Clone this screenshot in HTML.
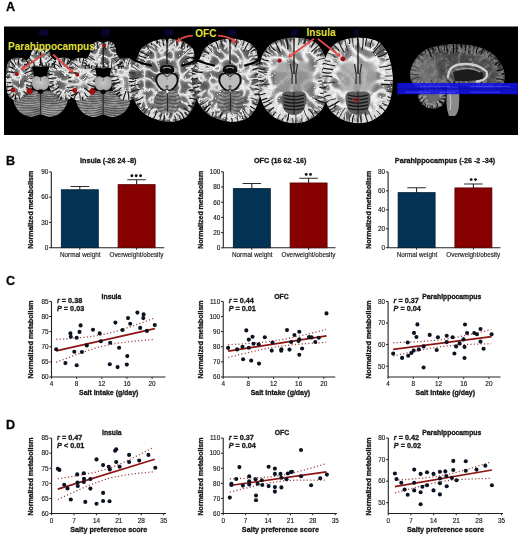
<!DOCTYPE html>
<html><head><meta charset="utf-8"><style>
html,body{margin:0;padding:0;background:#fff;}
body{width:520px;height:538px;overflow:hidden;}
svg{display:block;font-family:"Liberation Sans", sans-serif;}
.c text{stroke:#111;stroke-width:0.14px;}
.c text[font-weight="bold"]{stroke-width:0.3px;}
</style></head><body>
<svg width="520" height="538" viewBox="0 0 520 538">
<defs><filter id="soft" x="0" y="0" width="520" height="538" filterUnits="userSpaceOnUse" color-interpolation-filters="sRGB"><feGaussianBlur stdDeviation="0.3"/></filter></defs>
<rect width="520" height="538" fill="#fff"/>
<defs>
<filter id="brn" x="0" y="25" width="520" height="115" filterUnits="userSpaceOnUse" color-interpolation-filters="sRGB"><feTurbulence type="turbulence" baseFrequency="0.1" numOctaves="1" seed="2" result="n1"/><feColorMatrix in="n1" type="matrix" values="2.2 0 0 0 0  2.2 0 0 0 0  2.2 0 0 0 0  0 0 0 0 1" result="n1g"/><feComponentTransfer in="n1g" result="wm"><feFuncR type="table" tableValues="0.98 0.78 0.48 0.4 0.36 0.32 0.28"/><feFuncG type="table" tableValues="0.98 0.78 0.48 0.4 0.36 0.32 0.28"/><feFuncB type="table" tableValues="0.98 0.78 0.48 0.4 0.36 0.32 0.28"/></feComponentTransfer><feTurbulence type="turbulence" baseFrequency="0.13" numOctaves="1" seed="7" result="n2"/><feColorMatrix in="n2" type="matrix" values="0 0 0 0 0.07  0 0 0 0 0.07  0 0 0 0 0.07  -3.0 0 0 0 1" result="s0"/><feComponentTransfer in="s0" result="sul"><feFuncA type="table" tableValues="0 0 0 0 0 0.0 0"/></feComponentTransfer><feComposite in="sul" in2="wm" operator="over" result="c"/><feGaussianBlur in="c" stdDeviation="0.35" result="cb"/><feComposite in="cb" in2="SourceAlpha" operator="in"/></filter>
<filter id="brnB" x="0" y="25" width="520" height="115" filterUnits="userSpaceOnUse" color-interpolation-filters="sRGB"><feTurbulence type="turbulence" baseFrequency="0.085" numOctaves="1" seed="5" result="n1"/><feColorMatrix in="n1" type="matrix" values="2.2 0 0 0 0  2.2 0 0 0 0  2.2 0 0 0 0  0 0 0 0 1" result="n1g"/><feComponentTransfer in="n1g" result="wm"><feFuncR type="table" tableValues="1 0.95 0.78 0.55 0.45 0.4 0.36"/><feFuncG type="table" tableValues="1 0.95 0.78 0.55 0.45 0.4 0.36"/><feFuncB type="table" tableValues="1 0.95 0.78 0.55 0.45 0.4 0.36"/></feComponentTransfer><feTurbulence type="turbulence" baseFrequency="0.13" numOctaves="1" seed="9" result="n2"/><feColorMatrix in="n2" type="matrix" values="0 0 0 0 0.07  0 0 0 0 0.07  0 0 0 0 0.07  -3.0 0 0 0 1" result="s0"/><feComponentTransfer in="s0" result="sul"><feFuncA type="table" tableValues="0 0 0 0 0 0.0 0"/></feComponentTransfer><feComposite in="sul" in2="wm" operator="over" result="c"/><feGaussianBlur in="c" stdDeviation="0.35" result="cb"/><feComposite in="cb" in2="SourceAlpha" operator="in"/></filter>
<filter id="brnD" x="0" y="25" width="520" height="115" filterUnits="userSpaceOnUse" color-interpolation-filters="sRGB"><feTurbulence type="turbulence" baseFrequency="0.085" numOctaves="1" seed="8" result="n1"/><feColorMatrix in="n1" type="matrix" values="2.2 0 0 0 0  2.2 0 0 0 0  2.2 0 0 0 0  0 0 0 0 1" result="n1g"/><feComponentTransfer in="n1g" result="wm"><feFuncR type="table" tableValues="0.8 0.66 0.45 0.4 0.36 0.33 0.3"/><feFuncG type="table" tableValues="0.8 0.66 0.45 0.4 0.36 0.33 0.3"/><feFuncB type="table" tableValues="0.8 0.66 0.45 0.4 0.36 0.33 0.3"/></feComponentTransfer><feTurbulence type="turbulence" baseFrequency="0.13" numOctaves="1" seed="3" result="n2"/><feColorMatrix in="n2" type="matrix" values="0 0 0 0 0.07  0 0 0 0 0.07  0 0 0 0 0.07  -3.0 0 0 0 1" result="s0"/><feComponentTransfer in="s0" result="sul"><feFuncA type="table" tableValues="0 0 0 0 0 0.3 0.6"/></feComponentTransfer><feComposite in="sul" in2="wm" operator="over" result="c"/><feGaussianBlur in="c" stdDeviation="0.35" result="cb"/><feComposite in="cb" in2="SourceAlpha" operator="in"/></filter>
<filter id="softA" x="0" y="26" width="520" height="110" filterUnits="userSpaceOnUse" color-interpolation-filters="sRGB"><feGaussianBlur stdDeviation="0.4"/></filter>
<filter id="sb" x="-20%" y="-20%" width="140%" height="140%"><feGaussianBlur stdDeviation="0.7"/></filter>
<filter id="sb2" x="-30%" y="-30%" width="160%" height="160%"><feGaussianBlur stdDeviation="1.2"/></filter>
<radialGradient id="pons" cx="0.5" cy="0.45" r="0.6"><stop offset="0" stop-color="#c8c8c8"/><stop offset="0.8" stop-color="#a8a8a8"/><stop offset="1" stop-color="#8a8a8a"/></radialGradient>
<radialGradient id="rb" cx="0.5" cy="0.5" r="0.5"><stop offset="0" stop-color="#b80e0e"/><stop offset="0.6" stop-color="#9c0808"/><stop offset="1" stop-color="#900808" stop-opacity="0"/></radialGradient>
</defs>
<rect x="4" y="26.5" width="514" height="108.5" fill="#000"/>
<g filter="url(#softA)">
<clipPath id="cl1"><path d="M15.1 96.5C16.87 94.46 21.33 92.5 24.7 91.5C28.07 90.5 32.65 90.25 35.3 90.5C37.95 90.75 38.83 93 40.6 93C42.37 93 43.25 90.75 45.9 90.5C48.55 90.25 53.13 90.5 56.5 91.5C59.87 92.5 64.33 94.46 66.1 96.5C67.87 98.54 68.04 101 67.1 103.75C66.16 106.5 63.35 110.79 60.48 113C57.6 115.21 53.19 116.75 49.88 117C46.56 117.25 43.69 114.5 40.6 114.5C37.51 114.5 34.64 117.25 31.33 117C28.01 116.75 23.6 115.21 20.73 113C17.85 110.79 15.04 106.5 14.1 103.75C13.16 101 13.33 98.54 15.1 96.5Z"/></clipPath>
<g clip-path="url(#cl1)"><path d="M15.1 96.5C16.87 94.46 21.33 92.5 24.7 91.5C28.07 90.5 32.65 90.25 35.3 90.5C37.95 90.75 38.83 93 40.6 93C42.37 93 43.25 90.75 45.9 90.5C48.55 90.25 53.13 90.5 56.5 91.5C59.87 92.5 64.33 94.46 66.1 96.5C67.87 98.54 68.04 101 67.1 103.75C66.16 106.5 63.35 110.79 60.48 113C57.6 115.21 53.19 116.75 49.88 117C46.56 117.25 43.69 114.5 40.6 114.5C37.51 114.5 34.64 117.25 31.33 117C28.01 116.75 23.6 115.21 20.73 113C17.85 110.79 15.04 106.5 14.1 103.75C13.16 101 13.33 98.54 15.1 96.5Z" fill="#888888"/>
<path d="M15.1 96.5C16.87 94.46 21.33 92.5 24.7 91.5C28.07 90.5 32.65 90.25 35.3 90.5C37.95 90.75 38.83 93 40.6 93C42.37 93 43.25 90.75 45.9 90.5C48.55 90.25 53.13 90.5 56.5 91.5C59.87 92.5 64.33 94.46 66.1 96.5C67.87 98.54 68.04 101 67.1 103.75C66.16 106.5 63.35 110.79 60.48 113C57.6 115.21 53.19 116.75 49.88 117C46.56 117.25 43.69 114.5 40.6 114.5C37.51 114.5 34.64 117.25 31.33 117C28.01 116.75 23.6 115.21 20.73 113C17.85 110.79 15.04 106.5 14.1 103.75C13.16 101 13.33 98.54 15.1 96.5Z" fill="#fff" filter="url(#brnD)" opacity="0.35"/>
<path d="M39.4 91.12Q28.68 94.56 12.77 86.26M39.4 93.33Q28.68 96.77 12.77 89.18M39.4 95.53Q28.68 98.98 12.77 92.09M39.4 97.74Q28.68 101.19 12.77 95M39.4 99.95Q28.68 103.4 12.77 97.92M39.4 102.16Q28.68 105.61 12.77 100.84M39.4 104.37Q28.68 107.81 12.77 103.75M39.4 106.58Q28.68 110.02 12.77 106.66M39.4 108.78Q28.68 112.23 12.77 109.58M39.4 110.99Q28.68 114.44 12.77 112.5M39.4 113.2Q28.68 116.65 12.77 115.41M39.4 115.41Q28.68 118.86 12.77 118.33M41.8 91.12Q52.53 94.56 68.43 86.26M41.8 93.33Q52.53 96.77 68.43 89.18M41.8 95.53Q52.53 98.98 68.43 92.09M41.8 97.74Q52.53 101.19 68.43 95M41.8 99.95Q52.53 103.4 68.43 97.92M41.8 102.16Q52.53 105.61 68.43 100.84M41.8 104.37Q52.53 107.81 68.43 103.75M41.8 106.58Q52.53 110.02 68.43 106.66M41.8 108.78Q52.53 112.23 68.43 109.58M41.8 110.99Q52.53 114.44 68.43 112.5M41.8 113.2Q52.53 116.65 68.43 115.41M41.8 115.41Q52.53 118.86 68.43 118.33" stroke="#2e2e2e" stroke-width="0.75" fill="none" opacity="0.7"/>
<path d="M38.6 92.22Q28.68 95.67 12.77 87.36M38.6 94.43Q28.68 97.88 12.77 90.28M38.6 96.64Q28.68 100.08 12.77 93.19M38.6 98.85Q28.68 102.29 12.77 96.11M38.6 101.06Q28.68 104.5 12.77 99.02M38.6 103.26Q28.68 106.71 12.77 101.94M38.6 105.47Q28.68 108.92 12.77 104.85M38.6 107.68Q28.68 111.13 12.77 107.77M38.6 109.89Q28.68 113.33 12.77 110.68M38.6 112.1Q28.68 115.54 12.77 113.6M38.6 114.31Q28.68 117.75 12.77 116.51M38.6 116.51Q28.68 119.96 12.77 119.43M42.6 92.22Q52.53 95.67 68.43 87.36M42.6 94.43Q52.53 97.88 68.43 90.28M42.6 96.64Q52.53 100.08 68.43 93.19M42.6 98.85Q52.53 102.29 68.43 96.11M42.6 101.06Q52.53 104.5 68.43 99.02M42.6 103.26Q52.53 106.71 68.43 101.94M42.6 105.47Q52.53 108.92 68.43 104.85M42.6 107.68Q52.53 111.13 68.43 107.77M42.6 109.89Q52.53 113.33 68.43 110.68M42.6 112.1Q52.53 115.54 68.43 113.6M42.6 114.31Q52.53 117.75 68.43 116.51M42.6 116.51Q52.53 119.96 68.43 119.43" stroke="#c8c8c8" stroke-width="0.5" fill="none" opacity="0.55"/>
<path d="M40.6 93.5V117" stroke="#2a2a2a" stroke-width="1.3"/>
</g>
<clipPath id="cl2"><path d="M7 65C7.95 61.17 9.5 60.25 11.5 59C13.5 57.75 16.58 57.33 19 57.5C21.42 57.67 24 58.58 26 60C28 61.42 29.67 63.67 31 66C32.33 68.33 33.67 71 34 74C34.33 77 33.83 80.83 33 84C32.17 87.17 30.83 90.5 29 93C27.17 95.5 24.58 97.83 22 99C19.42 100.17 15.83 100.67 13.5 100C11.17 99.33 9.28 98 8 95C6.72 92 5.97 87 5.8 82C5.63 77 6.05 68.83 7 65Z"/></clipPath>
<g clip-path="url(#cl2)">
<path d="M7 65C7.95 61.17 9.5 60.25 11.5 59C13.5 57.75 16.58 57.33 19 57.5C21.42 57.67 24 58.58 26 60C28 61.42 29.67 63.67 31 66C32.33 68.33 33.67 71 34 74C34.33 77 33.83 80.83 33 84C32.17 87.17 30.83 90.5 29 93C27.17 95.5 24.58 97.83 22 99C19.42 100.17 15.83 100.67 13.5 100C11.17 99.33 9.28 98 8 95C6.72 92 5.97 87 5.8 82C5.63 77 6.05 68.83 7 65Z" fill="#6c6c6c"/>
<path d="M12 66.43L12.73 64.77L12.34 63.7L12.5 61.85L13.87 61L15.89 62.07L17.67 63.49L18.93 63.77L20.28 63.56L21.46 64.28L21.96 65.73L22.49 66.44L24.47 66.46L27.02 66.8L28.47 68.18L28.63 70.19L28.81 71.99L29.7 73.41L30.19 74.95L29.07 76.59L27.06 78.2L26.07 79.83L26.66 81.75L27.39 83.77L26.97 85.54L25.98 87.03L25.77 88.78L26.22 90.97L25.68 92.94L23.64 93.58L21.26 93.26L19.8 93.29L18.86 94.09L17.44 94.47L16.05 93.61L15.53 92.81L14.92 93.51L13.4 94.87L11.76 94.75L11.35 93.06L11.58 91.52L10.92 89.86L9.97 87.96L10.27 85.7L11.94 83.3L13.27 81.18L12.93 79.3L11.72 77.16L11.3 74.91L11.81 72.7L11.8 70.56L10.59 68.46L9.47 66.56Z" fill="#b4b4b4" filter="url(#sb)"/>
<path d="M12 66.43L12.73 64.77L12.34 63.7L12.5 61.85L13.87 61L15.89 62.07L17.67 63.49L18.93 63.77L20.28 63.56L21.46 64.28L21.96 65.73L22.49 66.44L24.47 66.46L27.02 66.8L28.47 68.18L28.63 70.19L28.81 71.99L29.7 73.41L30.19 74.95L29.07 76.59L27.06 78.2L26.07 79.83L26.66 81.75L27.39 83.77L26.97 85.54L25.98 87.03L25.77 88.78L26.22 90.97L25.68 92.94L23.64 93.58L21.26 93.26L19.8 93.29L18.86 94.09L17.44 94.47L16.05 93.61L15.53 92.81L14.92 93.51L13.4 94.87L11.76 94.75L11.35 93.06L11.58 91.52L10.92 89.86L9.97 87.96L10.27 85.7L11.94 83.3L13.27 81.18L12.93 79.3L11.72 77.16L11.3 74.91L11.81 72.7L11.8 70.56L10.59 68.46L9.47 66.56Z" fill="none" stroke="#dcdcdc" stroke-width="2.2" opacity="0.85" filter="url(#sb)"/>
<path d="M7 65C7.95 61.17 9.5 60.25 11.5 59C13.5 57.75 16.58 57.33 19 57.5C21.42 57.67 24 58.58 26 60C28 61.42 29.67 63.67 31 66C32.33 68.33 33.67 71 34 74C34.33 77 33.83 80.83 33 84C32.17 87.17 30.83 90.5 29 93C27.17 95.5 24.58 97.83 22 99C19.42 100.17 15.83 100.67 13.5 100C11.17 99.33 9.28 98 8 95C6.72 92 5.97 87 5.8 82C5.63 77 6.05 68.83 7 65Z" fill="#fff" filter="url(#brn)" opacity="0.85"/>
<path d="M16.46 61.45L13.97 59.25M30.23 73.37L32.92 75.22M29.65 73.7L32.33 75.54M21.76 88.66Q25.39 89.13 29.73 87.31M20.98 95.24L23.88 96.25M12.11 94.15L8.21 93.14M11.9 94.33L11.16 98.24M10.37 73.16L8.59 71.04" stroke="#dcdcdc" stroke-width="0.8" stroke-linecap="round" fill="none"/>
<path d="M14.77 62.53L15.98 59.96M20.13 67.96Q23.38 65.44 25.35 61.89M27.55 71.55L31.26 73.01M28.68 74.56Q30 73.13 31.57 73M27.26 82.79L29.12 85.63M28.24 83.74L31.57 81.74M21.18 92.04L21.51 95.9M21.42 94.33Q20.67 95.63 20.83 96.39M15.79 95.34L18.81 97.54M15.7 95.24L13.46 97.93M12.93 94.31L14.16 97.33M14.53 93.01Q12.43 93.48 11.1 95.18M11.88 88.74L10.17 91.19M9.81 85.23L7.66 83.3M10.24 85.21L7.23 82.51M9.29 80.61L6.54 83.56M11.43 69.39L9.29 66.52" stroke="#dcdcdc" stroke-width="1.2" stroke-linecap="round" fill="none"/>
<path d="M11.73 66.88Q10.34 66.22 10.84 63.24M14.96 66.68Q15.73 63.31 13.87 61M15.08 65.46Q15.11 62.74 17.56 60.07M25.69 82Q27.74 84.22 30.46 84.01M19.08 90.57Q21.06 93.25 26.15 91.67M11.34 90.92L8.55 89.21M16.18 74.26Q12.06 72.03 7.7 73.95M13.69 71.11Q11.69 68.52 9.31 69.61" stroke="#dcdcdc" stroke-width="1.6" stroke-linecap="round" fill="none"/>
<path d="M24.69 69.48Q26.41 67.25 28.6 65.79M26.97 73.59Q27.54 70.27 29.31 69.86M24.93 83.38Q27.99 82.92 31.12 80.72M14.33 93.43Q15.57 95.27 17.25 96.86M14.5 89.69Q12.45 93.37 12.8 98.12M14.46 89.44Q11.98 90.26 9.79 92.02M14.42 90.79Q11.6 87.95 9.49 88.03M11.56 84.4Q10.4 85.64 9.09 85.04M11.47 81.37Q9.69 80.88 7.97 79.98" stroke="#dcdcdc" stroke-width="2.0" stroke-linecap="round" fill="none"/>
<path d="M14.07 56.91Q13.63 61.66 15.97 64.69M29.28 61.73Q25.68 63.7 23.9 66.28M34.93 79.04Q32.22 78.09 30.35 78.55M34.31 82.82Q28.75 82.54 24.56 80.69M33.11 87.06Q29.46 85.6 26.65 84.79M25.55 97.98Q23.6 96.93 23.68 95.57M6.86 94.85Q9.67 95.09 10.61 93.36M4.83 82.88Q8.35 82.19 10.92 82.59M4.8 76.98Q8.52 77.17 11.25 77.15" stroke="#141414" stroke-width="0.8" stroke-linecap="round" fill="none"/>
<path d="M9.2 59.35Q12.02 63.3 14.67 66.12M19.86 56.58Q17.67 60.92 18.82 64.69M23.75 57.63Q22.15 59.38 22.43 60.82M32.21 66.11Q28.24 68.24 25.2 69.99M34.08 70.08Q28.75 71.26 24.85 73.42M34.99 73.88Q32.35 73.46 30.88 74.38M31.99 89.83Q28.06 89.61 26.27 87.17M27.84 95.93Q26.42 92.35 23.52 91.76M20.17 100.71Q19.86 98.45 19.25 97.32M16.18 101.3Q14.54 97.27 16.06 94.19M5.17 87.04Q9.57 86.72 12.94 86.14M5.04 72.21Q10.26 71.33 14.31 72.88" stroke="#141414" stroke-width="1.1" stroke-linecap="round" fill="none"/>
<path d="M9.7 99.13Q13.17 97.17 13.97 94.21M5.77 90.91Q10.31 90.45 13.69 89.3M5.58 67.09Q9.91 66.29 12.81 68.2" stroke="#141414" stroke-width="1.4" stroke-linecap="round" fill="none"/>
</g>
<clipPath id="cl3"><path d="M74.2 65C73.25 61.17 71.7 60.25 69.7 59C67.7 57.75 64.62 57.33 62.2 57.5C59.78 57.67 57.2 58.58 55.2 60C53.2 61.42 51.53 63.67 50.2 66C48.87 68.33 47.53 71 47.2 74C46.87 77 47.37 80.83 48.2 84C49.03 87.17 50.37 90.5 52.2 93C54.03 95.5 56.62 97.83 59.2 99C61.78 100.17 65.37 100.67 67.7 100C70.03 99.33 71.92 98 73.2 95C74.48 92 75.23 87 75.4 82C75.57 77 75.15 68.83 74.2 65Z"/></clipPath>
<g clip-path="url(#cl3)">
<path d="M74.2 65C73.25 61.17 71.7 60.25 69.7 59C67.7 57.75 64.62 57.33 62.2 57.5C59.78 57.67 57.2 58.58 55.2 60C53.2 61.42 51.53 63.67 50.2 66C48.87 68.33 47.53 71 47.2 74C46.87 77 47.37 80.83 48.2 84C49.03 87.17 50.37 90.5 52.2 93C54.03 95.5 56.62 97.83 59.2 99C61.78 100.17 65.37 100.67 67.7 100C70.03 99.33 71.92 98 73.2 95C74.48 92 75.23 87 75.4 82C75.57 77 75.15 68.83 74.2 65Z" fill="#6c6c6c"/>
<path d="M69.9 66.24L70.38 63.75L69.88 62.62L67.97 63L66.12 64.05L64.9 64.28L63.53 63.54L62.22 63.42L61.17 64.41L60.17 65.18L58.54 64.73L56.33 64.04L54.58 64.78L54.13 66.77L53.97 68.86L53.05 70.41L52.03 71.86L52.34 73.6L53.92 75.16L54.88 76.51L54.16 78.19L52.91 80.22L52.76 82.18L53.57 83.84L53.94 85.65L53.45 87.86L53.43 89.94L55 90.95L57.55 91.11L59.45 91.47L60.4 92.6L61.25 93.58L62.55 93.45L64.01 92.99L65.15 93.68L66.2 95.52L67.69 96.56L68.58 95.76L68.63 94.24L69.15 92.79L70.07 91.65L70.21 89.85L68.94 87.62L67.63 85.37L67.91 83.22L69.38 81.21L70.32 79.29L70.09 77.15L69.91 74.91L70.87 72.59L72.1 70.29L71.87 68.28L70.03 66.89Z" fill="#b4b4b4" filter="url(#sb)"/>
<path d="M69.9 66.24L70.38 63.75L69.88 62.62L67.97 63L66.12 64.05L64.9 64.28L63.53 63.54L62.22 63.42L61.17 64.41L60.17 65.18L58.54 64.73L56.33 64.04L54.58 64.78L54.13 66.77L53.97 68.86L53.05 70.41L52.03 71.86L52.34 73.6L53.92 75.16L54.88 76.51L54.16 78.19L52.91 80.22L52.76 82.18L53.57 83.84L53.94 85.65L53.45 87.86L53.43 89.94L55 90.95L57.55 91.11L59.45 91.47L60.4 92.6L61.25 93.58L62.55 93.45L64.01 92.99L65.15 93.68L66.2 95.52L67.69 96.56L68.58 95.76L68.63 94.24L69.15 92.79L70.07 91.65L70.21 89.85L68.94 87.62L67.63 85.37L67.91 83.22L69.38 81.21L70.32 79.29L70.09 77.15L69.91 74.91L70.87 72.59L72.1 70.29L71.87 68.28L70.03 66.89Z" fill="none" stroke="#dcdcdc" stroke-width="2.2" opacity="0.85" filter="url(#sb)"/>
<path d="M74.2 65C73.25 61.17 71.7 60.25 69.7 59C67.7 57.75 64.62 57.33 62.2 57.5C59.78 57.67 57.2 58.58 55.2 60C53.2 61.42 51.53 63.67 50.2 66C48.87 68.33 47.53 71 47.2 74C46.87 77 47.37 80.83 48.2 84C49.03 87.17 50.37 90.5 52.2 93C54.03 95.5 56.62 97.83 59.2 99C61.78 100.17 65.37 100.67 67.7 100C70.03 99.33 71.92 98 73.2 95C74.48 92 75.23 87 75.4 82C75.57 77 75.15 68.83 74.2 65Z" fill="#fff" filter="url(#brn)" opacity="0.85"/>
<path d="M68.21 66.45L68.78 62.87M62.06 61.92L59.42 60.23M56.67 64.03L53.71 63.62M60.24 68.48Q57.36 65.8 53.72 64.11M56.68 65.73L56.48 63.47M51.37 74.27L49.97 71.64M55.21 91.33L54.97 94.12M61.91 94.89L63.06 98.13M68.75 93.72L72.64 92.44M67.15 93.62L67.94 96.64M69.31 86.57L71.38 89.35M70.7 80.91L72.52 82.95M69.14 80.76L71.84 83.53" stroke="#dcdcdc" stroke-width="0.8" stroke-linecap="round" fill="none"/>
<path d="M66.12 69.7Q68.46 65.71 71.3 62.6M61.93 63.78Q62.55 61.79 61.2 60.17M58.03 67.15Q56.49 64.79 56.29 61.54M55.86 69.91Q53.95 68.15 51.16 68.06M53.98 74.77Q51.55 75.58 50.2 72.5M57 76.71Q52.96 76.48 48.93 76.69M56.51 82.39Q52.56 80.2 49.05 80.18M52.93 86.22L50.12 84.61M54.54 89.64L53.88 91.86M60.47 89.95Q56.09 89.83 53.98 92.51M59.05 93.37L55.29 93.44M66.6 95.67L68.3 97.51M64.31 95.32L66.71 95.89M65 95.8L63.86 99.49M64.85 94.16Q68.36 92.92 70.22 94.45M65.37 86.95Q68.79 86.42 72.12 86.59M68.22 79.78Q70.9 81.39 73.58 81.31M66.5 82.28Q70.17 80.28 73.64 77.81" stroke="#dcdcdc" stroke-width="1.2" stroke-linecap="round" fill="none"/>
<path d="M55.83 85.94Q53.82 87.5 50.65 84.73M55.44 88.3Q54.64 90.82 51.86 89.33M62.22 92.95Q59.33 93.15 57.34 93.82M63.69 93.6Q62.21 94.92 60.13 95.76M66.76 92.51Q67.82 95.52 64.45 98.15M63.59 93.75Q63.83 96.34 68.1 96.43M71.08 87.79L73 90.89M65.32 71.93Q68.65 71.35 72.02 74.81M70.99 69.54L74.06 72.1M69.67 69.79L72.59 72.23" stroke="#dcdcdc" stroke-width="1.6" stroke-linecap="round" fill="none"/>
<path d="M66.39 65.62Q64.89 62.41 66.39 59.96M70.04 87.45Q71.33 86.66 71.47 90.1" stroke="#dcdcdc" stroke-width="2.0" stroke-linecap="round" fill="none"/>
<path d="M67.61 69.9Q70.5 69.98 73.22 68.77" stroke="#dcdcdc" stroke-width="2.4" stroke-linecap="round" fill="none"/>
<path d="M69.51 57.75Q68.58 62.48 65.88 65.24M64.59 56.52Q64.71 59.4 64.21 61.22M52.93 60.62Q55.76 64.74 59.15 66.88M47.4 69.38Q50.68 72.57 54.34 72.17M46.89 82.82Q50.61 81.93 53.39 81.4M53.36 95.93Q57.34 93.39 59.29 90.2M56.88 98.86Q59.78 95.09 61.49 91.74M66.55 101.23Q64.83 97.83 65.87 95.13M72.11 98.55Q70.07 97.31 69.44 96.03M76.2 85.4Q72.58 86.38 70.18 84.88M76.34 75.39Q71.55 74.32 67.87 75.75M76.16 72.21Q73.94 73.83 72.51 72.47" stroke="#141414" stroke-width="0.8" stroke-linecap="round" fill="none"/>
<path d="M58.21 57.34Q58.77 62.88 61.51 66.59M49.72 64.85Q54.14 66.22 56.54 68.99M46.32 73.09Q49.63 75.23 52.47 74.13M46.27 79.04Q51.49 78.28 55.75 78.02M50.6 92.41Q55.08 89.34 58.97 87.19M74.55 94.25Q71.61 94.54 70.4 92.83M75.83 88.64Q70.94 89.4 67.47 87.41M76.43 79.27Q74 80.08 72.55 79.28M75.62 67.09Q70.83 66.52 67.42 68.34" stroke="#141414" stroke-width="1.1" stroke-linecap="round" fill="none"/>
<path d="M71.42 58.92Q70.44 62.57 67.89 63.88M48.09 87.06Q51.63 86.43 53.83 85.04M60.25 100.48Q60.41 98.16 61.34 97.16" stroke="#141414" stroke-width="1.4" stroke-linecap="round" fill="none"/>
</g>
<clipPath id="cl4"><path d="M31.8 51C32.97 49.46 35.17 48.25 36.64 48C38.11 47.75 39.28 49.5 40.6 49.5C41.92 49.5 43.09 47.75 44.56 48C46.03 48.25 48.23 49.46 49.4 51C50.57 52.54 50.43 55.5 51.6 57.25C52.77 59 55.78 59.88 56.44 61.5C57.1 63.12 57.47 66.17 55.56 67C53.65 67.83 47.49 66.5 45 66.5C42.51 66.5 42.07 67 40.6 67C39.13 67 38.69 66.5 36.2 66.5C33.71 66.5 27.55 67.83 25.64 67C23.73 66.17 24.1 63.12 24.76 61.5C25.42 59.88 28.43 59 29.6 57.25C30.77 55.5 30.63 52.54 31.8 51Z"/></clipPath>
<g clip-path="url(#cl4)">
<path d="M31.8 51C32.97 49.46 35.17 48.25 36.64 48C38.11 47.75 39.28 49.5 40.6 49.5C41.92 49.5 43.09 47.75 44.56 48C46.03 48.25 48.23 49.46 49.4 51C50.57 52.54 50.43 55.5 51.6 57.25C52.77 59 55.78 59.88 56.44 61.5C57.1 63.12 57.47 66.17 55.56 67C53.65 67.83 47.49 66.5 45 66.5C42.51 66.5 42.07 67 40.6 67C39.13 67 38.69 66.5 36.2 66.5C33.71 66.5 27.55 67.83 25.64 67C23.73 66.17 24.1 63.12 24.76 61.5C25.42 59.88 28.43 59 29.6 57.25C30.77 55.5 30.63 52.54 31.8 51Z" fill="#6c6c6c"/>
<path d="M35.2 53.46L36.63 53.85L37.45 53.38L36.44 52.61L37.4 53.07L42.55 54.05L44.92 52.7L44.29 51.62L45.91 50.98L47.31 51.96L47 53.36L46.68 55.41L47.71 58.37L50.13 61.2L51.91 63.36L51.48 64.25L51.08 63.94L52.43 63.77L54.04 63.84L53.33 64.03L51.27 63.52L48.83 63.42L46.39 63.95L43.73 64.16L41.33 63.45L40.36 62.04L38.76 61.23L35.5 61.63L33.06 62.27L30.58 62.22L28.4 62.15L27.11 62.99L27.1 64.73L26.35 64.08L27.3 62.64L28.35 62.99L30.27 61.89L32.57 59.29L34.32 56.3L36.02 54.4Z" fill="#c8c8c8" filter="url(#sb)"/>
<path d="M35.2 53.46L36.63 53.85L37.45 53.38L36.44 52.61L37.4 53.07L42.55 54.05L44.92 52.7L44.29 51.62L45.91 50.98L47.31 51.96L47 53.36L46.68 55.41L47.71 58.37L50.13 61.2L51.91 63.36L51.48 64.25L51.08 63.94L52.43 63.77L54.04 63.84L53.33 64.03L51.27 63.52L48.83 63.42L46.39 63.95L43.73 64.16L41.33 63.45L40.36 62.04L38.76 61.23L35.5 61.63L33.06 62.27L30.58 62.22L28.4 62.15L27.11 62.99L27.1 64.73L26.35 64.08L27.3 62.64L28.35 62.99L30.27 61.89L32.57 59.29L34.32 56.3L36.02 54.4Z" fill="none" stroke="#dcdcdc" stroke-width="2.2" opacity="0.85" filter="url(#sb)"/>
<path d="M31.8 51C32.97 49.46 35.17 48.25 36.64 48C38.11 47.75 39.28 49.5 40.6 49.5C41.92 49.5 43.09 47.75 44.56 48C46.03 48.25 48.23 49.46 49.4 51C50.57 52.54 50.43 55.5 51.6 57.25C52.77 59 55.78 59.88 56.44 61.5C57.1 63.12 57.47 66.17 55.56 67C53.65 67.83 47.49 66.5 45 66.5C42.51 66.5 42.07 67 40.6 67C39.13 67 38.69 66.5 36.2 66.5C33.71 66.5 27.55 67.83 25.64 67C23.73 66.17 24.1 63.12 24.76 61.5C25.42 59.88 28.43 59 29.6 57.25C30.77 55.5 30.63 52.54 31.8 51Z" fill="#fff" filter="url(#brn)" opacity="0.85"/>
<path d="M36.89 53.05L36.9 49.55M37.79 51.01L39.63 49.17M42.9 53.26Q40.6 53.31 42.07 52.33M41.55 53.06L42.91 50.84M41.5 52.97L39.22 51.78M46.92 56.03Q47.92 55.84 48.41 54.17M48.08 55.01L51.52 57.22M53.43 63.68L55.86 63.34M54.96 64.63L56.83 66.44M54.38 64.81L56.5 66.86M34.61 63.96L32.94 65.45M34.52 63.84L36.47 65.75M26.61 61.99L28.86 64.04M29.67 64.87L28.66 68.09M29.79 64.87L28.94 67.61M29.84 61.54L27.44 61.2" stroke="#dcdcdc" stroke-width="0.8" stroke-linecap="round" fill="none"/>
<path d="M37.89 54.8Q36.92 51.89 33.5 51.59M37.85 50.88Q38.3 50.94 36.74 51.28M53.44 65.47Q53.82 64.09 52.83 62.06M52.38 62.31L55.18 64.59M51.9 62.04L53.54 59.73M53.21 64L55.79 63.69M54.56 64.31Q55.83 64.74 53.31 64.93M51.17 64.52L52.64 66.24M48.56 62.9L45.46 65.2M43.42 61.62L46.17 63.84M32.68 64.87Q29.19 64.78 26 65.11M31.18 62.97Q30.49 61.19 27.65 61.03M33.66 60.65L30.08 61.44" stroke="#dcdcdc" stroke-width="1.2" stroke-linecap="round" fill="none"/>
<path d="M45.24 51.97Q44.36 50.26 46.7 50.89M45.09 57.4Q45.81 55.05 48.05 56.99M48.98 60.99Q51.56 61.47 54.13 63.53M51.26 63.83Q51.55 64.59 50.29 65.13M47.67 59.17Q49.46 62.15 47.86 64.73M42.74 60.39Q43.78 61.8 43.67 63.26M35.22 63.36Q33.41 63.92 36.24 64.48M24.63 59.74Q27.5 62.43 27.89 64.98" stroke="#dcdcdc" stroke-width="1.6" stroke-linecap="round" fill="none"/>
<path d="M49.89 62.28Q52.92 63.42 55.11 65.57M27.72 63.99Q27.69 62.84 27.37 63.04M35.5 62.05Q33.18 60.42 31.19 58.34" stroke="#dcdcdc" stroke-width="2.0" stroke-linecap="round" fill="none"/>
<path d="M32.88 48.63Q34.75 51.56 36.34 53.46M42.81 47.35Q42.23 50.37 44.35 51.26M51.73 54.92Q49.86 57.29 47.99 55.98M57.9 65.19Q54.62 64 52.13 64.08M48.3 67.81Q48.73 65.02 48.85 63.21M29.54 68.18Q28.77 63.84 28.92 60.42M25.76 68.09Q27.22 64.19 28.05 61.14M29.47 54.92Q32.02 54.94 33.25 55.99" stroke="#141414" stroke-width="0.8" stroke-linecap="round" fill="none"/>
<path d="M46.87 47.76Q44.56 49.78 44.78 51.95M50.21 50.41Q47.55 51.48 46.51 53.09M52.79 57.13Q49.97 60.25 47.36 62.13M56.4 59.8Q54.91 63.5 51.94 64.35M51.66 68.18Q52.42 65.64 51.99 64.01M45.51 67.52Q47.06 64.69 45.67 62.76M42.57 67.74Q42.48 65.11 41.9 63.57M39.21 67.86Q40.43 65.85 39.71 64.56M33.69 67.71Q35.03 63.7 32.93 61.09M23.23 64.09Q25.85 64.94 27.47 64.07M24.24 60.41Q27.46 60.9 28.2 63.18M27.94 57.55Q31.29 59.52 32.08 62.37" stroke="#141414" stroke-width="1.1" stroke-linecap="round" fill="none"/>
<path d="M38.39 47.35Q37.23 50.77 36.11 53.13M54.71 68.22Q54.06 65.43 54.15 63.56" stroke="#141414" stroke-width="1.4" stroke-linecap="round" fill="none"/>
</g>
<path d="M40.6 49.5V65.5" stroke="#111" stroke-width="1.3"/>
<circle cx="37.1" cy="64" r="1.1" fill="#eee"/><circle cx="44.1" cy="64" r="1.1" fill="#eee"/>
<path d="M33.1 78C33.85 76.67 35.35 76.08 36.6 76C37.85 75.92 39.27 77.5 40.6 77.5C41.93 77.5 43.35 75.92 44.6 76C45.85 76.08 47.35 76.67 48.1 78C48.85 79.33 49.35 82.17 49.1 84C48.85 85.83 48.02 87.92 46.6 89C45.18 90.08 42.6 90.5 40.6 90.5C38.6 90.5 36.02 90.08 34.6 89C33.18 87.92 32.35 85.83 32.1 84C31.85 82.17 32.35 79.33 33.1 78Z" fill="url(#pons)"/>
<path d="M40.6 78v3" stroke="#777" stroke-width="1"/>
<ellipse cx="40.6" cy="91.5" rx="2.7" ry="2.3" fill="#080808"/>
<clipPath id="cl5"><path d="M77.7 96.8C79.47 94.76 83.93 92.8 87.3 91.8C90.67 90.8 95.25 90.55 97.9 90.8C100.55 91.05 101.43 93.3 103.2 93.3C104.97 93.3 105.85 91.05 108.5 90.8C111.15 90.55 115.73 90.8 119.1 91.8C122.47 92.8 126.93 94.76 128.7 96.8C130.47 98.84 130.64 101.3 129.7 104.05C128.76 106.8 125.95 111.09 123.08 113.3C120.2 115.51 115.79 117.05 112.47 117.3C109.16 117.55 106.29 114.8 103.2 114.8C100.11 114.8 97.24 117.55 93.93 117.3C90.61 117.05 86.2 115.51 83.33 113.3C80.45 111.09 77.64 106.8 76.7 104.05C75.76 101.3 75.93 98.84 77.7 96.8Z"/></clipPath>
<g clip-path="url(#cl5)"><path d="M77.7 96.8C79.47 94.76 83.93 92.8 87.3 91.8C90.67 90.8 95.25 90.55 97.9 90.8C100.55 91.05 101.43 93.3 103.2 93.3C104.97 93.3 105.85 91.05 108.5 90.8C111.15 90.55 115.73 90.8 119.1 91.8C122.47 92.8 126.93 94.76 128.7 96.8C130.47 98.84 130.64 101.3 129.7 104.05C128.76 106.8 125.95 111.09 123.08 113.3C120.2 115.51 115.79 117.05 112.47 117.3C109.16 117.55 106.29 114.8 103.2 114.8C100.11 114.8 97.24 117.55 93.93 117.3C90.61 117.05 86.2 115.51 83.33 113.3C80.45 111.09 77.64 106.8 76.7 104.05C75.76 101.3 75.93 98.84 77.7 96.8Z" fill="#888888"/>
<path d="M77.7 96.8C79.47 94.76 83.93 92.8 87.3 91.8C90.67 90.8 95.25 90.55 97.9 90.8C100.55 91.05 101.43 93.3 103.2 93.3C104.97 93.3 105.85 91.05 108.5 90.8C111.15 90.55 115.73 90.8 119.1 91.8C122.47 92.8 126.93 94.76 128.7 96.8C130.47 98.84 130.64 101.3 129.7 104.05C128.76 106.8 125.95 111.09 123.08 113.3C120.2 115.51 115.79 117.05 112.47 117.3C109.16 117.55 106.29 114.8 103.2 114.8C100.11 114.8 97.24 117.55 93.93 117.3C90.61 117.05 86.2 115.51 83.33 113.3C80.45 111.09 77.64 106.8 76.7 104.05C75.76 101.3 75.93 98.84 77.7 96.8Z" fill="#fff" filter="url(#brnD)" opacity="0.35"/>
<path d="M102 91.42Q91.28 94.86 75.38 86.56M102 93.63Q91.28 97.07 75.38 89.48M102 95.83Q91.28 99.28 75.38 92.39M102 98.04Q91.28 101.49 75.38 95.3M102 100.25Q91.28 103.7 75.38 98.22M102 102.46Q91.28 105.91 75.38 101.14M102 104.67Q91.28 108.11 75.38 104.05M102 106.88Q91.28 110.32 75.38 106.97M102 109.08Q91.28 112.53 75.38 109.88M102 111.29Q91.28 114.74 75.38 112.8M102 113.5Q91.28 116.95 75.38 115.71M102 115.71Q91.28 119.16 75.38 118.62M104.4 91.42Q115.12 94.86 131.03 86.56M104.4 93.63Q115.12 97.07 131.03 89.48M104.4 95.83Q115.12 99.28 131.03 92.39M104.4 98.04Q115.12 101.49 131.03 95.3M104.4 100.25Q115.12 103.7 131.03 98.22M104.4 102.46Q115.12 105.91 131.03 101.14M104.4 104.67Q115.12 108.11 131.03 104.05M104.4 106.88Q115.12 110.32 131.03 106.97M104.4 109.08Q115.12 112.53 131.03 109.88M104.4 111.29Q115.12 114.74 131.03 112.8M104.4 113.5Q115.12 116.95 131.03 115.71M104.4 115.71Q115.12 119.16 131.03 118.62" stroke="#2e2e2e" stroke-width="0.75" fill="none" opacity="0.7"/>
<path d="M101.2 92.52Q91.28 95.97 75.38 87.66M101.2 94.73Q91.28 98.18 75.38 90.58M101.2 96.94Q91.28 100.38 75.38 93.49M101.2 99.15Q91.28 102.59 75.38 96.41M101.2 101.36Q91.28 104.8 75.38 99.32M101.2 103.56Q91.28 107.01 75.38 102.24M101.2 105.77Q91.28 109.22 75.38 105.15M101.2 107.98Q91.28 111.43 75.38 108.07M101.2 110.19Q91.28 113.63 75.38 110.98M101.2 112.4Q91.28 115.84 75.38 113.9M101.2 114.61Q91.28 118.05 75.38 116.81M101.2 116.81Q91.28 120.26 75.38 119.73M105.2 92.52Q115.12 95.97 131.03 87.66M105.2 94.73Q115.12 98.18 131.03 90.58M105.2 96.94Q115.12 100.38 131.03 93.49M105.2 99.15Q115.12 102.59 131.03 96.41M105.2 101.36Q115.12 104.8 131.03 99.32M105.2 103.56Q115.12 107.01 131.03 102.24M105.2 105.77Q115.12 109.22 131.03 105.15M105.2 107.98Q115.12 111.43 131.03 108.07M105.2 110.19Q115.12 113.63 131.03 110.98M105.2 112.4Q115.12 115.84 131.03 113.9M105.2 114.61Q115.12 118.05 131.03 116.81M105.2 116.81Q115.12 120.26 131.03 119.73" stroke="#c8c8c8" stroke-width="0.5" fill="none" opacity="0.55"/>
<path d="M103.2 93.8V117.3" stroke="#2a2a2a" stroke-width="1.3"/>
</g>
<clipPath id="cl6"><path d="M69.6 65.3C70.55 61.47 72.1 60.55 74.1 59.3C76.1 58.05 79.18 57.63 81.6 57.8C84.02 57.97 86.6 58.88 88.6 60.3C90.6 61.72 92.27 63.97 93.6 66.3C94.93 68.63 96.27 71.3 96.6 74.3C96.93 77.3 96.43 81.13 95.6 84.3C94.77 87.47 93.43 90.8 91.6 93.3C89.77 95.8 87.18 98.13 84.6 99.3C82.02 100.47 78.43 100.97 76.1 100.3C73.77 99.63 71.88 98.3 70.6 95.3C69.32 92.3 68.57 87.3 68.4 82.3C68.23 77.3 68.65 69.13 69.6 65.3Z"/></clipPath>
<g clip-path="url(#cl6)">
<path d="M69.6 65.3C70.55 61.47 72.1 60.55 74.1 59.3C76.1 58.05 79.18 57.63 81.6 57.8C84.02 57.97 86.6 58.88 88.6 60.3C90.6 61.72 92.27 63.97 93.6 66.3C94.93 68.63 96.27 71.3 96.6 74.3C96.93 77.3 96.43 81.13 95.6 84.3C94.77 87.47 93.43 90.8 91.6 93.3C89.77 95.8 87.18 98.13 84.6 99.3C82.02 100.47 78.43 100.97 76.1 100.3C73.77 99.63 71.88 98.3 70.6 95.3C69.32 92.3 68.57 87.3 68.4 82.3C68.23 77.3 68.65 69.13 69.6 65.3Z" fill="#6c6c6c"/>
<path d="M74.52 66.71L74.24 64.49L73.91 62.92L75.17 62.26L77.19 63.12L78.84 64.26L80.28 64.19L81.58 63.67L82.79 64.17L83.64 65.46L84.61 65.96L86.43 65.38L88.83 65.38L90.16 66.75L90.32 68.89L90.66 70.76L91.7 72.18L92.29 73.71L91.25 75.36L89.49 76.83L88.9 78.41L89.83 80.34L90.7 82.39L90.35 84.17L89.47 85.8L89.4 87.72L89.9 89.96L89.43 91.71L87.3 92.36L84.83 92.31L83.3 92.77L82.51 93.8L81.43 94.29L79.86 93.72L78.64 93.28L77.89 94.33L76.52 95.96L75.08 96.22L74.66 94.86L74.63 93.09L73.99 91.87L73.11 90.25L73.51 88.12L75.1 85.78L76.12 83.51L75.44 81.49L74.07 79.6L73.63 77.45L74.07 75.22L73.92 72.96L72.67 70.69L71.72 68.55L72.51 66.95Z" fill="#b4b4b4" filter="url(#sb)"/>
<path d="M74.52 66.71L74.24 64.49L73.91 62.92L75.17 62.26L77.19 63.12L78.84 64.26L80.28 64.19L81.58 63.67L82.79 64.17L83.64 65.46L84.61 65.96L86.43 65.38L88.83 65.38L90.16 66.75L90.32 68.89L90.66 70.76L91.7 72.18L92.29 73.71L91.25 75.36L89.49 76.83L88.9 78.41L89.83 80.34L90.7 82.39L90.35 84.17L89.47 85.8L89.4 87.72L89.9 89.96L89.43 91.71L87.3 92.36L84.83 92.31L83.3 92.77L82.51 93.8L81.43 94.29L79.86 93.72L78.64 93.28L77.89 94.33L76.52 95.96L75.08 96.22L74.66 94.86L74.63 93.09L73.99 91.87L73.11 90.25L73.51 88.12L75.1 85.78L76.12 83.51L75.44 81.49L74.07 79.6L73.63 77.45L74.07 75.22L73.92 72.96L72.67 70.69L71.72 68.55L72.51 66.95Z" fill="none" stroke="#dcdcdc" stroke-width="2.2" opacity="0.85" filter="url(#sb)"/>
<path d="M69.6 65.3C70.55 61.47 72.1 60.55 74.1 59.3C76.1 58.05 79.18 57.63 81.6 57.8C84.02 57.97 86.6 58.88 88.6 60.3C90.6 61.72 92.27 63.97 93.6 66.3C94.93 68.63 96.27 71.3 96.6 74.3C96.93 77.3 96.43 81.13 95.6 84.3C94.77 87.47 93.43 90.8 91.6 93.3C89.77 95.8 87.18 98.13 84.6 99.3C82.02 100.47 78.43 100.97 76.1 100.3C73.77 99.63 71.88 98.3 70.6 95.3C69.32 92.3 68.57 87.3 68.4 82.3C68.23 77.3 68.65 69.13 69.6 65.3Z" fill="#fff" filter="url(#brn)" opacity="0.85"/>
<path d="M88.33 67.92L91.48 68.63M80.69 97.1L78.34 100.53M72.2 89.16L70.04 92.28M74.15 79.46L71.95 81.78M77.67 67.27Q74.81 67.35 71.92 70.61M73.54 69.03L71.4 70.9M73.83 68.8L70.72 71.52" stroke="#dcdcdc" stroke-width="0.8" stroke-linecap="round" fill="none"/>
<path d="M73.42 64.91L70.3 66.32M80.21 61.62L77.33 59.54M83.63 68.62Q85.74 66.04 85.2 62.22M83.56 69.94Q88.07 69.03 90.81 65.53M90.32 69.28L93.49 70.36M92.46 75.32L94.07 72.63M92.99 74.96L95.16 76.45M91.55 79.53L94.11 77.22M91.53 82.23L93.78 80.75M91.88 82.32L94.89 80.33M89.13 86.89Q90.12 89.05 92.65 87.01M87.27 90.17L88.04 94.08M81.14 95.05Q80.06 96.94 81.34 98.28M75.9 89.95Q77.61 94.73 76.1 98.22M74.19 91.82L71.58 90.13M76.73 80.87Q73.85 78.54 70.99 79.58" stroke="#dcdcdc" stroke-width="1.2" stroke-linecap="round" fill="none"/>
<path d="M74.29 66.07Q73.64 64.98 72.82 64.4M79.86 63.99Q78.83 61.81 75.22 61.28M85.7 70.7Q89.27 69.79 92.57 68.39M88.93 76.38Q92.25 76.33 94.85 73.16M90.29 82.57Q91.65 81.75 92.55 82.84M82.6 90.52Q87.01 89.67 90 90.71M86.75 92.54L86.56 96.44M86.82 92.75L89.29 92.71M75.09 87.85Q73.17 90.14 70.67 88.54M73.16 72.82L70.2 75.69" stroke="#dcdcdc" stroke-width="1.6" stroke-linecap="round" fill="none"/>
<path d="M81.62 64.01Q81.31 62.09 78.85 60.63M80.76 62.27Q81.33 61.58 81.93 60.96M86.64 68.14Q87.29 65.72 87.72 63.31M87.47 79.03Q90.51 80.83 93.88 78.27M78.92 91.65Q75.78 92.05 72.49 91.67M77.72 71.57Q73.95 71.56 70.15 75.02" stroke="#dcdcdc" stroke-width="2.0" stroke-linecap="round" fill="none"/>
<path d="M86.36 91.31Q86.81 92.64 87.16 93.94" stroke="#dcdcdc" stroke-width="2.4" stroke-linecap="round" fill="none"/>
<path d="M70.19 61.33Q75.25 63.62 78.4 66.92M75.85 57.44Q75.23 60.11 76.96 60.99M80.38 101.48Q80.55 96.44 79.28 92.58M67.77 87.34Q70.8 88.65 72.47 86.8" stroke="#141414" stroke-width="0.8" stroke-linecap="round" fill="none"/>
<path d="M80.05 56.77Q79.22 60.1 80.23 62.38M84.04 57.17Q83.04 61.69 82.1 65.18M88.51 59.04Q86.5 62.56 84.76 65.07M91.39 61.46Q89.83 64.03 87.88 64.69M94.81 66.41Q93.16 68.11 91.71 68.12M96.11 68.99Q92.9 69.1 91.57 70.99M97.59 74.18Q95.39 75.77 93.87 74.63M95.95 86.66Q90.95 86.39 87.71 83.95M88.74 97.8Q85.44 95.72 84.61 92.86M73.63 100.36Q74.85 94.9 78.44 91.94M69.69 95.72Q74.23 95.49 76.42 92.59M68.23 90.47Q71.86 90.96 74.1 89.4M67.38 81.68Q69.71 80.46 71.09 81.59M67.4 77.28Q69.53 77.95 70.7 77.37M68.09 68.06Q71.53 67.19 73.61 68.81" stroke="#141414" stroke-width="1.1" stroke-linecap="round" fill="none"/>
<path d="M97.21 81.63Q94.85 80.96 93.39 80.96M94.89 89.45Q92.45 89.68 91.86 88.14M92.41 93.89Q87.91 91.26 84.85 88.36M83.55 100.78Q81.93 98.89 82.43 97.36M67.64 72.51Q72.96 72.74 77.27 73.21" stroke="#141414" stroke-width="1.4" stroke-linecap="round" fill="none"/>
</g>
<clipPath id="cl7"><path d="M136.8 65.3C135.85 61.47 134.3 60.55 132.3 59.3C130.3 58.05 127.22 57.63 124.8 57.8C122.38 57.97 119.8 58.88 117.8 60.3C115.8 61.72 114.13 63.97 112.8 66.3C111.47 68.63 110.13 71.3 109.8 74.3C109.47 77.3 109.97 81.13 110.8 84.3C111.63 87.47 112.97 90.8 114.8 93.3C116.63 95.8 119.22 98.13 121.8 99.3C124.38 100.47 127.97 100.97 130.3 100.3C132.63 99.63 134.52 98.3 135.8 95.3C137.08 92.3 137.83 87.3 138 82.3C138.17 77.3 137.75 69.13 136.8 65.3Z"/></clipPath>
<g clip-path="url(#cl7)">
<path d="M136.8 65.3C135.85 61.47 134.3 60.55 132.3 59.3C130.3 58.05 127.22 57.63 124.8 57.8C122.38 57.97 119.8 58.88 117.8 60.3C115.8 61.72 114.13 63.97 112.8 66.3C111.47 68.63 110.13 71.3 109.8 74.3C109.47 77.3 109.97 81.13 110.8 84.3C111.63 87.47 112.97 90.8 114.8 93.3C116.63 95.8 119.22 98.13 121.8 99.3C124.38 100.47 127.97 100.97 130.3 100.3C132.63 99.63 134.52 98.3 135.8 95.3C137.08 92.3 137.83 87.3 138 82.3C138.17 77.3 137.75 69.13 136.8 65.3Z" fill="#6c6c6c"/>
<path d="M130.36 67.15L130.84 65.19L130.63 64.85L129.71 64.64L129.06 63.48L128.07 61.48L126.24 60.37L124.52 61.35L123.34 63.28L122.26 64.42L120.96 64.77L120.16 65.58L120.11 67.37L119.95 69.14L118.41 70.18L115.9 70.83L114.14 71.98L113.96 73.68L114.28 75.3L113.83 76.92L113.26 78.87L114.1 80.77L116.34 82.24L118.2 83.52L118.52 85.21L118.14 87.19L118.56 88.78L119.69 89.72L120.51 91.08L120.62 93.36L121.06 95.64L122.55 96.39L124.55 95.6L126.33 94.93L127.73 95.2L128.7 95.31L129.07 94.22L128.56 93.03L128.69 92.93L130.64 92.64L132.56 91.92L133.16 90.22L132.94 88.13L133.38 85.99L134.47 83.76L134.64 81.58L133.12 79.59L131.22 77.49L130.68 75.3L131.43 73.04L131.87 70.87L131.28 69.02L130.82 67.53Z" fill="#b4b4b4" filter="url(#sb)"/>
<path d="M130.36 67.15L130.84 65.19L130.63 64.85L129.71 64.64L129.06 63.48L128.07 61.48L126.24 60.37L124.52 61.35L123.34 63.28L122.26 64.42L120.96 64.77L120.16 65.58L120.11 67.37L119.95 69.14L118.41 70.18L115.9 70.83L114.14 71.98L113.96 73.68L114.28 75.3L113.83 76.92L113.26 78.87L114.1 80.77L116.34 82.24L118.2 83.52L118.52 85.21L118.14 87.19L118.56 88.78L119.69 89.72L120.51 91.08L120.62 93.36L121.06 95.64L122.55 96.39L124.55 95.6L126.33 94.93L127.73 95.2L128.7 95.31L129.07 94.22L128.56 93.03L128.69 92.93L130.64 92.64L132.56 91.92L133.16 90.22L132.94 88.13L133.38 85.99L134.47 83.76L134.64 81.58L133.12 79.59L131.22 77.49L130.68 75.3L131.43 73.04L131.87 70.87L131.28 69.02L130.82 67.53Z" fill="none" stroke="#dcdcdc" stroke-width="2.2" opacity="0.85" filter="url(#sb)"/>
<path d="M136.8 65.3C135.85 61.47 134.3 60.55 132.3 59.3C130.3 58.05 127.22 57.63 124.8 57.8C122.38 57.97 119.8 58.88 117.8 60.3C115.8 61.72 114.13 63.97 112.8 66.3C111.47 68.63 110.13 71.3 109.8 74.3C109.47 77.3 109.97 81.13 110.8 84.3C111.63 87.47 112.97 90.8 114.8 93.3C116.63 95.8 119.22 98.13 121.8 99.3C124.38 100.47 127.97 100.97 130.3 100.3C132.63 99.63 134.52 98.3 135.8 95.3C137.08 92.3 137.83 87.3 138 82.3C138.17 77.3 137.75 69.13 136.8 65.3Z" fill="#fff" filter="url(#brn)" opacity="0.85"/>
<path d="M133.28 67.34L136.9 68.97M127.19 64.42Q130.01 63.39 130.52 61.31M129.88 62.64L129.03 60.42M124.48 62.92L122.36 61.99M124.41 62.84L125.98 59.79M114.71 81.26Q113.2 80.14 112.47 82.47M113.38 81.01L110.2 78.82M113.32 81.05L110.49 79.1M116.8 85.16L115.67 87.88M133.65 87.33L135.41 89.85M132.17 71.68L133.84 69.55M130.71 72.23L132.83 69.51" stroke="#dcdcdc" stroke-width="0.8" stroke-linecap="round" fill="none"/>
<path d="M131.47 67.87Q134.09 68.12 134.73 63.92M116.66 67.33L113.31 68.26M116.08 67.46L112.28 68.52M114.57 73.52L113.29 70.22M114.18 72.95L111.02 74.41M120.09 82.55Q117.35 84.92 114.45 86.74M118.86 87.14L114.95 86.41M118.25 88.36L117.9 91.22M122.65 92.17L119.76 92.23M123 96.26L120.35 97.01M125.29 96.21L127.16 98.24M125.64 96.86L127.62 99M130.6 91.16Q129.49 94.46 130.23 96.75M131.25 95.2L133.73 94.56M132.61 85.82Q133.9 88.08 135.27 88.47M134.72 81.64L136.69 83.96M134.75 81.68L137.05 79.45" stroke="#dcdcdc" stroke-width="1.2" stroke-linecap="round" fill="none"/>
<path d="M125.86 65.97Q125.31 62.8 121.9 60.7M115.76 75.1Q114.15 73.06 112.82 70.81M116.73 81.65Q114.83 81.26 113.04 78.89M118.62 86.98Q117.05 88.58 115.07 89.33M123.39 94.18Q123.47 96.36 121.89 97.69M134.34 78.34L136.11 76.44M134.02 78.23L136.68 75.36M128.05 73.83Q131.56 71.19 135.28 71.26" stroke="#dcdcdc" stroke-width="1.6" stroke-linecap="round" fill="none"/>
<path d="M124.2 65.97Q123.85 63.36 126.22 60.91M118.16 66.43Q115.95 68.06 115.55 67.11M120.28 84.86Q118.17 87.79 116.99 91.69M125.64 91.08Q121.54 92.12 119.34 94.78M125.14 92.77Q124.04 95.58 127.04 98.59M130.16 92.97Q130.92 96.2 133.74 96.14M133.18 81.25Q134.46 80.49 135.45 83.01" stroke="#dcdcdc" stroke-width="2.0" stroke-linecap="round" fill="none"/>
<path d="M130.83 90.42Q132.15 91.41 133.5 92.18M131.55 77.86Q134.1 77.79 136.62 79.58" stroke="#dcdcdc" stroke-width="2.4" stroke-linecap="round" fill="none"/>
<path d="M136.21 61.33Q134.57 64.17 132.16 64.09M130.55 57.44Q128.54 61.66 128.08 65.32M123.94 56.88Q123.33 60.29 124.66 62.45M118.58 58.64Q121.46 61.85 122.15 65.13M115.53 60.92Q118.36 63.99 120.7 66.12M112.72 64.5Q115.14 66.14 116.79 67.11M111.25 67.03Q113.85 70.32 117.15 70.15M109.26 71.85Q111.76 71 112.54 72.73M108.7 76.33Q113.63 76.76 117.57 76.33M133.45 99.93Q133.18 97.36 131.43 97.06M136.94 95.15Q131.93 93.17 127.87 91.54M139.03 81Q134.43 82.67 130.87 80.9M139 77.28Q136.66 76.36 135.37 77.37" stroke="#141414" stroke-width="0.8" stroke-linecap="round" fill="none"/>
<path d="M109.07 80.87Q114.47 80.9 118.63 79.4M111.51 89.45Q113.68 88.36 115.04 87.92M113.2 92.71Q118.27 91.13 121.07 87.8M118.25 98.28Q118.82 95.16 121.09 94.61M122.85 100.78Q124.49 95.57 125.93 91.36M129.15 101.53Q128.76 96.26 128.09 92.02M138.17 90.47Q135.64 89.88 134.05 89.72M138.72 86.52Q134.21 85.97 130.66 85.71M138.7 71.73Q134.72 72.05 131.74 72.29M138.31 68.06Q135.56 68.92 133.66 68.69" stroke="#141414" stroke-width="1.1" stroke-linecap="round" fill="none"/>
<path d="M110.02 85.25Q115.04 82.99 119.54 82.55M115.96 96.23Q117.08 92.81 119.82 92.5" stroke="#141414" stroke-width="1.4" stroke-linecap="round" fill="none"/>
</g>
<clipPath id="cl8"><path d="M92 44.2C93.49 41.97 96.29 41.45 98.16 41.2C100.03 40.95 101.52 42.7 103.2 42.7C104.88 42.7 106.37 40.95 108.24 41.2C110.11 41.45 112.91 41.97 114.4 44.2C115.89 46.43 115.71 51.47 117.2 54.6C118.69 57.73 122.52 60.68 123.36 63C124.2 65.32 124.67 67.67 122.24 68.5C119.81 69.33 111.97 68 108.8 68C105.63 68 105.07 68.5 103.2 68.5C101.33 68.5 100.77 68 97.6 68C94.43 68 86.59 69.33 84.16 68.5C81.73 67.67 82.2 65.32 83.04 63C83.88 60.68 87.71 57.73 89.2 54.6C90.69 51.47 90.51 46.43 92 44.2Z"/></clipPath>
<g clip-path="url(#cl8)">
<path d="M92 44.2C93.49 41.97 96.29 41.45 98.16 41.2C100.03 40.95 101.52 42.7 103.2 42.7C104.88 42.7 106.37 40.95 108.24 41.2C110.11 41.45 112.91 41.97 114.4 44.2C115.89 46.43 115.71 51.47 117.2 54.6C118.69 57.73 122.52 60.68 123.36 63C124.2 65.32 124.67 67.67 122.24 68.5C119.81 69.33 111.97 68 108.8 68C105.63 68 105.07 68.5 103.2 68.5C101.33 68.5 100.77 68 97.6 68C94.43 68 86.59 69.33 84.16 68.5C81.73 67.67 82.2 65.32 83.04 63C83.88 60.68 87.71 57.73 89.2 54.6C90.69 51.47 90.51 46.43 92 44.2Z" fill="#6c6c6c"/>
<path d="M94.37 45.95L96.17 46.28L97.53 46.84L98.22 46.4L98.69 45.9L101.57 47.11L106.32 47.09L107.99 45.9L108.45 44.59L110.34 43.88L111.72 44.81L111.66 46.32L111.45 47.47L112.05 49.34L112.43 51.75L112.13 54.71L112.47 58.18L114.43 60.78L117.15 62.04L119.33 63L120.05 64L120.23 65.45L120.83 65.83L121.2 66.33L120.57 66.31L118.77 65.03L116.62 63.55L114.2 63.11L111.73 63.46L109.44 63.47L106.47 63.05L104.24 63.26L103.2 64.46L101.81 65.77L99.72 65.87L96.99 64.99L94.75 64.39L92.35 64.7L89.9 65.12L87.61 64.55L86.03 63.26L86.75 63.11L87.26 65.18L86.31 65.48L86.43 64.04L87.37 63.23L88.6 61.47L89.57 58.88L90.73 56.34L92.59 54.17L94.67 51.89L95.78 49.59L95.78 47.69L95.67 46.83Z" fill="#c8c8c8" filter="url(#sb)"/>
<path d="M94.37 45.95L96.17 46.28L97.53 46.84L98.22 46.4L98.69 45.9L101.57 47.11L106.32 47.09L107.99 45.9L108.45 44.59L110.34 43.88L111.72 44.81L111.66 46.32L111.45 47.47L112.05 49.34L112.43 51.75L112.13 54.71L112.47 58.18L114.43 60.78L117.15 62.04L119.33 63L120.05 64L120.23 65.45L120.83 65.83L121.2 66.33L120.57 66.31L118.77 65.03L116.62 63.55L114.2 63.11L111.73 63.46L109.44 63.47L106.47 63.05L104.24 63.26L103.2 64.46L101.81 65.77L99.72 65.87L96.99 64.99L94.75 64.39L92.35 64.7L89.9 65.12L87.61 64.55L86.03 63.26L86.75 63.11L87.26 65.18L86.31 65.48L86.43 64.04L87.37 63.23L88.6 61.47L89.57 58.88L90.73 56.34L92.59 54.17L94.67 51.89L95.78 49.59L95.78 47.69L95.67 46.83Z" fill="none" stroke="#dcdcdc" stroke-width="2.2" opacity="0.85" filter="url(#sb)"/>
<path d="M92 44.2C93.49 41.97 96.29 41.45 98.16 41.2C100.03 40.95 101.52 42.7 103.2 42.7C104.88 42.7 106.37 40.95 108.24 41.2C110.11 41.45 112.91 41.97 114.4 44.2C115.89 46.43 115.71 51.47 117.2 54.6C118.69 57.73 122.52 60.68 123.36 63C124.2 65.32 124.67 67.67 122.24 68.5C119.81 69.33 111.97 68 108.8 68C105.63 68 105.07 68.5 103.2 68.5C101.33 68.5 100.77 68 97.6 68C94.43 68 86.59 69.33 84.16 68.5C81.73 67.67 82.2 65.32 83.04 63C83.88 60.68 87.71 57.73 89.2 54.6C90.69 51.47 90.51 46.43 92 44.2Z" fill="#fff" filter="url(#brn)" opacity="0.85"/>
<path d="M95.97 44.39L92.97 43.1M95.84 43.93L97.09 41.48M101.35 45.14L99.4 42.39M120.6 65.28L124.51 64.75M120.61 65.28L120.82 68.23M118.03 64.8L115.49 67.28M118.16 64.94L119.81 66.42M109.79 63.78L112.16 66.11M103.09 61.67Q104.21 63.93 105.88 66.01M104.56 64.21L107.15 66.13M104.51 64.14L102.89 66.06M99.12 63.11L101.88 65.95M85.73 63.65L85.08 60.37M88.37 60.37L85.65 60.65M88.46 60.36L85.62 60.65" stroke="#dcdcdc" stroke-width="0.8" stroke-linecap="round" fill="none"/>
<path d="M95.48 47.27L92.43 47.42M95.16 46.42L92.1 46.57M101.59 45.92Q100.9 44.91 102.14 44.31M108.65 44.56L110.85 43.25M112.55 47.34L115.25 48.23M112.57 47.29L113.26 44.66M110.04 52.92Q112.24 51.89 115.24 53.72M112.76 56.98L113.51 53.85M119.64 65.48Q120.7 65.45 121.49 64.49M117.51 64.46Q120.19 64.6 121.69 66.1M117.14 60.97Q116.13 63.87 120.03 66.53M114.96 65.14L117.66 68.19M112.27 61.34Q109.48 63.27 109.4 65.04M104.51 64.54L101.51 66.8M103.54 64.99L100.78 67.07M91.99 63.44L94.11 65.1M92.45 63.99L90.67 65.99M86.32 65.45L83.2 65.73M86.01 65.48L86.4 67.97M85.03 64.76L83.39 62.73M85.52 64.53L83.99 62.63M88.53 61.46Q89.2 59.78 87.67 60.66" stroke="#dcdcdc" stroke-width="1.2" stroke-linecap="round" fill="none"/>
<path d="M96.58 45.33Q95.71 44.44 95.81 43.2M98.18 45.32Q97.67 43.94 99.19 43.13M108.7 45.25Q108.35 44.64 108.99 44.23M118 62.72Q118.32 62.19 118.69 61.74M100.44 60.64Q98.57 63.2 98.78 65.81M91.84 62.18Q91.37 63.77 94.01 64.93M87.89 65.42Q86.17 65.34 85.3 65.65M85.82 64.76Q85.88 63.13 85.15 62.95" stroke="#dcdcdc" stroke-width="1.6" stroke-linecap="round" fill="none"/>
<path d="M95.87 48.39Q95.42 47.01 94.9 45.8M106.16 46.7Q107.54 45.3 107.6 44.5M110.57 47.84Q112.81 48.81 112.8 45.7M110.04 57.96Q113.03 56.76 116.24 56.02M114.16 61.59Q116.73 61.15 117.97 59.1M115.64 63.68Q116.95 64.98 113.15 65.53M104.71 63.94Q104.95 64.88 102.33 65.22M90.34 64.63Q89.31 65.47 90.81 66.09M87.62 65.03Q85.89 63.57 83.93 65.65M91.69 64.67Q89.02 63.39 89.3 58.67M96.19 55.46Q93.37 55.43 91.08 53.69" stroke="#dcdcdc" stroke-width="2.0" stroke-linecap="round" fill="none"/>
<path d="M102.13 41.42Q101.81 43.68 100.95 44.69M109.03 40.3Q107.97 44.68 107.96 48.2M116.98 50.05Q114.09 52.28 111.59 51.03M118.1 54.17Q115.1 54.08 114.19 56.05M119.71 56.61Q117.21 60.72 113.42 61.57M114.45 69.44Q114.42 67.14 114.78 65.87M111.25 69.14Q111.37 64.51 111.94 60.92M107.77 69.02Q107.4 65.31 107.48 62.59M104.52 69.42Q103.23 66.46 103.97 64.28M100.16 69.15Q102.13 67.32 100.51 66.09M84.07 59.66Q86.7 60.29 87.04 62.13M86.69 56.61Q88.63 59.69 91.29 60.24" stroke="#141414" stroke-width="0.8" stroke-linecap="round" fill="none"/>
<path d="M92.53 42.17Q94.02 44.11 94.98 45.18M96.59 40.44Q97.2 44.57 98.15 47.61M103.71 41.62Q104.7 46 105.3 49.43M111.42 40.88Q109.21 42.65 110.13 44.48M113.87 42.17Q112.96 44.34 111.66 44.89M116.27 46.25Q112.56 47.4 109.72 47.92M120.75 57.84Q117.78 60.26 115.7 62.17M125.01 65.47Q121.65 67.23 119.06 65.9M122.08 69.58Q120.99 65.17 119.95 61.79M118.6 69.75Q119.09 67.19 118.75 65.6M91.95 69.44Q90.92 67.14 91.61 65.68M89.42 69.66Q89.42 66.4 89.04 64.17M84.97 69.69Q86.16 67.09 85.52 65.28M81.38 66.42Q85.49 65.25 88.76 65.59M82.11 62.64Q85.38 62.27 86.64 64.37M87.6 55.38Q91.26 58.11 94.38 59.84M90.32 45.54Q92.72 46.13 94.08 46.71" stroke="#141414" stroke-width="1.1" stroke-linecap="round" fill="none"/>
<path d="M123.27 60.85Q120.69 64.62 117.1 65.27M97.08 69.01Q95.96 66.72 97 65.39M89.12 51.56Q91.5 50.7 92.29 52.27" stroke="#141414" stroke-width="1.4" stroke-linecap="round" fill="none"/>
</g>
<path d="M103.2 42.7V67" stroke="#111" stroke-width="1.3"/>
<circle cx="99.7" cy="65.5" r="1.1" fill="#eee"/><circle cx="106.7" cy="65.5" r="1.1" fill="#eee"/>
<path d="M95.7 78.3C96.45 76.97 97.95 76.38 99.2 76.3C100.45 76.22 101.87 77.8 103.2 77.8C104.53 77.8 105.95 76.22 107.2 76.3C108.45 76.38 109.95 76.97 110.7 78.3C111.45 79.63 111.95 82.47 111.7 84.3C111.45 86.13 110.62 88.22 109.2 89.3C107.78 90.38 105.2 90.8 103.2 90.8C101.2 90.8 98.62 90.38 97.2 89.3C95.78 88.22 94.95 86.13 94.7 84.3C94.45 82.47 94.95 79.63 95.7 78.3Z" fill="url(#pons)"/>
<path d="M103.2 78.3v3" stroke="#777" stroke-width="1"/>
<ellipse cx="103.2" cy="91.8" rx="2.7" ry="2.3" fill="#080808"/>
<clipPath id="cl9"><path d="M141 49C143.33 46.08 146.5 44.17 150 42.5C153.5 40.83 158.17 39.58 162 39C165.83 38.42 169.17 38.5 173 39C176.83 39.5 181.67 40.33 185 42C188.33 43.67 191.33 46.33 193 49C194.67 51.67 194.33 55.17 195 58C195.67 60.83 196.33 63 197 66C197.67 69 198.83 71.83 199 76C199.17 80.17 198.83 86 198 91C197.17 96 196.17 101.5 194 106C191.83 110.5 189 115.33 185 118C181 120.67 174.83 121.75 170 122C165.17 122.25 160.67 121.17 156 119.5C151.33 117.83 145.83 115.58 142 112C138.17 108.42 135.17 103 133 98C130.83 93 129.5 87 129 82C128.5 77 128.83 71.67 130 68C131.17 64.33 134.17 63.17 136 60C137.83 56.83 138.67 51.92 141 49Z"/></clipPath>
<g clip-path="url(#cl9)">
<path d="M141 49C143.33 46.08 146.5 44.17 150 42.5C153.5 40.83 158.17 39.58 162 39C165.83 38.42 169.17 38.5 173 39C176.83 39.5 181.67 40.33 185 42C188.33 43.67 191.33 46.33 193 49C194.67 51.67 194.33 55.17 195 58C195.67 60.83 196.33 63 197 66C197.67 69 198.83 71.83 199 76C199.17 80.17 198.83 86 198 91C197.17 96 196.17 101.5 194 106C191.83 110.5 189 115.33 185 118C181 120.67 174.83 121.75 170 122C165.17 122.25 160.67 121.17 156 119.5C151.33 117.83 145.83 115.58 142 112C138.17 108.42 135.17 103 133 98C130.83 93 129.5 87 129 82C128.5 77 128.83 71.67 130 68C131.17 64.33 134.17 63.17 136 60C137.83 56.83 138.67 51.92 141 49Z" fill="#6c6c6c"/>
<path d="M147.98 54.47L147.65 52.71L148.3 51.31L149.87 50.8L151.32 49.8L152.29 47.36L153.23 44.9L155.16 44.27L157.69 45.45L160 46.41L161.86 45.98L163.6 45.38L165.49 46.15L167.18 47.67L168.81 47.79L170.76 45.96L173 44.12L175.07 44.05L176.98 45.17L178.93 45.61L181.02 45.16L182.66 45.56L183.26 47.87L183.22 50.67L183.81 52.06L185.46 52.17L186.86 52.38L186.85 52.99L186.7 53.81L188.17 55.26L190.64 57.27L192.01 59.51L191.34 62.04L190.17 64.55L190.27 66.75L191.22 68.84L191.25 70.98L190.01 73.12L189.36 74.81L190.77 76.45L193.08 77.91L194.13 79.8L193.56 81.8L193.13 83.87L193.88 86.08L194.49 88.3L193.17 90.22L190.43 91.8L188.57 93.48L188.67 95.48L189.3 97.57L188.79 99.31L187.64 100.71L187.61 102.39L188.78 104.97L189.35 107.57L187.93 109.1L185.44 109.71L183.71 110.48L182.94 111.81L181.88 112.6L180.12 111.88L178.38 110.9L177.2 111.66L176.18 114.11L174.69 116.11L172.78 116.36L170.87 116.07L169.16 116.85L167.34 118.11L165.53 117.79L164.1 115.43L162.89 112.98L161.26 112.25L159.15 112.62L157.23 112.25L155.69 110.86L153.96 110.06L151.49 110.87L148.73 111.94L146.81 111.34L146.17 109.16L145.82 107.16L144.66 106.06L143.34 104.87L143.23 102.7L143.97 100.08L143.63 98.15L141.41 97.15L138.78 96.21L137.56 94.67L137.38 92.7L136.49 90.92L134.58 89.33L133.44 87.48L134.49 85.23L136.56 83L137.41 81.19L136.61 79.35L135.98 77.46L136.66 75.63L137.43 73.97L136.53 72.28L134.48 70.36L133.54 68.67L134.84 67.92L136.86 67.76L138.58 66.36L140.08 63.71L142.07 61.37L144.95 59.72L147.15 58.05L147.14 56.06L145.91 53.98Z" fill="#a4a4a4" filter="url(#sb)"/>
<path d="M147.98 54.47L147.65 52.71L148.3 51.31L149.87 50.8L151.32 49.8L152.29 47.36L153.23 44.9L155.16 44.27L157.69 45.45L160 46.41L161.86 45.98L163.6 45.38L165.49 46.15L167.18 47.67L168.81 47.79L170.76 45.96L173 44.12L175.07 44.05L176.98 45.17L178.93 45.61L181.02 45.16L182.66 45.56L183.26 47.87L183.22 50.67L183.81 52.06L185.46 52.17L186.86 52.38L186.85 52.99L186.7 53.81L188.17 55.26L190.64 57.27L192.01 59.51L191.34 62.04L190.17 64.55L190.27 66.75L191.22 68.84L191.25 70.98L190.01 73.12L189.36 74.81L190.77 76.45L193.08 77.91L194.13 79.8L193.56 81.8L193.13 83.87L193.88 86.08L194.49 88.3L193.17 90.22L190.43 91.8L188.57 93.48L188.67 95.48L189.3 97.57L188.79 99.31L187.64 100.71L187.61 102.39L188.78 104.97L189.35 107.57L187.93 109.1L185.44 109.71L183.71 110.48L182.94 111.81L181.88 112.6L180.12 111.88L178.38 110.9L177.2 111.66L176.18 114.11L174.69 116.11L172.78 116.36L170.87 116.07L169.16 116.85L167.34 118.11L165.53 117.79L164.1 115.43L162.89 112.98L161.26 112.25L159.15 112.62L157.23 112.25L155.69 110.86L153.96 110.06L151.49 110.87L148.73 111.94L146.81 111.34L146.17 109.16L145.82 107.16L144.66 106.06L143.34 104.87L143.23 102.7L143.97 100.08L143.63 98.15L141.41 97.15L138.78 96.21L137.56 94.67L137.38 92.7L136.49 90.92L134.58 89.33L133.44 87.48L134.49 85.23L136.56 83L137.41 81.19L136.61 79.35L135.98 77.46L136.66 75.63L137.43 73.97L136.53 72.28L134.48 70.36L133.54 68.67L134.84 67.92L136.86 67.76L138.58 66.36L140.08 63.71L142.07 61.37L144.95 59.72L147.15 58.05L147.14 56.06L145.91 53.98Z" fill="none" stroke="#dcdcdc" stroke-width="2.2" opacity="0.85" filter="url(#sb)"/>
<path d="M141 49C143.33 46.08 146.5 44.17 150 42.5C153.5 40.83 158.17 39.58 162 39C165.83 38.42 169.17 38.5 173 39C176.83 39.5 181.67 40.33 185 42C188.33 43.67 191.33 46.33 193 49C194.67 51.67 194.33 55.17 195 58C195.67 60.83 196.33 63 197 66C197.67 69 198.83 71.83 199 76C199.17 80.17 198.83 86 198 91C197.17 96 196.17 101.5 194 106C191.83 110.5 189 115.33 185 118C181 120.67 174.83 121.75 170 122C165.17 122.25 160.67 121.17 156 119.5C151.33 117.83 145.83 115.58 142 112C138.17 108.42 135.17 103 133 98C130.83 93 129.5 87 129 82C128.5 77 128.83 71.67 130 68C131.17 64.33 134.17 63.17 136 60C137.83 56.83 138.67 51.92 141 49Z" fill="#fff" filter="url(#brn)" opacity="0.85"/>
<path d="M179.68 44.58L182.99 42.86M186.35 48.79L190.27 48.86M193.01 74.32L194.58 72.35M192.36 93.49L195.04 91.48M184.98 111.19L189.06 110.5M182.02 110.02L182.3 112.84M175.77 115.33L179.04 117.19M175.75 115.28L178.48 116.83M168.81 114.69L165.88 116.92M168.41 115.78L166.25 117.43M139.39 101.46L136.87 100.67M135.69 68.29L134.69 66.29M141.2 57.41L139.74 53.83" stroke="#dcdcdc" stroke-width="0.8" stroke-linecap="round" fill="none"/>
<path d="M145.74 49.79L142.08 49.3M145.66 50.29L141.55 49.75M154.75 48.16Q153.5 45.55 149.34 44.58M161.55 44.16L163.14 42.01M173.8 43.4L176.18 41.81M186.35 48.39L185.57 44.82M187.34 59.35Q189.47 57.92 192.55 60.97M194.22 70.73L195.52 68.52M189.96 92.92Q192.25 94.22 195.01 92.61M190.14 103.32L191.15 106.45M189.73 102.68L190.46 104.97M179.19 108.52Q182.85 110.74 187.28 111.85M184.47 112.98L184.24 115.38M183.92 112.36L183.54 116.19M169.42 111.01Q169.35 115.63 165.93 119.86M151.84 111.99L153.26 115.49M151.8 112.07L153.2 115.5M143.03 94.52Q138.99 94.93 134.4 92.98M139.96 82.75Q135.71 83.82 132.14 87.75M133.62 82.26L130.68 79.88M135 80.87L132.8 83.55M137.15 67.24L134.47 67.45M137.09 67.2L133.92 67.45M143.44 56.59Q141.01 57.76 139.27 57.56M144.47 56.89L141.63 58.24" stroke="#dcdcdc" stroke-width="1.2" stroke-linecap="round" fill="none"/>
<path d="M156.62 44.17L153.3 42.62M166.88 45.2L169.21 42.81M166.87 45.62L168.74 43.7M166.57 45.9Q169.46 43.64 169.83 41.39M170.93 49.15Q172.01 45.04 175.51 41.42M175.37 49.1Q179.88 46 180.63 41.91M183.78 50.48Q186.03 48.78 188.74 47.59M187.16 55.11Q189.51 52.57 192.14 50.88M190.93 55.23L193.2 52.09M190.32 71.44Q193.26 69.83 196.92 71.58M189.08 73.91Q192.74 73.92 196.45 75.33M192.14 80.67Q194.61 79.12 197.01 79.87M194.23 82.94L195.9 81.43M190.11 99.78L193.53 97.82M189.34 99.34L191.02 102.76M188.36 99.99Q189.62 102.97 191.23 104.69M185.8 102.78Q188.73 104.32 189.43 109.22M182.21 111.59Q184.9 112.16 185.07 114.94M180.77 114.96L183.14 115.67M174.32 111.33Q175.49 115.04 177.25 118.58M173.14 116.82L174.85 118.19M158.26 114.02L155.28 115.3M153.81 109.31Q151.34 111.68 150.99 115.02M141.19 103.21L140.73 106.55M142.17 99.36Q140.07 100.49 138.48 102.48M139.7 95.49L138.74 98.12M136.72 81.51Q134.07 81.4 131.8 83.65M139.94 67.02Q135.53 68.54 131.59 69.09M142.48 66.72Q139.17 65.58 137.92 61.15" stroke="#dcdcdc" stroke-width="1.6" stroke-linecap="round" fill="none"/>
<path d="M146.11 51.48Q145.01 50.55 146.56 48.01M163.06 47.58Q161.3 44.58 161 41.33M185.45 53.89Q186.42 49.61 186.59 44.96M188.6 55.1Q190.58 54.63 192.74 56.19M186.76 68.09Q190.78 68.09 194.25 65.81M137.43 79.52Q134.52 82.02 131.33 80.33M138.11 68.13Q137.03 66.68 134.77 66.58M146.88 57.85Q143.56 56.92 140.95 54.24" stroke="#dcdcdc" stroke-width="2.0" stroke-linecap="round" fill="none"/>
<path d="M159.06 47.18Q157.47 44.56 154.57 42.47M165.91 49.31Q167.91 44.94 165.8 40.77M188.22 79.58Q192.85 81.89 197.3 84.94M188.8 84.37Q192.3 86.32 195.49 89.16M187.17 97.34Q189.56 100.25 192.72 100.52M177.14 112.25Q180.95 114.29 182.46 117.41M173.9 110.42Q174.92 115.09 171.2 120.06M164.61 109.72Q163.4 114.13 162.17 118.54M161.74 111.42Q157.3 113.95 156 117.51M144.57 97.48Q141.38 100.24 140.62 106.04M144.77 95.79Q139.43 94.61 135.63 96.87" stroke="#dcdcdc" stroke-width="2.4" stroke-linecap="round" fill="none"/>
<path d="M145.46 43.82Q148.87 49.05 151.6 53.54M167.87 37.6Q167.71 43.04 167.72 47.48M173.13 38.01Q174.15 40.85 172.57 42.36M192.62 46.77Q187.59 49.8 184.43 53.51M195.31 52.92Q190.98 53.23 187.74 54.1M199.76 73.35Q197.21 72.08 196.1 73.87M175.81 122.34Q175.84 118.54 174.66 115.96M169.3 123.03Q169.44 120.62 169.21 119.21M159.2 121.59Q160.96 116.55 161.87 112.3M147.56 117.02Q149.09 110.84 152.84 106.94M143.66 114.64Q144.86 110.13 148.16 108.37M140.8 112.23Q142.42 109.36 144.57 108.42M131 95.65Q134.73 94.22 137.57 93.31M127.78 78.24Q133.35 79.82 137.86 78.07M128.09 72.25Q131.82 73.71 134.8 73.1M130.13 65.41Q134.88 67.78 138.21 70.53M133.01 62.14Q134.87 66.38 138.46 67.41M135.97 57.79Q141.36 59 145.03 61.68" stroke="#141414" stroke-width="0.8" stroke-linecap="round" fill="none"/>
<path d="M150.22 41.3Q151.45 43.35 151.75 44.73M162.63 37.9Q162.95 42.13 163.6 45.32M178.27 38.84Q177.21 42.48 176.96 45.27M189.99 44.12Q187 45.04 187.23 47.38M195.85 57.15Q190.4 57.04 186.33 58.92M197.06 62.03Q192.3 64.75 187.79 64.44M198.28 67.03Q194.78 69.51 191.48 68.78M199.9 82.88Q197.41 84.39 196.11 82.65M199.5 87.43Q196.67 86.23 194.64 86.88M198.1 96.07Q195.5 94.76 193.58 95.16M197.11 100.34Q193.2 98.06 189.63 98.3M195.75 104.47Q193.99 103.39 192.89 103.35M191.22 112.95Q187.29 110.76 184.66 108.44M184.34 119.57Q183.01 114.79 180.17 111.97M181.67 120.78Q179.25 118.33 179.79 115.83M162.75 122.45Q164.78 118.51 164.17 115.08M153.02 119.46Q156.47 115.29 156.4 110.82M136.23 106.38Q137.99 103.42 140.57 103.64M133.64 101.74Q139.28 100.15 143.05 97.05M129.88 92.06Q135.29 89.5 140.28 89.18M128.46 85.54Q134.31 86.23 138.67 83.89M127.93 81.33Q132.43 82.11 135.74 80.69M137.25 54.41Q141.59 57.69 146.08 57.66M138.67 50.9Q144.22 52.92 148.32 55.62" stroke="#141414" stroke-width="1.1" stroke-linecap="round" fill="none"/>
<path d="M155.98 39.28Q157.58 41.48 157.07 43.23M184.14 40.52Q182.51 44.84 181.04 48.15M200.03 77.22Q196.24 77.82 193.44 77.32M198.87 91.85Q193.82 89.26 189.19 90.23M193.92 108.4Q191.31 105.58 188.39 105.52M188.89 115.92Q185.61 114.84 184.98 112.34" stroke="#141414" stroke-width="1.4" stroke-linecap="round" fill="none"/>
</g>
<path d="M131 58Q137 62 143 63.5L151 65.5" stroke="#000" stroke-width="2.2" fill="none" stroke-linecap="round" filter="url(#sb)"/>
<path d="M198 58Q194 62 189 63.5L182 65.5" stroke="#000" stroke-width="2.2" fill="none" stroke-linecap="round" filter="url(#sb)"/>
<path d="M167 39.5V64" stroke="#151515" stroke-width="1.3"/>
<path d="M156.8 74.8C157.88 73.36 160.26 72.56 161.96 72.76C163.66 72.96 165.32 76 167 76C168.68 76 170.34 72.96 172.04 72.76C173.74 72.56 176.12 73.36 177.2 74.8C178.28 76.24 178.92 79.2 178.52 81.4C178.12 83.6 176.28 86.34 174.8 88C173.32 89.66 170.94 91.1 169.64 91.36C168.34 91.62 167.88 89.56 167 89.56C166.12 89.56 165.66 91.62 164.36 91.36C163.06 91.1 160.68 89.66 159.2 88C157.72 86.34 155.88 83.6 155.48 81.4C155.08 79.2 155.72 76.24 156.8 74.8Z" fill="#0a0a0a" filter="url(#sb)"/>
<path d="M161 66.5C162.17 65.33 165 65 167 65C169 65 171.83 65.33 173 66.5C174.17 67.67 175 70.75 174 72C173 73.25 169.33 74 167 74C164.67 74 161 73.25 160 72C159 70.75 159.83 67.67 161 66.5Z" fill="#101010" filter="url(#sb)"/>
<path d="M163 68.5q4 -2.5 8 0" stroke="#aaa" stroke-width="1.1" fill="none"/>
<clipPath id="cl10"><path d="M155 96.5C155.9 94.71 157.77 92.5 159.4 91.5C161.03 90.5 163.45 90.25 164.8 90.5C166.15 90.75 166.6 93 167.5 93C168.4 93 168.85 90.75 170.2 90.5C171.55 90.25 173.97 90.5 175.6 91.5C177.23 92.5 179.1 94.71 180 96.5C180.9 98.29 181.4 100 181 102.25C180.6 104.5 179.09 108.04 177.62 110C176.16 111.96 173.91 113.75 172.22 114C170.54 114.25 169.07 111.5 167.5 111.5C165.93 111.5 164.46 114.25 162.78 114C161.09 113.75 158.84 111.96 157.38 110C155.91 108.04 154.4 104.5 154 102.25C153.6 100 154.1 98.29 155 96.5Z"/></clipPath>
<g clip-path="url(#cl10)"><path d="M155 96.5C155.9 94.71 157.77 92.5 159.4 91.5C161.03 90.5 163.45 90.25 164.8 90.5C166.15 90.75 166.6 93 167.5 93C168.4 93 168.85 90.75 170.2 90.5C171.55 90.25 173.97 90.5 175.6 91.5C177.23 92.5 179.1 94.71 180 96.5C180.9 98.29 181.4 100 181 102.25C180.6 104.5 179.09 108.04 177.62 110C176.16 111.96 173.91 113.75 172.22 114C170.54 114.25 169.07 111.5 167.5 111.5C165.93 111.5 164.46 114.25 162.78 114C161.09 113.75 158.84 111.96 157.38 110C155.91 108.04 154.4 104.5 154 102.25C153.6 100 154.1 98.29 155 96.5Z" fill="#7a7a7a"/>
<path d="M155 96.5C155.9 94.71 157.77 92.5 159.4 91.5C161.03 90.5 163.45 90.25 164.8 90.5C166.15 90.75 166.6 93 167.5 93C168.4 93 168.85 90.75 170.2 90.5C171.55 90.25 173.97 90.5 175.6 91.5C177.23 92.5 179.1 94.71 180 96.5C180.9 98.29 181.4 100 181 102.25C180.6 104.5 179.09 108.04 177.62 110C176.16 111.96 173.91 113.75 172.22 114C170.54 114.25 169.07 111.5 167.5 111.5C165.93 111.5 164.46 114.25 162.78 114C161.09 113.75 158.84 111.96 157.38 110C155.91 108.04 154.4 104.5 154 102.25C153.6 100 154.1 98.29 155 96.5Z" fill="#fff" filter="url(#brnD)" opacity="0.35"/>
<path d="M166.3 92.45Q161.43 95.5 153.32 88.59M166.3 95.8Q161.43 98.86 153.32 93.02M166.3 99.16Q161.43 102.22 153.32 97.45M166.3 102.52Q161.43 105.57 153.32 101.88M166.3 105.88Q161.43 108.93 153.32 106.31M166.3 109.23Q161.43 112.29 153.32 110.74M166.3 112.59Q161.43 115.64 153.32 115.17M168.7 92.45Q173.57 95.5 181.68 88.59M168.7 95.8Q173.57 98.86 181.68 93.02M168.7 99.16Q173.57 102.22 181.68 97.45M168.7 102.52Q173.57 105.57 181.68 101.88M168.7 105.88Q173.57 108.93 181.68 106.31M168.7 109.23Q173.57 112.29 181.68 110.74M168.7 112.59Q173.57 115.64 181.68 115.17" stroke="#2e2e2e" stroke-width="0.75" fill="none" opacity="0.7"/>
<path d="M165.5 94.13Q161.43 97.18 153.32 90.27M165.5 97.48Q161.43 100.54 153.32 94.7M165.5 100.84Q161.43 103.89 153.32 99.13M165.5 104.2Q161.43 107.25 153.32 103.56M165.5 107.55Q161.43 110.61 153.32 107.99M165.5 110.91Q161.43 113.97 153.32 112.42M165.5 114.27Q161.43 117.32 153.32 116.85M169.5 94.13Q173.57 97.18 181.68 90.27M169.5 97.48Q173.57 100.54 181.68 94.7M169.5 100.84Q173.57 103.89 181.68 99.13M169.5 104.2Q173.57 107.25 181.68 103.56M169.5 107.55Q173.57 110.61 181.68 107.99M169.5 110.91Q173.57 113.97 181.68 112.42M169.5 114.27Q173.57 117.32 181.68 116.85" stroke="#c8c8c8" stroke-width="0.5" fill="none" opacity="0.55"/>
<path d="M167.5 93.5V114" stroke="#2a2a2a" stroke-width="1.3"/>
</g>
<path d="M158.5 76C159.4 74.8 161.38 74.13 162.8 74.3C164.22 74.47 165.6 77 167 77C168.4 77 169.78 74.47 171.2 74.3C172.62 74.13 174.6 74.8 175.5 76C176.4 77.2 176.93 79.67 176.6 81.5C176.27 83.33 174.73 85.62 173.5 87C172.27 88.38 170.28 89.58 169.2 89.8C168.12 90.02 167.73 88.3 167 88.3C166.27 88.3 165.88 90.02 164.8 89.8C163.72 89.58 161.73 88.38 160.5 87C159.27 85.62 157.73 83.33 157.4 81.5C157.07 79.67 157.6 77.2 158.5 76Z" fill="#bcbcbc"/>
<path d="M167 76.5V80" stroke="#8a8a8a" stroke-width="0.9"/>
<ellipse cx="167" cy="86.5" rx="1.6" ry="1.2" fill="#555"/>
<path d="M164.5 37L167 43L169.5 37Z" fill="#000"/>
<clipPath id="cl11"><path d="M204 49C206.33 46.08 209.5 44.17 213 42.5C216.5 40.83 221.17 39.58 225 39C228.83 38.42 232.17 38.5 236 39C239.83 39.5 244.67 40.33 248 42C251.33 43.67 254.33 46.33 256 49C257.67 51.67 257.33 55.17 258 58C258.67 60.83 259.33 63 260 66C260.67 69 261.83 71.83 262 76C262.17 80.17 261.83 86 261 91C260.17 96 259.17 101.5 257 106C254.83 110.5 252 115.33 248 118C244 120.67 237.83 121.75 233 122C228.17 122.25 223.67 121.17 219 119.5C214.33 117.83 208.83 115.58 205 112C201.17 108.42 198.17 103 196 98C193.83 93 192.5 87 192 82C191.5 77 191.83 71.67 193 68C194.17 64.33 197.17 63.17 199 60C200.83 56.83 201.67 51.92 204 49Z"/></clipPath>
<g clip-path="url(#cl11)">
<path d="M204 49C206.33 46.08 209.5 44.17 213 42.5C216.5 40.83 221.17 39.58 225 39C228.83 38.42 232.17 38.5 236 39C239.83 39.5 244.67 40.33 248 42C251.33 43.67 254.33 46.33 256 49C257.67 51.67 257.33 55.17 258 58C258.67 60.83 259.33 63 260 66C260.67 69 261.83 71.83 262 76C262.17 80.17 261.83 86 261 91C260.17 96 259.17 101.5 257 106C254.83 110.5 252 115.33 248 118C244 120.67 237.83 121.75 233 122C228.17 122.25 223.67 121.17 219 119.5C214.33 117.83 208.83 115.58 205 112C201.17 108.42 198.17 103 196 98C193.83 93 192.5 87 192 82C191.5 77 191.83 71.67 193 68C194.17 64.33 197.17 63.17 199 60C200.83 56.83 201.67 51.92 204 49Z" fill="#6c6c6c"/>
<path d="M210.39 54.01L211.76 53.85L212.07 52.31L212.76 50.63L214.42 49.99L216.3 49.51L217.37 47.82L218.42 45.05L220.11 43.38L222.43 43.93L224.73 45.27L226.62 45.49L228.4 44.88L230.17 45.26L231.85 47.03L233.52 48.3L235.54 47.48L237.83 45.53L240.07 44.71L241.94 45.56L243.61 46.39L245.41 46.1L247.36 46.01L248.41 47.71L248.15 50.59L247.87 52.69L248.69 53.17L249.84 52.99L250.05 53.75L249.57 55.45L250.32 57.78L252.93 60.01L255.32 61.79L255.63 63.92L254.53 66.45L254.12 68.87L254.97 70.78L255.43 72.58L254.27 74.54L252.69 76.51L252.82 77.93L254.79 79.75L256.45 81.8L256.4 83.89L255.71 85.96L256.09 88.11L257.12 90.37L256.82 92.4L254.49 94.05L251.93 95.54L251.07 97.25L251.49 99.22L251.29 100.95L250 102.11L249.06 103.59L249.63 106.06L250.64 108.91L250.14 110.94L248.03 111.61L246.01 111.88L245.02 112.79L244.15 113.75L242.42 113.42L240.31 112L238.57 111.59L237.18 113.28L235.68 115.53L233.9 116.36L232.14 115.99L230.44 116.21L228.57 117.49L226.6 118.05L225.02 116.39L223.86 113.58L222.42 111.84L220.43 111.71L218.4 111.59L216.87 110.28L215.52 108.82L213.52 108.83L210.76 109.93L208.39 110.12L207.47 108.53L207.32 106.35L206.47 104.77L204.96 103.53L204.33 101.62L205.13 98.95L205.74 96.5L204.5 95.01L202.02 94.1L200.27 92.73L199.94 90.79L199.53 88.85L197.85 87.18L196.02 85.48L196.07 83.48L198.02 81.42L199.7 79.34L199.68 77.46L199.02 75.6L199.48 73.87L200.76 72.49L200.87 71.21L199.12 69.8L197.76 67.86L198.58 66.53L200.98 65.81L203.37 63.91L204.39 61.05L205.26 58.69L207.56 57.1L210.25 56.11L211.18 55.21Z" fill="#a4a4a4" filter="url(#sb)"/>
<path d="M210.39 54.01L211.76 53.85L212.07 52.31L212.76 50.63L214.42 49.99L216.3 49.51L217.37 47.82L218.42 45.05L220.11 43.38L222.43 43.93L224.73 45.27L226.62 45.49L228.4 44.88L230.17 45.26L231.85 47.03L233.52 48.3L235.54 47.48L237.83 45.53L240.07 44.71L241.94 45.56L243.61 46.39L245.41 46.1L247.36 46.01L248.41 47.71L248.15 50.59L247.87 52.69L248.69 53.17L249.84 52.99L250.05 53.75L249.57 55.45L250.32 57.78L252.93 60.01L255.32 61.79L255.63 63.92L254.53 66.45L254.12 68.87L254.97 70.78L255.43 72.58L254.27 74.54L252.69 76.51L252.82 77.93L254.79 79.75L256.45 81.8L256.4 83.89L255.71 85.96L256.09 88.11L257.12 90.37L256.82 92.4L254.49 94.05L251.93 95.54L251.07 97.25L251.49 99.22L251.29 100.95L250 102.11L249.06 103.59L249.63 106.06L250.64 108.91L250.14 110.94L248.03 111.61L246.01 111.88L245.02 112.79L244.15 113.75L242.42 113.42L240.31 112L238.57 111.59L237.18 113.28L235.68 115.53L233.9 116.36L232.14 115.99L230.44 116.21L228.57 117.49L226.6 118.05L225.02 116.39L223.86 113.58L222.42 111.84L220.43 111.71L218.4 111.59L216.87 110.28L215.52 108.82L213.52 108.83L210.76 109.93L208.39 110.12L207.47 108.53L207.32 106.35L206.47 104.77L204.96 103.53L204.33 101.62L205.13 98.95L205.74 96.5L204.5 95.01L202.02 94.1L200.27 92.73L199.94 90.79L199.53 88.85L197.85 87.18L196.02 85.48L196.07 83.48L198.02 81.42L199.7 79.34L199.68 77.46L199.02 75.6L199.48 73.87L200.76 72.49L200.87 71.21L199.12 69.8L197.76 67.86L198.58 66.53L200.98 65.81L203.37 63.91L204.39 61.05L205.26 58.69L207.56 57.1L210.25 56.11L211.18 55.21Z" fill="none" stroke="#dcdcdc" stroke-width="2.2" opacity="0.85" filter="url(#sb)"/>
<path d="M204 49C206.33 46.08 209.5 44.17 213 42.5C216.5 40.83 221.17 39.58 225 39C228.83 38.42 232.17 38.5 236 39C239.83 39.5 244.67 40.33 248 42C251.33 43.67 254.33 46.33 256 49C257.67 51.67 257.33 55.17 258 58C258.67 60.83 259.33 63 260 66C260.67 69 261.83 71.83 262 76C262.17 80.17 261.83 86 261 91C260.17 96 259.17 101.5 257 106C254.83 110.5 252 115.33 248 118C244 120.67 237.83 121.75 233 122C228.17 122.25 223.67 121.17 219 119.5C214.33 117.83 208.83 115.58 205 112C201.17 108.42 198.17 103 196 98C193.83 93 192.5 87 192 82C191.5 77 191.83 71.67 193 68C194.17 64.33 197.17 63.17 199 60C200.83 56.83 201.67 51.92 204 49Z" fill="#fff" filter="url(#brn)" opacity="0.85"/>
<path d="M211.94 47.73L207.93 47.08M217.55 47.02L215.37 46.26M217.58 48.3L218.94 45.91M250.92 50.66L250.89 46.97M253.12 60.91L255.54 62.44M256.61 71.61L258.22 68.89M252.73 92.59L255.92 90.18M253.46 92.66L256.16 90.62M253.81 99.44L256.79 97.88M251.61 97.65L252.65 99.97M239.38 114.41L237.89 117.69M233.43 114.44L235.63 116.19M230.2 117.7L232.23 120.15M219.29 113.89L215.98 115.22M205.23 103.19L204.63 106.62M205.32 103.13L204.84 105.84M204.27 98.84L203.58 101.06M202.27 99.24L201.43 101.92M206.61 59.34L205.47 56.42M207.66 59.38L204.1 61.04M207.79 54.69L206.33 50.8" stroke="#dcdcdc" stroke-width="0.8" stroke-linecap="round" fill="none"/>
<path d="M208.31 50.23L208.51 46.23M209.52 51L205.89 51.05M212.74 50.3Q212.81 47.04 209.18 46.27M217.9 51.42Q216.94 47.91 218.72 43.7M226.34 45.27L227.96 43.61M226.62 44.71L228.82 42.44M244.75 45.63L243.38 42.64M244.64 46.74L247.05 45.81M248.66 55.92Q250.31 51.54 252.44 47.79M251.26 51.3L254.47 53.62M251.67 51.51L253.45 48.69M249.86 62.26Q252.95 59.99 256.99 61.35M249.35 68.46Q253.01 66.52 257.17 66.67M257.23 78.42L258.97 80.25M253.56 85.39Q256.3 83.79 258.82 82.63M249.92 91.66Q253.56 93.58 257.82 91.87M254.7 97.38L258.07 95.07M248.32 96.71Q252.75 96.94 255.5 101.82M241.4 109.49Q245 111.81 249.54 112.91M246.97 112.87L246.51 115.36M236.75 111.38Q239.26 115.13 244.2 117.7M236.56 115.51L238.68 116.77M237.13 116.13L239.09 117.3M232.35 111.5Q233.98 115.07 234.09 118.75M214.33 113.6L215.56 116.52M209.19 106.09L209.46 110.07M201.41 93.64L200.41 96.03M198.43 87.14L196.87 89.86M197.54 88.1L196.39 90.11M196 76.77L194.2 78.62M197.9 67.49L196.78 64.35M200.11 67.06L197.01 68.4M211.1 59.13Q206.65 59.81 203.03 58.67M209.78 56.78Q207.28 53.24 203.33 53.23" stroke="#dcdcdc" stroke-width="1.2" stroke-linecap="round" fill="none"/>
<path d="M219.78 52.22Q218.77 47.14 214.26 43.63M237.76 45.79L235.64 42.8M253.53 56.23L255.1 53.96M250.37 69.36Q255.43 72.18 259.61 71.65M250.31 78.61Q254.95 79.16 259.56 77.89M253.96 87.09L255.7 85.61M254.58 87.25L256.43 85.67M246.06 107.55Q249.3 109.16 254.28 107.03M231.35 116.16Q230.08 118.06 228.29 119.71M222.65 110.12Q220.33 113.01 217.53 115.59M211.92 110.77L209.56 111.08M208.6 100.65Q205.27 103.25 201.79 105.61M206.95 97.43Q204.13 99.6 200.1 99.23M203.16 67.15Q199.79 66.54 195.64 68.28M201.45 65.29L201.42 62.34M200.54 64.66L200.52 62.31" stroke="#dcdcdc" stroke-width="1.6" stroke-linecap="round" fill="none"/>
<path d="M212.78 52.08Q208.79 51.35 206.82 48.74M224.81 48.49Q226.81 44.29 228.78 40.23M245.05 49.12Q243.89 45.52 246.01 43.29M242.89 48.9Q246.06 47.46 249.37 46.42M249.08 50.58Q251.49 51.03 253.91 53M251.13 96.22Q254.2 98.16 257.98 96.88M247.95 105.61Q251 106.45 252.76 109.41M246.02 108.79Q247.33 111.5 246.86 115.29M233.49 112.5Q237.19 115.85 239.69 119.27M226.02 113.69Q222.69 115.12 222.69 117.45M214.19 109.66Q214.36 112.91 214.34 115.97M213.03 109.35Q212.1 111.53 208.69 111.81M212.28 102.63Q208.83 105.86 206.63 110.24M205.38 90.51Q202.2 93.92 198.15 94.89M199.83 84.8Q198.15 88.31 196.04 88.99M199.51 84.84Q196.61 83.81 194.23 85.79M198.74 74.88Q196.14 77.61 193.66 76.74" stroke="#dcdcdc" stroke-width="2.0" stroke-linecap="round" fill="none"/>
<path d="M226.54 46.19Q226.14 44.03 223.52 42.44M236.24 49.76Q237 45.73 240.55 42.34M250.36 55.18Q253.24 56.21 255.97 56.92M251.55 85.91Q254.86 88.18 258.55 86.99M197.67 75.79Q195.76 73.53 193.83 72.6M201.96 66.63Q201.69 64.55 199.56 64.5" stroke="#dcdcdc" stroke-width="2.4" stroke-linecap="round" fill="none"/>
<path d="M206.56 45.14Q210 48.8 212.04 52.27M209.79 43.03Q211.72 44.57 211.56 46.16M220.48 38.88Q221.4 43.27 222.37 46.6M231.61 37.62Q231.71 40.36 231.46 42.09M258.57 55.12Q253.96 56.54 250.13 56.1M263.02 79.95Q257.8 79.51 253.57 79.72M262.66 85.91Q258.26 86.74 255.09 85.19M260.11 100.34Q254.85 100.09 251.16 97.9M254.22 112.95Q250.75 112.4 249.82 109.93M250.85 116.98Q245.92 113.75 243.63 109.37M247.34 119.57Q244.62 114.74 242.49 110.73M243.96 121.03Q242.5 117.99 242.1 115.64M238.07 122.47Q237.26 118.62 236.97 115.71M225.04 122.31Q226.94 117.88 226.8 114.04M211.24 117.36Q212.66 114.53 213.64 112.58M198.83 105.73Q204.75 103.89 208.27 100M195.37 99.06Q198.14 97.28 200.39 96.83M193.3 93.51Q197.41 91.35 201.07 91.12M191.25 84.14Q196.89 84.62 201.21 82.77M194.05 64.18Q196.13 66.69 198.19 67.64M197.76 60.09Q199.17 62.9 201.47 62.61M199.99 55.12Q202.45 56.56 204.32 56.7" stroke="#141414" stroke-width="0.8" stroke-linecap="round" fill="none"/>
<path d="M215.29 40.46Q217.83 44.84 218.41 48.88M224.15 38.12Q225.49 40.03 224.68 41.28M236.82 38.1Q236.94 43.03 235.64 46.76M244.29 39.56Q244.19 43.28 242.61 45.54M249.14 41.47Q246.07 46.39 244.07 50.75M254.12 45.15Q251.18 49.29 247.81 51.62M256.86 48.5Q253.2 49.88 251.06 51.89M259.33 59.24Q256.54 58.23 255.53 60.2M260.42 63.46Q257.72 63.42 256.32 64.48M262.87 74.18Q258.23 73.16 254.92 75.04M262.21 89.69Q258.21 89.75 255.36 88.71M261.24 95.36Q257.21 94.27 254.04 93.97M258.48 105.14Q254.67 104.83 252.72 102.71M256.21 109.72Q252.82 108.02 250.47 106.52M231.56 123.04Q232.8 120.25 231.56 118.47M219.37 120.69Q220.85 114.87 222.94 110.32M213.98 118.63Q215.46 116.85 215.33 115.46M204.88 113.23Q208.39 111 209.46 107.97M202.8 111.18Q206.4 106.44 210.74 104.03M191.84 87.69Q196.19 88.51 198.92 86.29M190.8 79.01Q194.48 78.71 197.17 78.8M190.94 73.69Q193.58 73.24 195.11 74.06M191.42 70.19Q197.09 72.65 202.29 72.33M202.01 50.23Q206.54 50.81 208.61 53.81" stroke="#141414" stroke-width="1.1" stroke-linecap="round" fill="none"/>
<path d="M261.45 67.66Q256.43 68.05 252.85 69.96" stroke="#141414" stroke-width="1.4" stroke-linecap="round" fill="none"/>
</g>
<path d="M194 58Q200 62 206 63.5L214 65.5" stroke="#000" stroke-width="2.2" fill="none" stroke-linecap="round" filter="url(#sb)"/>
<path d="M261 58Q257 62 252 63.5L245 65.5" stroke="#000" stroke-width="2.2" fill="none" stroke-linecap="round" filter="url(#sb)"/>
<path d="M230 39.5V64" stroke="#151515" stroke-width="1.3"/>
<path d="M219.8 74.8C220.88 73.36 223.26 72.56 224.96 72.76C226.66 72.96 228.32 76 230 76C231.68 76 233.34 72.96 235.04 72.76C236.74 72.56 239.12 73.36 240.2 74.8C241.28 76.24 241.92 79.2 241.52 81.4C241.12 83.6 239.28 86.34 237.8 88C236.32 89.66 233.94 91.1 232.64 91.36C231.34 91.62 230.88 89.56 230 89.56C229.12 89.56 228.66 91.62 227.36 91.36C226.06 91.1 223.68 89.66 222.2 88C220.72 86.34 218.88 83.6 218.48 81.4C218.08 79.2 218.72 76.24 219.8 74.8Z" fill="#0a0a0a" filter="url(#sb)"/>
<path d="M224 66.5C225.17 65.33 228 65 230 65C232 65 234.83 65.33 236 66.5C237.17 67.67 238 70.75 237 72C236 73.25 232.33 74 230 74C227.67 74 224 73.25 223 72C222 70.75 222.83 67.67 224 66.5Z" fill="#101010" filter="url(#sb)"/>
<path d="M226 68.5q4 -2.5 8 0" stroke="#aaa" stroke-width="1.1" fill="none"/>
<clipPath id="cl12"><path d="M218 96.5C218.9 94.71 220.77 92.5 222.4 91.5C224.03 90.5 226.45 90.25 227.8 90.5C229.15 90.75 229.6 93 230.5 93C231.4 93 231.85 90.75 233.2 90.5C234.55 90.25 236.97 90.5 238.6 91.5C240.23 92.5 242.1 94.71 243 96.5C243.9 98.29 244.4 100 244 102.25C243.6 104.5 242.09 108.04 240.62 110C239.16 111.96 236.91 113.75 235.22 114C233.54 114.25 232.07 111.5 230.5 111.5C228.93 111.5 227.46 114.25 225.78 114C224.09 113.75 221.84 111.96 220.38 110C218.91 108.04 217.4 104.5 217 102.25C216.6 100 217.1 98.29 218 96.5Z"/></clipPath>
<g clip-path="url(#cl12)"><path d="M218 96.5C218.9 94.71 220.77 92.5 222.4 91.5C224.03 90.5 226.45 90.25 227.8 90.5C229.15 90.75 229.6 93 230.5 93C231.4 93 231.85 90.75 233.2 90.5C234.55 90.25 236.97 90.5 238.6 91.5C240.23 92.5 242.1 94.71 243 96.5C243.9 98.29 244.4 100 244 102.25C243.6 104.5 242.09 108.04 240.62 110C239.16 111.96 236.91 113.75 235.22 114C233.54 114.25 232.07 111.5 230.5 111.5C228.93 111.5 227.46 114.25 225.78 114C224.09 113.75 221.84 111.96 220.38 110C218.91 108.04 217.4 104.5 217 102.25C216.6 100 217.1 98.29 218 96.5Z" fill="#7a7a7a"/>
<path d="M218 96.5C218.9 94.71 220.77 92.5 222.4 91.5C224.03 90.5 226.45 90.25 227.8 90.5C229.15 90.75 229.6 93 230.5 93C231.4 93 231.85 90.75 233.2 90.5C234.55 90.25 236.97 90.5 238.6 91.5C240.23 92.5 242.1 94.71 243 96.5C243.9 98.29 244.4 100 244 102.25C243.6 104.5 242.09 108.04 240.62 110C239.16 111.96 236.91 113.75 235.22 114C233.54 114.25 232.07 111.5 230.5 111.5C228.93 111.5 227.46 114.25 225.78 114C224.09 113.75 221.84 111.96 220.38 110C218.91 108.04 217.4 104.5 217 102.25C216.6 100 217.1 98.29 218 96.5Z" fill="#fff" filter="url(#brnD)" opacity="0.35"/>
<path d="M229.3 92.45Q224.43 95.5 216.32 88.59M229.3 95.8Q224.43 98.86 216.32 93.02M229.3 99.16Q224.43 102.22 216.32 97.45M229.3 102.52Q224.43 105.57 216.32 101.88M229.3 105.88Q224.43 108.93 216.32 106.31M229.3 109.23Q224.43 112.29 216.32 110.74M229.3 112.59Q224.43 115.64 216.32 115.17M231.7 92.45Q236.57 95.5 244.68 88.59M231.7 95.8Q236.57 98.86 244.68 93.02M231.7 99.16Q236.57 102.22 244.68 97.45M231.7 102.52Q236.57 105.57 244.68 101.88M231.7 105.88Q236.57 108.93 244.68 106.31M231.7 109.23Q236.57 112.29 244.68 110.74M231.7 112.59Q236.57 115.64 244.68 115.17" stroke="#2e2e2e" stroke-width="0.75" fill="none" opacity="0.7"/>
<path d="M228.5 94.13Q224.43 97.18 216.32 90.27M228.5 97.48Q224.43 100.54 216.32 94.7M228.5 100.84Q224.43 103.89 216.32 99.13M228.5 104.2Q224.43 107.25 216.32 103.56M228.5 107.55Q224.43 110.61 216.32 107.99M228.5 110.91Q224.43 113.97 216.32 112.42M228.5 114.27Q224.43 117.32 216.32 116.85M232.5 94.13Q236.57 97.18 244.68 90.27M232.5 97.48Q236.57 100.54 244.68 94.7M232.5 100.84Q236.57 103.89 244.68 99.13M232.5 104.2Q236.57 107.25 244.68 103.56M232.5 107.55Q236.57 110.61 244.68 107.99M232.5 110.91Q236.57 113.97 244.68 112.42M232.5 114.27Q236.57 117.32 244.68 116.85" stroke="#c8c8c8" stroke-width="0.5" fill="none" opacity="0.55"/>
<path d="M230.5 93.5V114" stroke="#2a2a2a" stroke-width="1.3"/>
</g>
<path d="M221.5 76C222.4 74.8 224.38 74.13 225.8 74.3C227.22 74.47 228.6 77 230 77C231.4 77 232.78 74.47 234.2 74.3C235.62 74.13 237.6 74.8 238.5 76C239.4 77.2 239.93 79.67 239.6 81.5C239.27 83.33 237.73 85.62 236.5 87C235.27 88.38 233.28 89.58 232.2 89.8C231.12 90.02 230.73 88.3 230 88.3C229.27 88.3 228.88 90.02 227.8 89.8C226.72 89.58 224.73 88.38 223.5 87C222.27 85.62 220.73 83.33 220.4 81.5C220.07 79.67 220.6 77.2 221.5 76Z" fill="#bcbcbc"/>
<path d="M230 76.5V80" stroke="#8a8a8a" stroke-width="0.9"/>
<ellipse cx="230" cy="86.5" rx="1.6" ry="1.2" fill="#555"/>
<path d="M227.5 37L230 43L232.5 37Z" fill="#000"/>
<clipPath id="cl13"><path d="M276 41C280.67 39.08 288 37.58 294 37.5C300 37.42 307.33 38.42 312 40.5C316.67 42.58 319.5 46.08 322 50C324.5 53.92 325.83 59 327 64C328.17 69 329 74.33 329 80C329 85.67 328.5 92.67 327 98C325.5 103.33 323.5 108.08 320 112C316.5 115.92 310.83 119.67 306 121.5C301.17 123.33 295.83 123.42 291 123C286.17 122.58 281.17 121.17 277 119C272.83 116.83 268.83 113.83 266 110C263.17 106.17 261.33 101 260 96C258.67 91 258 85.67 258 80C258 74.33 258.67 67.17 260 62C261.33 56.83 263.33 52.5 266 49C268.67 45.5 271.33 42.92 276 41Z"/></clipPath>
<g clip-path="url(#cl13)">
<path d="M276 41C280.67 39.08 288 37.58 294 37.5C300 37.42 307.33 38.42 312 40.5C316.67 42.58 319.5 46.08 322 50C324.5 53.92 325.83 59 327 64C328.17 69 329 74.33 329 80C329 85.67 328.5 92.67 327 98C325.5 103.33 323.5 108.08 320 112C316.5 115.92 310.83 119.67 306 121.5C301.17 123.33 295.83 123.42 291 123C286.17 122.58 281.17 121.17 277 119C272.83 116.83 268.83 113.83 266 110C263.17 106.17 261.33 101 260 96C258.67 91 258 85.67 258 80C258 74.33 258.67 67.17 260 62C261.33 56.83 263.33 52.5 266 49C268.67 45.5 271.33 42.92 276 41Z" fill="#747474"/>
<path d="M279.95 50.37L280.51 48.43L282.02 47.97L283.83 47.98L285.38 46.36L286.86 43.44L288.73 41.92L290.93 43.26L292.98 45.63L294.7 46.47L296.52 45.94L298.39 46.31L300.07 48.29L301.68 49.73L303.61 48.61L305.91 46.08L307.93 44.97L309.05 46.02L310.04 47.35L311.66 47.5L313.49 47.69L313.86 49.58L312.56 52.67L311.8 55.17L313.06 56.08L315.13 56.33L316.12 57.5L316.04 59.27L317.05 60.83L319.95 62.06L322.57 63.56L322.6 65.68L320.68 68.03L319.53 70.14L320.1 71.92L320.53 73.74L319.17 75.73L317.36 77.64L317.7 79.42L320.35 81.26L322.66 83.31L322.69 85.38L321.68 87.4L321.84 89.49L322.95 91.69L322.57 93.63L319.74 94.86L316.61 95.74L315.6 97.31L316.38 99.4L316.55 101.24L315.3 102.34L314.41 103.45L315.19 105.72L316.31 108.72L315.69 110.44L313.14 110.31L310.52 109.9L308.95 110.78L307.69 112.15L305.66 112.1L303.28 110.73L301.86 110.37L301.25 112.55L300.43 115.54L298.89 116.73L297.07 116.17L295.28 116.16L293.38 117.54L291.43 118.29L289.74 116.43L288.53 113.12L287.28 111.24L285.48 111.59L283.55 112.12L282.23 111.14L281.2 109.77L279.24 109.96L276.23 111.42L273.65 111.81L272.84 109.95L273.1 107.3L272.67 105.67L271.41 104.84L270.99 103.32L272.27 100.9L273.35 98.68L272.01 97.34L268.89 96.38L266.68 94.92L266.49 93.05L266.49 91.22L264.98 89.64L263.13 88L263.48 86L266.14 83.86L268.44 81.88L268.4 79.99L267.25 78.15L267.31 76.19L268.49 74.24L268.44 72.2L266.16 69.9L263.82 67.5L263.93 65.51L266.06 64.14L267.74 62.62L267.95 60.68L268.45 58.91L270.78 58.11L273.67 57.98L274.71 57.12L273.71 54.84L273 52.15L273.8 50.82L275.18 50.32L275.79 48.9L276.16 46.43Z" fill="#bcbcbc" filter="url(#sb)"/>
<path d="M279.95 50.37L280.51 48.43L282.02 47.97L283.83 47.98L285.38 46.36L286.86 43.44L288.73 41.92L290.93 43.26L292.98 45.63L294.7 46.47L296.52 45.94L298.39 46.31L300.07 48.29L301.68 49.73L303.61 48.61L305.91 46.08L307.93 44.97L309.05 46.02L310.04 47.35L311.66 47.5L313.49 47.69L313.86 49.58L312.56 52.67L311.8 55.17L313.06 56.08L315.13 56.33L316.12 57.5L316.04 59.27L317.05 60.83L319.95 62.06L322.57 63.56L322.6 65.68L320.68 68.03L319.53 70.14L320.1 71.92L320.53 73.74L319.17 75.73L317.36 77.64L317.7 79.42L320.35 81.26L322.66 83.31L322.69 85.38L321.68 87.4L321.84 89.49L322.95 91.69L322.57 93.63L319.74 94.86L316.61 95.74L315.6 97.31L316.38 99.4L316.55 101.24L315.3 102.34L314.41 103.45L315.19 105.72L316.31 108.72L315.69 110.44L313.14 110.31L310.52 109.9L308.95 110.78L307.69 112.15L305.66 112.1L303.28 110.73L301.86 110.37L301.25 112.55L300.43 115.54L298.89 116.73L297.07 116.17L295.28 116.16L293.38 117.54L291.43 118.29L289.74 116.43L288.53 113.12L287.28 111.24L285.48 111.59L283.55 112.12L282.23 111.14L281.2 109.77L279.24 109.96L276.23 111.42L273.65 111.81L272.84 109.95L273.1 107.3L272.67 105.67L271.41 104.84L270.99 103.32L272.27 100.9L273.35 98.68L272.01 97.34L268.89 96.38L266.68 94.92L266.49 93.05L266.49 91.22L264.98 89.64L263.13 88L263.48 86L266.14 83.86L268.44 81.88L268.4 79.99L267.25 78.15L267.31 76.19L268.49 74.24L268.44 72.2L266.16 69.9L263.82 67.5L263.93 65.51L266.06 64.14L267.74 62.62L267.95 60.68L268.45 58.91L270.78 58.11L273.67 57.98L274.71 57.12L273.71 54.84L273 52.15L273.8 50.82L275.18 50.32L275.79 48.9L276.16 46.43Z" fill="none" stroke="#dcdcdc" stroke-width="2.2" opacity="0.85" filter="url(#sb)"/>
<path d="M276 41C280.67 39.08 288 37.58 294 37.5C300 37.42 307.33 38.42 312 40.5C316.67 42.58 319.5 46.08 322 50C324.5 53.92 325.83 59 327 64C328.17 69 329 74.33 329 80C329 85.67 328.5 92.67 327 98C325.5 103.33 323.5 108.08 320 112C316.5 115.92 310.83 119.67 306 121.5C301.17 123.33 295.83 123.42 291 123C286.17 122.58 281.17 121.17 277 119C272.83 116.83 268.83 113.83 266 110C263.17 106.17 261.33 101 260 96C258.67 91 258 85.67 258 80C258 74.33 258.67 67.17 260 62C261.33 56.83 263.33 52.5 266 49C268.67 45.5 271.33 42.92 276 41Z" fill="#fff" filter="url(#brnB)" opacity="0.8"/>
<path d="M293.04 49.82Q291.97 44.65 288.46 39.87M291.13 44.27L289.21 42.9M291.97 42.74L294.56 39.99M311.78 48.09L311.33 44.24M315.52 48.56L315.66 45.65M318.28 52.86L321.49 53.89M316.95 53.46L317.78 50.17M316.97 86.4Q321.85 84.97 326.6 85.62M323.22 85.42L325.69 83.08M323.33 85.42L325.12 83.72M299.4 116.9L301.87 118.84M299.44 116.78L301.24 118.19M288.61 114.7L290.51 117.61M286.83 117.27L283.54 119.12M272.21 110.87L272.42 113.78M274.06 109.79L274.32 113.26M268.02 104.7L267.36 106.85M267.21 79.13Q263.93 82.63 260.74 83.51M263.82 82.06L261.55 84.76M264.53 66.06L262.3 62.59M267.92 58.26L266.46 54.38M269.74 52.74L266.98 53.22M274.53 45.98L271.61 45.29" stroke="#dcdcdc" stroke-width="0.8" stroke-linecap="round" fill="none"/>
<path d="M286.66 52.35Q287.31 45.99 284.13 40.43M293.1 50.12Q291.69 45.09 292.03 39.95M296.64 44.63L294.74 42.7M297.98 47.95Q301.91 44.43 303.11 40.65M308.49 44.87L307.55 42.3M308.31 45L307.32 42.3M308.33 52.52Q311.18 48.16 315.23 44.81M308.69 51.52Q314.02 50.02 317.88 46.86M318.33 58.39L319.9 54.91M323.55 68.4L325.25 65.6M324.17 68.8L326.74 70.77M321.51 67.93L324.57 70.27M320.51 79.8L322.81 77.22M320.17 79.9L322.53 77.26M322.41 92.05L324.16 90.66M320.84 99.62L323.07 98.42M318.37 105.05L320.6 104.29M313.47 108.97L313.54 111.82M301.84 112.38Q303.09 115.72 304.39 119.05M301 113.69Q298.59 117.51 298.68 121M291.83 111.53Q287.46 115.15 285.85 119.31M275.79 113.34L272.56 114M273.08 106.71L272.53 109.8M276.14 103.22Q270.61 104.45 264.86 105.11M266.55 88.97L263.5 86.41M265.57 88.66L263.76 91.11M262.17 78.6L260.51 76.8M264.16 77.63L261.54 80.38M263.42 75.13L260.41 77.88M271.33 67.47Q266.26 66.11 261.03 65.63M267.05 61.39L265.22 57.78M272.02 57.8Q266.85 59.12 263.24 56.75M272.47 54.03Q269.22 53.19 267.6 50.21M275.57 50.15Q274.65 47.37 274.28 44.33" stroke="#dcdcdc" stroke-width="1.2" stroke-linecap="round" fill="none"/>
<path d="M281.08 50.56Q280.09 46.58 279.13 42.59M309.38 50.93Q308.92 46.52 306.33 41.89M314.99 55.24Q316.94 52.68 320.23 52.51M314.1 66.18Q319.8 65.81 324.71 62.3M315.21 94.13Q320.84 91.44 325.88 92.13M313.87 100.1Q318.8 99.23 323.12 99.84M313.62 101.86Q317.17 105.39 322.26 106.07M309.11 107.33Q313.25 109.15 317.93 110.16M290.85 112.19Q289.16 115.78 289.94 119.69M277.37 107.03Q275.68 110.9 275.69 115.72M276.43 108.97Q273.06 109.82 271.08 111.86M275.45 99.07Q270.11 101.97 263.61 101.8M265.49 94.62L263 93.09M265.59 93.45L263.72 96.55M271.08 90.45Q266.36 88.87 261.83 87.5M269.66 74.39Q264.92 73.85 260.66 69.93M271.14 56.72Q269.2 53.42 265.44 53.32" stroke="#dcdcdc" stroke-width="1.6" stroke-linecap="round" fill="none"/>
<path d="M297.96 48.42Q295.62 43.74 296.78 39.21M301.84 49.54Q307.08 45.94 311.97 42.33M314.97 60.97Q318 57.77 321.93 57.26M318.87 70.65Q322.47 70.32 325.22 66.44M318.66 66.93Q322.75 68.41 326.67 69.57M316.62 81.24Q321.57 79.08 326.51 78.59M306.05 108.16Q308.15 112.67 309.98 117.33M276.96 104.72Q272.6 107.67 266.58 107.99M267.83 74.92Q263.58 78.74 259.5 79.33M267.29 78.15Q264.06 75.26 260.94 73.66M272.12 62.7Q267.26 61.01 261.94 60.92M277.58 54.96Q275.44 50.18 270.83 47.87" stroke="#dcdcdc" stroke-width="2.0" stroke-linecap="round" fill="none"/>
<path d="M292.63 110.44Q293.96 115.35 293.92 120.19M282.44 109.15Q283.27 114.33 281.12 118.3M270.59 94.13Q266.09 93.66 262.39 96.11M267.99 94.03Q264.84 93.19 261.89 92.82" stroke="#dcdcdc" stroke-width="2.4" stroke-linecap="round" fill="none"/>
<path d="M280 38.6Q282.35 42.26 281.97 45.65M290.33 36.7Q292.24 38.97 290.68 40.55M293.98 36.5Q294.81 38.8 294.04 40.12M299.14 36.67Q299.68 41.29 298.5 44.78M310.62 38.88Q308.35 41.35 308.91 43.75M321.6 47.6Q316.22 49.2 313.73 53.16M326.5 58.04Q320.18 58.15 315.78 61.2M329.96 77.76Q324.22 76.18 319.62 78.15M327.75 99Q322.08 97.7 317.55 96.02M323 109.76Q320.84 106.87 318.18 106.53M318.76 114.67Q314.53 110.81 311.71 107.02M309.55 121.01Q305.3 115.38 303.73 109.5M302.69 123.51Q301.31 120.58 301.57 118.32M295.97 124.2Q295.92 117.51 295.83 111.82M292.33 124.1Q293.98 120.81 292.69 118.33M277.19 120.22Q277.95 116.22 280.21 114.08M257.98 91.52Q260.01 90.25 261.37 90.91M257.19 85.16Q263.82 84.31 269.51 84.24M257.05 77.14Q259.67 77.45 261.3 77.29M261.59 54.46Q264.49 55.07 265.92 56.45" stroke="#141414" stroke-width="0.8" stroke-linecap="round" fill="none"/>
<path d="M315.27 41.16Q312.64 44.39 311.24 47.24M319.3 44.68Q315 48.38 311.62 51.6M324.8 53.22Q321.3 53.13 319.87 55.33M329.38 71.27Q326.41 70.97 324.63 71.92M329.99 81.4Q323.7 80.05 318.37 81.23M329.66 88.08Q324.08 89.31 319.78 87.23M328.77 94.81Q324.25 93.33 320.49 93.23M326.32 103.27Q319.91 102.31 315.48 99.05M314.68 117.93Q312.61 112.37 308.67 109.33M286.43 123.34Q288.88 116.83 288.99 110.86M282.03 122.17Q281.55 119.33 283.3 118.26M272.16 117.24Q273.45 113.7 275.75 112.1M267.61 113.42Q270.61 109.74 273.63 107.52M263.26 107.53Q267.66 104.74 271.51 103.04M261.37 103.47Q266.08 102.15 269.46 100.23M258.7 94.92Q262.47 94.49 265.05 93.39M257.02 81.49Q260.7 79.92 263.44 81.36M257.47 71.09Q262.63 72.85 267.05 72.06M257.83 68.06Q261.63 70.32 264.91 69.04M260.18 57.95Q264.51 60.36 268.45 60.85M264.4 49.51Q266.7 53.12 270.07 53.43M267.05 46.13Q269.96 46.35 269.76 48.55M269.61 43.64Q271.58 48.46 275.33 50.5M274.83 40.41Q277.57 46.86 280.19 52.25" stroke="#141414" stroke-width="1.1" stroke-linecap="round" fill="none"/>
<path d="M285.8 37.31Q288.21 43.17 287.73 48.52M305.13 37.45Q305.8 41.17 304.01 43.4M327.81 63.05Q324.6 62.19 323.11 64.17M328.94 68.48Q325.24 68.81 322.64 69.59M260.33 100.61Q264.06 99.42 266.81 98.44M258.87 62.39Q260.86 63.06 261.97 63.14" stroke="#141414" stroke-width="1.4" stroke-linecap="round" fill="none"/>
</g>
<path d="M278 64C280.17 61.67 285.33 61.67 288 62C290.67 62.33 292 66 294 66C296 66 297.33 62.33 300 62C302.67 61.67 307.83 61.67 310 64C312.17 66.33 313 71.83 313 76C313 80.17 312.17 86.33 310 89C307.83 91.67 302.67 91.83 300 92C297.33 92.17 296 90 294 90C292 90 290.67 92.17 288 92C285.33 91.83 280.17 91.67 278 89C275.83 86.33 275 80.17 275 76C275 71.83 275.83 66.33 278 64Z" fill="#9a9a9a" opacity="0.8" filter="url(#sb2)"/>
<path d="M294 38.5V74" stroke="#111" stroke-width="1.3"/>
<path d="M290.5 64Q293 74 292 84M297.5 64Q295 74 296 84" stroke="#2a2a2a" stroke-width="1.2" fill="none"/>
<path d="M283 93C285 91.08 290.33 91.5 294 91.5C297.67 91.5 303 91.08 305 93C307 94.92 306.5 99.83 306 103C305.5 106.17 304 110 302 112C300 114 296.67 115 294 115C291.33 115 288 114 286 112C284 110 282.5 106.17 282 103C281.5 99.83 281 94.92 283 93Z" fill="#5a5a5a" filter="url(#sb)"/>
<path d="M284 95Q294 98 304 95M284 98.3Q294 101.3 304 98.3M284 101.6Q294 104.6 304 101.6M284 104.9Q294 107.9 304 104.9M284 108.2Q294 111.2 304 108.2" stroke="#151515" stroke-width="1.2" fill="none"/>
<path d="M294 92V114" stroke="#222" stroke-width="1.2"/>
<clipPath id="cl14"><path d="M340 41C344.67 39.08 352 37.58 358 37.5C364 37.42 371.33 38.42 376 40.5C380.67 42.58 383.5 46.08 386 50C388.5 53.92 389.83 59 391 64C392.17 69 393 74.33 393 80C393 85.67 392.5 92.67 391 98C389.5 103.33 387.5 108.08 384 112C380.5 115.92 374.83 119.67 370 121.5C365.17 123.33 359.83 123.42 355 123C350.17 122.58 345.17 121.17 341 119C336.83 116.83 332.83 113.83 330 110C327.17 106.17 325.33 101 324 96C322.67 91 322 85.67 322 80C322 74.33 322.67 67.17 324 62C325.33 56.83 327.33 52.5 330 49C332.67 45.5 335.33 42.92 340 41Z"/></clipPath>
<g clip-path="url(#cl14)">
<path d="M340 41C344.67 39.08 352 37.58 358 37.5C364 37.42 371.33 38.42 376 40.5C380.67 42.58 383.5 46.08 386 50C388.5 53.92 389.83 59 391 64C392.17 69 393 74.33 393 80C393 85.67 392.5 92.67 391 98C389.5 103.33 387.5 108.08 384 112C380.5 115.92 374.83 119.67 370 121.5C365.17 123.33 359.83 123.42 355 123C350.17 122.58 345.17 121.17 341 119C336.83 116.83 332.83 113.83 330 110C327.17 106.17 325.33 101 324 96C322.67 91 322 85.67 322 80C322 74.33 322.67 67.17 324 62C325.33 56.83 327.33 52.5 330 49C332.67 45.5 335.33 42.92 340 41Z" fill="#747474"/>
<path d="M344.01 50.51L344.54 48.51L346.02 47.94L347.84 48.01L349.42 46.55L350.89 43.64L352.73 41.92L354.92 43.05L356.97 45.45L358.7 46.45L360.52 45.96L362.39 46.21L364.09 48.13L365.68 49.73L367.57 48.83L369.85 46.31L371.91 45.03L373.07 45.95L374.04 47.34L375.61 47.57L377.49 47.7L378.01 49.45L376.77 52.51L375.87 55.12L376.97 56.13L379.03 56.38L380.13 57.5L380.06 59.27L380.92 60.87L383.72 62.12L386.48 63.58L386.73 65.65L384.88 67.99L383.6 70.13L384.07 71.92L384.59 73.73L383.35 75.71L381.46 77.64L381.56 79.42L384.09 81.26L386.52 83.3L386.73 85.39L385.71 87.4L385.76 89.47L386.88 91.68L386.69 93.65L384.01 94.92L380.78 95.79L379.56 97.3L380.27 99.36L380.53 101.24L379.34 102.36L378.34 103.41L379 105.58L380.17 108.59L379.72 110.48L377.27 110.46L374.59 109.99L372.94 110.77L371.7 112.17L369.74 112.25L367.35 110.89L365.84 110.33L365.19 112.32L364.39 115.35L362.89 116.71L361.08 116.21L359.28 116.09L357.38 117.42L355.43 118.32L353.71 116.67L352.48 113.35L351.26 111.28L349.51 111.5L347.57 112.07L346.2 111.2L345.21 109.76L343.34 109.78L340.37 111.22L337.69 111.77L336.74 110.06L336.99 107.4L336.66 105.68L335.42 104.83L334.88 103.38L336.08 100.99L337.29 98.7L336.17 97.28L333.11 96.31L330.76 94.9L330.45 93.05L330.53 91.21L329.12 89.62L327.2 87.99L327.31 86.02L329.87 83.88L332.31 81.88L332.46 79.99L331.31 78.15L331.26 76.18L332.44 74.24L332.57 72.22L330.43 69.93L327.97 67.52L327.86 65.49L329.91 64.1L331.69 62.61L331.98 60.69L332.38 58.88L334.58 58.01L337.54 57.9L338.77 57.16L337.89 54.97L337.11 52.24L337.79 50.81L339.18 50.32L339.86 49.02L340.22 46.55Z" fill="#c8c8c8" filter="url(#sb)"/>
<path d="M344.01 50.51L344.54 48.51L346.02 47.94L347.84 48.01L349.42 46.55L350.89 43.64L352.73 41.92L354.92 43.05L356.97 45.45L358.7 46.45L360.52 45.96L362.39 46.21L364.09 48.13L365.68 49.73L367.57 48.83L369.85 46.31L371.91 45.03L373.07 45.95L374.04 47.34L375.61 47.57L377.49 47.7L378.01 49.45L376.77 52.51L375.87 55.12L376.97 56.13L379.03 56.38L380.13 57.5L380.06 59.27L380.92 60.87L383.72 62.12L386.48 63.58L386.73 65.65L384.88 67.99L383.6 70.13L384.07 71.92L384.59 73.73L383.35 75.71L381.46 77.64L381.56 79.42L384.09 81.26L386.52 83.3L386.73 85.39L385.71 87.4L385.76 89.47L386.88 91.68L386.69 93.65L384.01 94.92L380.78 95.79L379.56 97.3L380.27 99.36L380.53 101.24L379.34 102.36L378.34 103.41L379 105.58L380.17 108.59L379.72 110.48L377.27 110.46L374.59 109.99L372.94 110.77L371.7 112.17L369.74 112.25L367.35 110.89L365.84 110.33L365.19 112.32L364.39 115.35L362.89 116.71L361.08 116.21L359.28 116.09L357.38 117.42L355.43 118.32L353.71 116.67L352.48 113.35L351.26 111.28L349.51 111.5L347.57 112.07L346.2 111.2L345.21 109.76L343.34 109.78L340.37 111.22L337.69 111.77L336.74 110.06L336.99 107.4L336.66 105.68L335.42 104.83L334.88 103.38L336.08 100.99L337.29 98.7L336.17 97.28L333.11 96.31L330.76 94.9L330.45 93.05L330.53 91.21L329.12 89.62L327.2 87.99L327.31 86.02L329.87 83.88L332.31 81.88L332.46 79.99L331.31 78.15L331.26 76.18L332.44 74.24L332.57 72.22L330.43 69.93L327.97 67.52L327.86 65.49L329.91 64.1L331.69 62.61L331.98 60.69L332.38 58.88L334.58 58.01L337.54 57.9L338.77 57.16L337.89 54.97L337.11 52.24L337.79 50.81L339.18 50.32L339.86 49.02L340.22 46.55Z" fill="none" stroke="#dcdcdc" stroke-width="2.2" opacity="0.85" filter="url(#sb)"/>
<path d="M340 41C344.67 39.08 352 37.58 358 37.5C364 37.42 371.33 38.42 376 40.5C380.67 42.58 383.5 46.08 386 50C388.5 53.92 389.83 59 391 64C392.17 69 393 74.33 393 80C393 85.67 392.5 92.67 391 98C389.5 103.33 387.5 108.08 384 112C380.5 115.92 374.83 119.67 370 121.5C365.17 123.33 359.83 123.42 355 123C350.17 122.58 345.17 121.17 341 119C336.83 116.83 332.83 113.83 330 110C327.17 106.17 325.33 101 324 96C322.67 91 322 85.67 322 80C322 74.33 322.67 67.17 324 62C325.33 56.83 327.33 52.5 330 49C332.67 45.5 335.33 42.92 340 41Z" fill="#fff" filter="url(#brnB)" opacity="0.8"/>
<path d="M344.01 49.25L345.47 46.68M343.74 45.72L344.97 43.56M382.96 57.52L385.83 59.11M383.06 57.54L384.8 53.84M376.56 107.64Q378.14 109.7 379.91 111.58M378.39 109.89L382.01 109.92M373.57 114.21L376.64 114.65M363.19 115.2L365.9 117.13M363.18 116.56L361.62 118.47M355.37 114.72L352.67 116.89M355.69 116.03L353.42 117.86M353.78 115.21L351.76 116.45M339.79 111.22L336.8 111.31M334.57 101.78L332.29 100.81M328.66 91.51L326.48 94.77M328 91.31L325.82 94.58M328.4 74.26L326.72 75.83M332.86 57.74L331.68 54.4M337.61 53.62Q333.55 53.96 331.42 51.6M334.09 53.31L330.2 54.15M336.67 50.37L333.88 50.62M337.02 50.61L336.93 46.51" stroke="#dcdcdc" stroke-width="0.8" stroke-linecap="round" fill="none"/>
<path d="M344.53 48.08Q347.05 44.07 346.78 40.9M350.7 43.05L347.58 41M371.37 46.81Q371.38 43.91 369.9 40.81M380.2 56.89Q383.3 57.73 386.03 57.94M384.82 65.89L386.13 63.58M386.41 99.75L387.68 102.34M384.56 100.09L386.66 98.88M381.51 103.33L384.9 102.64M368.29 110.37Q371.81 113.84 377.23 115.85M353.92 111.09Q356.45 116.01 355.88 120.64M354.99 109.27Q354.64 115.28 350.99 120.6M344.28 109.89Q345.63 114.88 345.53 119.18M344.61 107.88Q341.92 111.5 335.86 111.96M332.58 106L331.97 109.42M331.37 90.63Q329.12 92.72 326.13 90.12M332.29 73.96Q328.68 74.31 325.09 74.41M328.84 74.34L327.04 71.94M329.74 69.34L327.66 70.92M331.62 63.74L330.13 61M337.44 58.73Q333.23 57.89 329.16 56.82M340.68 53.91Q338.07 50.84 334.32 49.05M339.61 47.31L340.48 44.09" stroke="#dcdcdc" stroke-width="1.2" stroke-linecap="round" fill="none"/>
<path d="M344.52 53.61Q343.72 47.88 343.59 41.99M351.43 46.78Q350.73 43.88 350.42 40.92M354.03 45.76Q355.21 42.37 354.56 39.17M381.36 67.21Q385.21 66.36 388.43 63.11M381.94 74.31Q386.19 77.97 390.14 79.3M379.62 91.66Q384.92 92.7 390.11 94.31M365.22 115.29Q367.97 116.94 369.63 118.84M364.24 110.58Q362.22 115.83 364 120.55M356.44 113.08Q358.94 117.09 359.94 121.01M335.78 101.69Q333 104.59 332.92 110.28M335.65 100.73Q333.8 105.18 330.87 107.79M338.83 100.92Q334.2 101.68 329.9 103.12M328.92 95.11L326.41 93.49M332.17 75.43Q327.98 74.82 324.31 70.63M343.38 51.44Q339.91 48.15 337.45 44.24" stroke="#dcdcdc" stroke-width="1.6" stroke-linecap="round" fill="none"/>
<path d="M361.14 46.48Q360.4 43.12 360.76 39.81M380.24 71.38Q384.9 68.09 389.96 66.97M380.61 76.2Q386.05 76.71 390.99 72.98M382.29 99.93Q385.19 100.58 388.69 98.86M378.82 98.23Q381.59 103.15 383.87 108.43M344.29 111.15Q341.93 113.03 342.99 116.55M345.98 110.62Q341.44 112.17 338.17 114.37M334.02 91.07Q329.95 93 327.08 98.17M333.39 94.02Q330.67 96.09 327.06 94.53M331.41 83.14Q327.83 83.12 324.41 84.92M335.07 72.82Q329.91 69.34 324.78 66.3M335.92 63.98Q331.39 64.04 327.21 62.83" stroke="#dcdcdc" stroke-width="2.0" stroke-linecap="round" fill="none"/>
<path d="M376.14 103.37Q381.32 104.16 387.03 103.45" stroke="#dcdcdc" stroke-width="2.4" stroke-linecap="round" fill="none"/>
<path d="M344.69 38.41Q345.52 45.34 347.97 50.81M352.07 36.96Q352.81 42.45 353.4 46.95M386.02 48.22Q380.01 51.87 375.22 55.56M392.94 68.48Q388.93 69.97 385.64 69.77M393.84 75.56Q389.09 76.15 385.3 76.18M394 80.69Q388.7 80.32 384.4 80.63M393.25 91.87Q389.19 92.04 386.33 90.92M391.07 101.17Q388.2 101.69 387.16 99.85M381.09 116.12Q379.7 112.08 376.65 110.67M376.79 119.18Q375.24 117.02 374.5 115.52M372.91 121.33Q370.58 114.83 367.38 109.86M348.95 123.01Q348.55 117.23 351.33 113.26M343.21 121.13Q344.46 119.29 344.5 118.03M338.63 118.83Q341.43 112.74 344.9 108.21M334.96 116.36Q338.14 114.56 338.44 111.82M325.09 102.76Q330.27 99.09 335.63 98.74M322.24 92.89Q324.49 91.1 326.28 92.07M321.06 82.97Q328.28 83.18 334.45 82.41M323.69 59.43Q327.03 61.9 330.22 61.47M326.56 52.51Q332.24 53.83 335.59 57.37M330.12 47.23Q333.92 48.79 335.43 51.58" stroke="#141414" stroke-width="0.8" stroke-linecap="round" fill="none"/>
<path d="M348.31 37.58Q350.51 40.74 349.48 43.52M357.27 36.52Q358.74 42.56 357.62 47.68M363.14 36.67Q363.51 43.89 362.1 49.98M366.91 37.09Q365.65 41.86 365.66 45.8M372.66 38.27Q370.51 42.81 370.27 46.84M379.27 41.16Q377.4 46.4 373.86 49.32M382.26 43.59Q376.72 47.7 373.43 52.62M388.21 51.92Q383.43 56.1 378.1 56.83M390.7 58.75Q388.01 58.97 386.57 59.92M392.13 64.43Q385.7 66.97 379.78 67.22M393.87 85.06Q387.28 84.18 381.63 84.42M392.14 97.6Q389.2 98.32 387.95 96.51M388.83 106.62Q385.6 104.33 382.73 103.52M385.7 111.53Q382.84 108.18 379.71 106.77M368.17 123.15Q365.31 116.86 364.82 110.97M361.46 124.16Q360.67 118.55 360.96 113.89M357.77 124.17Q357.86 119.16 358.09 115.16M352.67 123.74Q351.72 118.84 353.89 115.41M331.61 113.42Q331.95 110.57 334.09 110.99M329.2 110.59Q333.44 108.64 335.76 105.75M323.23 96.98Q327.2 95.35 330.49 94.98M321.08 76.4Q327.14 75.51 332.1 76.88M321.39 71.85Q326.7 73.81 331.27 72.77M321.83 68.06Q327.88 68.81 332.93 69.6M322.72 63.06Q329.1 65.09 334.77 65.77M333.07 44.11Q336.56 47.63 339 50.77M338.83 40.41Q340.51 47.42 344.25 52.39" stroke="#141414" stroke-width="1.1" stroke-linecap="round" fill="none"/>
<path d="M327.26 107.53Q334.03 105.26 338.72 101.29M321.46 88.02Q323.85 87.91 325.2 87.57" stroke="#141414" stroke-width="1.4" stroke-linecap="round" fill="none"/>
</g>
<path d="M342 64C344.17 61.67 349.33 61.67 352 62C354.67 62.33 356 66 358 66C360 66 361.33 62.33 364 62C366.67 61.67 371.83 61.67 374 64C376.17 66.33 377 71.83 377 76C377 80.17 376.17 86.33 374 89C371.83 91.67 366.67 91.83 364 92C361.33 92.17 360 90 358 90C356 90 354.67 92.17 352 92C349.33 91.83 344.17 91.67 342 89C339.83 86.33 339 80.17 339 76C339 71.83 339.83 66.33 342 64Z" fill="#a6a6a6" opacity="0.8" filter="url(#sb2)"/>
<path d="M358 38.5V74" stroke="#111" stroke-width="1.3"/>
<path d="M354.5 64Q357 74 356 84M361.5 64Q359 74 360 84" stroke="#2a2a2a" stroke-width="1.2" fill="none"/>
<path d="M347 93C349 91.08 354.33 91.5 358 91.5C361.67 91.5 367 91.08 369 93C371 94.92 370.5 99.83 370 103C369.5 106.17 368 110 366 112C364 114 360.67 115 358 115C355.33 115 352 114 350 112C348 110 346.5 106.17 346 103C345.5 99.83 345 94.92 347 93Z" fill="#5a5a5a" filter="url(#sb)"/>
<path d="M348 95Q358 98 368 95M348 98.3Q358 101.3 368 98.3M348 101.6Q358 104.6 368 101.6M348 104.9Q358 107.9 368 104.9M348 108.2Q358 111.2 368 108.2" stroke="#151515" stroke-width="1.2" fill="none"/>
<path d="M358 92V114" stroke="#222" stroke-width="1.2"/>
<clipPath id="cl15"><path d="M410 77C409.33 73 410.83 67.33 413 63C415.17 58.67 418.67 53.92 423 51C427.33 48.08 433.17 46.67 439 45.5C444.83 44.33 451.83 43.92 458 44C464.17 44.08 470.5 44.58 476 46C481.5 47.42 486.83 49.67 491 52.5C495.17 55.33 498.67 59.25 501 63C503.33 66.75 504.67 71.33 505 75C505.33 78.67 504.5 82.5 503 85C501.5 87.5 499.17 89.17 496 90C492.83 90.83 488.33 90.5 484 90C479.67 89.5 474.67 87.83 470 87C465.33 86.17 460.33 85 456 85C451.67 85 448.33 86.33 444 87C439.67 87.67 434.5 89 430 89C425.5 89 420.33 89 417 87C413.67 85 410.67 81 410 77Z"/></clipPath>
<g clip-path="url(#cl15)">
<path d="M410 77C409.33 73 410.83 67.33 413 63C415.17 58.67 418.67 53.92 423 51C427.33 48.08 433.17 46.67 439 45.5C444.83 44.33 451.83 43.92 458 44C464.17 44.08 470.5 44.58 476 46C481.5 47.42 486.83 49.67 491 52.5C495.17 55.33 498.67 59.25 501 63C503.33 66.75 504.67 71.33 505 75C505.33 78.67 504.5 82.5 503 85C501.5 87.5 499.17 89.17 496 90C492.83 90.83 488.33 90.5 484 90C479.67 89.5 474.67 87.83 470 87C465.33 86.17 460.33 85 456 85C451.67 85 448.33 86.33 444 87C439.67 87.67 434.5 89 430 89C425.5 89 420.33 89 417 87C413.67 85 410.67 81 410 77Z" fill="#3a3a3a"/>
<path d="M413.37 76.41L412.72 75.06L414.01 73.46L416.19 72.04L417.41 70.51L417.45 68.59L417.72 66.7L418.97 65.37L420.23 64.15L420.39 62.16L419.9 59.49L420.31 57.27L422.11 56.27L424.22 55.87L425.69 54.99L426.81 53.83L428.53 53.55L430.74 54.44L432.79 54.99L434.4 53.89L435.94 51.83L437.81 50.54L439.96 50.38L441.8 50.06L443.56 48.7L445.45 47.37L447.57 47.66L449.78 49.35L451.91 50.61L453.94 50.43L455.95 49.83L457.92 50.18L460.01 51.05L462.12 50.84L464.32 49.19L466.56 47.71L468.66 47.91L470.53 49.22L472.38 50.03L474.33 50.01L476.24 50.55L477.76 52.5L479.04 54.72L480.71 55.58L482.95 55.1L485.14 54.86L486.71 55.75L488 56.87L490.04 57.37L492.49 57.59L494.17 58.82L494.46 61.28L494.31 63.81L494.99 65.46L496.31 66.56L497.05 68.12L496.85 70.07L497.05 71.77L498.74 73.04L500.96 74.31L501.87 75.92L501.11 77.84L500.17 79.51L500.04 81.17L499.83 82.61L498.36 83.13L496.39 82.47L495.27 82.09L494.63 83.25L493.92 84.81L492.58 85.3L490.85 84.98L488.89 85.34L486.64 86.65L484.32 87.39L482.61 86.31L481.06 84.17L479.28 82.8L477.1 82.58L474.84 82.22L472.73 80.88L470.65 79.6L468.42 79.85L465.89 81.35L463.44 82.29L461.24 81.72L459.06 80.68L456.75 80.63L454.26 81.31L451.76 81.2L449.13 79.9L446.66 78.86L444.74 79.43L442.99 81.05L441.06 82.08L438.87 82.17L436.79 82.59L434.96 84.22L433.16 85.97L431.22 86.1L429.24 84.57L427.06 83.2L424.98 83.07L423.07 83.24L421.64 82.35L421.05 80.91L420.53 80.53L418.63 81.05L416.26 81.13L414.95 79.91L414.8 78.12L414.51 76.67Z" fill="#484848" filter="url(#sb)"/>
<path d="M413.37 76.41L412.72 75.06L414.01 73.46L416.19 72.04L417.41 70.51L417.45 68.59L417.72 66.7L418.97 65.37L420.23 64.15L420.39 62.16L419.9 59.49L420.31 57.27L422.11 56.27L424.22 55.87L425.69 54.99L426.81 53.83L428.53 53.55L430.74 54.44L432.79 54.99L434.4 53.89L435.94 51.83L437.81 50.54L439.96 50.38L441.8 50.06L443.56 48.7L445.45 47.37L447.57 47.66L449.78 49.35L451.91 50.61L453.94 50.43L455.95 49.83L457.92 50.18L460.01 51.05L462.12 50.84L464.32 49.19L466.56 47.71L468.66 47.91L470.53 49.22L472.38 50.03L474.33 50.01L476.24 50.55L477.76 52.5L479.04 54.72L480.71 55.58L482.95 55.1L485.14 54.86L486.71 55.75L488 56.87L490.04 57.37L492.49 57.59L494.17 58.82L494.46 61.28L494.31 63.81L494.99 65.46L496.31 66.56L497.05 68.12L496.85 70.07L497.05 71.77L498.74 73.04L500.96 74.31L501.87 75.92L501.11 77.84L500.17 79.51L500.04 81.17L499.83 82.61L498.36 83.13L496.39 82.47L495.27 82.09L494.63 83.25L493.92 84.81L492.58 85.3L490.85 84.98L488.89 85.34L486.64 86.65L484.32 87.39L482.61 86.31L481.06 84.17L479.28 82.8L477.1 82.58L474.84 82.22L472.73 80.88L470.65 79.6L468.42 79.85L465.89 81.35L463.44 82.29L461.24 81.72L459.06 80.68L456.75 80.63L454.26 81.31L451.76 81.2L449.13 79.9L446.66 78.86L444.74 79.43L442.99 81.05L441.06 82.08L438.87 82.17L436.79 82.59L434.96 84.22L433.16 85.97L431.22 86.1L429.24 84.57L427.06 83.2L424.98 83.07L423.07 83.24L421.64 82.35L421.05 80.91L420.53 80.53L418.63 81.05L416.26 81.13L414.95 79.91L414.8 78.12L414.51 76.67Z" fill="none" stroke="#7a7a7a" stroke-width="1.2" opacity="0.85" filter="url(#sb)"/>
<path d="M410 77C409.33 73 410.83 67.33 413 63C415.17 58.67 418.67 53.92 423 51C427.33 48.08 433.17 46.67 439 45.5C444.83 44.33 451.83 43.92 458 44C464.17 44.08 470.5 44.58 476 46C481.5 47.42 486.83 49.67 491 52.5C495.17 55.33 498.67 59.25 501 63C503.33 66.75 504.67 71.33 505 75C505.33 78.67 504.5 82.5 503 85C501.5 87.5 499.17 89.17 496 90C492.83 90.83 488.33 90.5 484 90C479.67 89.5 474.67 87.83 470 87C465.33 86.17 460.33 85 456 85C451.67 85 448.33 86.33 444 87C439.67 87.67 434.5 89 430 89C425.5 89 420.33 89 417 87C413.67 85 410.67 81 410 77Z" fill="#fff" filter="url(#brnD)" opacity="0.3"/>
<path d="M424 62.46Q422.81 58.97 419.04 58.82M421.04 59.2L416.98 59.86M421.02 59.19L420.76 56.54M453.33 48.02L450.63 45.57M453.22 48.38L455.36 46.3M460.04 49.4L463.06 46.7M463.43 52.89Q463.25 49.32 463.84 45.81M475.51 49.45L478.27 47.99M482.84 56.56Q482.5 53.58 485.13 52.07M483.75 53.19L486.37 52.4M492.38 68.34Q496.83 67.36 498.86 62.83M495.31 67.15L495.73 64.49M495.93 79.98Q499.35 80.88 502.14 83.18M498.94 83.96L501.91 83.74M492.09 82.12Q493.29 84.62 494.74 87.01M493.6 85.05L491.34 88.34M487.23 87.28L484.06 89.79M475.2 82.58L472.28 84.29M475.72 81.71L473.67 82.92M444.31 82.35L442.53 84.7M438.22 84.46L441.59 86.61M428.58 78.91Q428.1 82.8 431.24 86.45M416.02 81L415.39 85" stroke="#7a7a7a" stroke-width="0.8" stroke-linecap="round" fill="none"/>
<path d="M415.01 73.86L412.33 71.06M413.39 71.37L412.14 69.37M416.9 72.39L415.71 69.94M416.43 72.01L415.17 69.41M418.09 66.15Q416.82 64.86 415.28 64.13M416.8 64.29L416.32 61.85M416.79 64L416.05 60.22M420.74 60.15L417.37 60.38M421.06 60.99L417.65 61.23M428.66 53.6L430.07 49.98M429.85 53.21L427.21 51.91M429.96 52.83L426.36 51.04M445.63 51.51Q442.36 49.7 442.07 47.65M453.38 49.62Q452.65 48.08 454.54 46.54M460.79 54.23Q460.27 50.25 459.43 46.29M467.61 50.97L469.97 49.19M467.61 50.82L465.39 48.25M472.14 50.42L474.57 48.86M476.19 52.81Q474.66 49.82 476.3 47.72M486.26 56.31L485.61 54.01M487.14 55.19L486.41 52.64M493.63 60.99L497.61 61.49M500.7 70.7L503.18 72.4M499.31 77.39L501.67 80.35M500.49 77.52L503.3 74.96M498.97 82.06Q498.51 84.7 499.96 85.1M485.69 85.86Q487.7 87.14 487.26 88.06M483.84 83.04L480.87 84.92M483.9 82.97L481.08 84.76M466.9 82.38L464.84 83.7M460.84 81.25L462.81 83.67M460.57 82.7L462.15 84.65M458.27 80.93L455.93 83.02M443.91 79.1Q445.55 81.11 443.44 83.73M421.66 82.21L418.9 83.74M417.24 83.29L413.64 83.49M417.2 83.33L417.52 85.96" stroke="#7a7a7a" stroke-width="1.2" stroke-linecap="round" fill="none"/>
<path d="M418.99 72.8Q415.21 73.65 411.47 75.08M422.66 62.31Q419.94 61.36 420.78 56.8M429.97 54.66Q429.14 52.81 431.96 50.16M440.44 54.5Q438.42 51.58 436.66 48.69M449.19 53.92Q448.66 50.36 451.74 46.76M483.92 58.29Q486.85 56.36 488.1 53.44M489.63 61.59Q492.78 60.97 496.03 60.81M499.37 70.92Q500.12 69.13 501.77 72.37M491.58 86.65L488.58 89.53M477.84 84.48L480.01 87.82M476.74 79.41Q475.79 82.28 473.47 84.75M466.32 81.15Q467.89 82.53 465.55 83.19M443.69 76.79Q445.3 80.63 447.86 84.19M435.44 79.56Q437.84 82.89 438.94 86.42M421.7 80.21Q421.86 82.81 420.94 85.14M419.16 81.32Q417.6 82.63 416.49 84.31M421.29 80.28Q417.78 80.91 414.19 81.14" stroke="#7a7a7a" stroke-width="1.6" stroke-linecap="round" fill="none"/>
<path d="M415.19 73.54Q413.99 70.91 412.28 71.26M419.58 73.83Q416.18 72.71 413.79 68.76M417.5 64.38Q416.06 65.12 417.54 61.79M426.33 53.85Q426.55 52.02 423.4 52.77M429.73 57.14Q429.67 53.98 427.16 52.01M444.31 51.81Q444.63 49.63 446.16 47.46M467.45 53.96Q467.78 50.08 467.44 46.13M471.58 53.09Q472.41 50.53 472.14 47.77M474.15 54.98Q474.95 51.11 480.4 49.04M496.44 77.59Q499.38 77.03 502.2 77.92M486.36 80.81Q482.75 83.42 481.94 86.4M462.26 79.64Q459.74 81.55 460.94 83.94M459.51 78.96Q459.75 80.5 456.73 81.68" stroke="#7a7a7a" stroke-width="2.0" stroke-linecap="round" fill="none"/>
<path d="M490.86 83.88Q491.84 85.78 491.48 87.7M480.42 83.03Q477.5 84.12 477.11 85.61M448.09 77.41Q451.66 79.64 451.91 82.18" stroke="#7a7a7a" stroke-width="2.4" stroke-linecap="round" fill="none"/>
<path d="M410.86 65.37Q415.78 66.23 419.06 68.55M413.09 60.71Q414.93 61.78 415.91 62.33M416.89 55.26Q419.87 59.37 423.66 60.97M419.5 52.51Q421.39 54.8 422.85 56.14M423.61 49.44Q426.31 50.84 425.71 53.03M438.07 44.67Q438.24 49.61 439.82 53.25M443.61 43.75Q444.99 47.87 444.56 51.22M469.92 43.81Q468.49 49.05 468.59 53.49M474.19 44.55Q474.89 48.34 472.92 50.54M489.23 50.21Q488.27 52.18 487.54 53.13M492.2 52.12Q489.45 54.79 488.38 57.44M496.35 55.63Q493.41 60.29 489.5 62.59M500.71 88.94Q498.43 83.89 494.98 80.92M494.33 91.33Q492.53 86.37 493.16 82.1M488.53 91.42Q487.72 89.04 488.74 87.77M484.66 91.08Q484.88 89.02 485 87.96M470.51 88.11Q471.59 85.56 471.36 83.78M466.27 87.32Q467.15 84.98 467 83.45M462.01 86.56Q463.61 84.36 462.61 82.76M451.21 86.52Q451.46 84.41 450.62 83.52M445.68 87.72Q446.32 85.03 444.92 83.73M437.96 89.11Q435.9 85.24 436.66 81.88M417.78 88.51Q419.08 83.39 421.5 79.85M412.94 84.89Q417.05 81.55 420.06 78.48" stroke="#0c0c0c" stroke-width="0.8" stroke-linecap="round" fill="none"/>
<path d="M408.89 73.67Q414.14 75.21 418.56 74.33M409.65 69.14Q413.43 70.34 416.35 70.85M415.49 57.03Q420.23 59.42 423.1 62.66M447.21 43.37Q445.95 48.23 447.93 51.81M453.04 43.04Q454.03 48.51 453.34 53.03M456.62 42.99Q457.17 47.74 456.61 51.49M466.24 43.4Q465.64 47.4 465.61 50.45M478.43 45.64Q476.29 49.4 476.3 52.76M484.06 47.66Q481.88 50.76 481.57 53.56M500.69 60.73Q497.19 63.16 494.55 65.08M504.46 68.01Q500.57 71.03 496.59 70.76M505.93 74.27Q503.14 72.8 501.74 74.74M505.67 80.64Q500.76 78.6 496.42 78.75M503.85 85.52Q500.98 83.56 498.78 82.43M479.73 90.27Q480.87 85.32 481.68 81.34M474.74 89.07Q474.89 85.71 476.07 83.64M459.25 86.19Q458.63 83.91 459.61 82.8M454.58 86.05Q454.67 83.14 454.26 81.27M442.18 88.32Q441.06 85.86 441.43 84.14M432.14 89.91Q433.18 84.67 431.45 80.63M428.47 90Q427.02 86.3 428.52 83.62M423.74 89.82Q422.72 85.37 424.41 82.16M410.24 80.92Q414.42 77.8 418.55 76.87" stroke="#0c0c0c" stroke-width="1.1" stroke-linecap="round" fill="none"/>
<path d="M427.41 47.61Q430.26 52.07 430.89 56.34M432.25 46.02Q431.62 48.64 433.23 49.61M461.76 43.1Q460.8 45.57 461.58 47.12M502.25 63.13Q499.84 63.6 499.1 64.95M497.09 90.72Q495.85 87.17 495.05 84.52" stroke="#0c0c0c" stroke-width="1.4" stroke-linecap="round" fill="none"/>
</g>
<clipPath id="cl16"><path d="M410 77C409.33 73 410.83 67.33 413 63C415.17 58.67 418.67 53.92 423 51C427.33 48.08 433.17 46.67 439 45.5C444.83 44.33 451.83 43.92 458 44C464.17 44.08 470.5 44.58 476 46C481.5 47.42 486.83 49.67 491 52.5C495.17 55.33 498.67 59.25 501 63C503.33 66.75 504.67 71.33 505 75C505.33 78.67 504.5 82.5 503 85C501.5 87.5 499.17 89.17 496 90C492.83 90.83 488.33 90.5 484 90C479.67 89.5 474.67 87.83 470 87C465.33 86.17 460.33 85 456 85C451.67 85 448.33 86.33 444 87C439.67 87.67 434.5 89 430 89C425.5 89 420.33 89 417 87C413.67 85 410.67 81 410 77Z"/></clipPath>
<g clip-path="url(#cl16)"><ellipse cx="424" cy="74" rx="15" ry="18" fill="#9a9a9a" opacity="0.4" filter="url(#sb2)"/></g>
<path d="M453 72Q468 66 483 73L483 79Q468 82 455 81Z" fill="#1c1c1c" filter="url(#sb)"/>
<path d="M448 77Q448.5 67 457 64.8Q476 61.5 486.5 71.5Q489 80 477 81.5" stroke="#d0d0d0" stroke-width="2.3" fill="none" stroke-linecap="round"/>
<path d="M456 70Q470 66 480 72" stroke="#9a9a9a" stroke-width="1.2" fill="none"/>
<clipPath id="cl17"><path d="M420 90C422 88.08 426.33 86.83 430 86.5C433.67 86.17 439.33 86.42 442 88C444.67 89.58 445.83 93.17 446 96C446.17 98.83 445 102.83 443 105C441 107.17 437.17 108.83 434 109C430.83 109.17 426.67 107.83 424 106C421.33 104.17 418.67 100.67 418 98C417.33 95.33 418 91.92 420 90Z"/></clipPath>
<g clip-path="url(#cl17)">
<path d="M420 90C422 88.08 426.33 86.83 430 86.5C433.67 86.17 439.33 86.42 442 88C444.67 89.58 445.83 93.17 446 96C446.17 98.83 445 102.83 443 105C441 107.17 437.17 108.83 434 109C430.83 109.17 426.67 107.83 424 106C421.33 104.17 418.67 100.67 418 98C417.33 95.33 418 91.92 420 90Z" fill="#505050"/>
<path d="M422.99 92.93L423.73 92.81L424.79 91.7L426.41 90.7L428.4 90.44L430.37 90.33L432.18 89.55L434.33 88.45L436.58 88.2L438.51 89.18L439.79 90.43L440.56 91.03L441.6 91.88L442.03 93.45L441.59 95.27L441.26 96.63L441.76 98.11L442.39 100.14L442.09 102.04L440.98 103.17L439.83 104L438.57 105.35L436.93 106.48L434.97 106.41L433.35 105.33L431.84 104.45L430.02 104.29L428.06 104.12L426.52 103.26L425.47 102.09L423.96 101.08L421.9 100.25L420.22 99.05L419.91 97.55L420.57 95.76L421.2 94.21L421.59 92.81Z" fill="#6a6a6a" filter="url(#sb)"/>
<path d="M422.99 92.93L423.73 92.81L424.79 91.7L426.41 90.7L428.4 90.44L430.37 90.33L432.18 89.55L434.33 88.45L436.58 88.2L438.51 89.18L439.79 90.43L440.56 91.03L441.6 91.88L442.03 93.45L441.59 95.27L441.26 96.63L441.76 98.11L442.39 100.14L442.09 102.04L440.98 103.17L439.83 104L438.57 105.35L436.93 106.48L434.97 106.41L433.35 105.33L431.84 104.45L430.02 104.29L428.06 104.12L426.52 103.26L425.47 102.09L423.96 101.08L421.9 100.25L420.22 99.05L419.91 97.55L420.57 95.76L421.2 94.21L421.59 92.81Z" fill="none" stroke="#9a9a9a" stroke-width="2.2" opacity="0.85" filter="url(#sb)"/>
<path d="M424.85 91.7L422.57 90.6M429.79 91L427 88.5M437.02 90.94L438.77 89.57M437.99 90.19L435.86 87.09M439.58 92.14L438.16 88.29M439.81 91.79L443.11 90.81M441.15 93.83L443.73 94.67M442.05 100.69L444.64 99.51M441.06 101.59L444.21 100.83M438.98 102.56Q439.8 103.28 439 104.83M439.37 103.26L441.65 103.81M433.71 101.62Q435.55 104.45 433.92 107.45M434.69 104.6L432.45 106.92" stroke="#9a9a9a" stroke-width="0.8" stroke-linecap="round" fill="none"/>
<path d="M421.88 92.43L418.16 91.85M428.16 90.21L425.73 88.43M436.43 91.6Q437.9 90.81 435.7 89.74M438.55 91.35Q437.5 90.24 438.42 89.58M437.5 93.97Q440.17 92.43 440.5 89.72M439.48 96.01Q441.92 97.17 444.42 97.26M439.88 100.65Q440.94 101.11 441.49 102.32M437.77 104.28L441.36 105.73M427.27 103.98L428.68 107.32M426.05 103.94L426.87 107.72M426.23 103.91L422.31 104.5M422.6 98.26L421.88 101.13" stroke="#9a9a9a" stroke-width="1.2" stroke-linecap="round" fill="none"/>
<path d="M424.94 93.63Q424.28 92.17 425.57 90.21M429.92 93.18Q428.62 90.92 432.16 88.67M439.5 94.28Q441.37 94.6 441.81 92.35M441.81 101.49Q442.18 100.56 441.99 100.66M426.13 103.15Q426.82 104.21 425.48 103.86M424.82 101.18L421.88 101.04" stroke="#9a9a9a" stroke-width="1.6" stroke-linecap="round" fill="none"/>
<path d="M422.16 91.97Q420.97 92.97 422.77 92M427.64 93.08Q426.45 91.22 429.56 89.01M439.55 94.07Q441.94 95.71 443.83 94.88M438.07 101.34Q438.03 103.57 437.41 105.88M427.91 104.15Q426.56 103.71 427.91 104.45M427.24 100.43Q425 100.64 423.93 101.98M425.58 96.37Q423.43 97.63 421.41 99.09" stroke="#9a9a9a" stroke-width="2.0" stroke-linecap="round" fill="none"/>
<path d="M421.59 87.72Q422.94 91.28 424.57 93.56M431.32 85.41Q432.6 87.99 431.52 89.68M441.31 86.56Q441.59 89.47 439.77 90.48M446.17 91.92Q444.14 93.65 442.41 93.31M447 95.95Q443.79 94.74 441.72 96.23M437.09 109.48Q435.86 107.67 436.24 106.45M431.73 109.9Q432.74 107.3 432.27 105.52M426.95 108.66Q426.72 105.72 428.53 104.66M422.21 105.88Q424.96 104.09 425.66 101.86M416.94 93.92Q419.39 94.19 420.78 94.66" stroke="#141414" stroke-width="0.8" stroke-linecap="round" fill="none"/>
<path d="M425.99 86.16Q427.65 89.36 427.41 92M433.64 85.38Q434.46 88.32 433.56 90.24M438.45 85.8Q439.37 88.95 437.59 90.6M443.91 88.23Q442.74 90.46 441.23 90.96M446.6 99.85Q443.38 99.36 441.26 98.57M445.12 103.73Q441.43 101.71 438.66 100.11M443.74 105.67Q442.14 102.5 439.57 101.9M439.34 108.66Q436.85 106.03 436.98 103.33M424.07 107.24Q425.08 105.22 425.9 104.26M419.96 103.56Q423.14 102.42 424.1 100.16M417.48 99.57Q420.97 99.68 422.42 97.51" stroke="#141414" stroke-width="1.1" stroke-linecap="round" fill="none"/>
</g>
<path d="M447 86L458 86Q460 96 459 104Q459 112 455 116L449 116Q446 108 446.5 98Z" fill="#8a8a8a"/>
<path d="M449 92Q452 100 450 110" stroke="#c4c4c4" stroke-width="1.2" fill="none"/>
</g>
<rect x="397.3" y="83" width="120.5" height="11.2" fill="#1414ec" fill-opacity="0.86"/>
<rect x="397.3" y="88.2" width="120.5" height="1.3" fill="#0c0c9a" fill-opacity="0.7"/>
<path d="M420 86.5h30M470 86.5h40M405 92.2h25M440 92.2h15M470 92.2h30" stroke="#6a6aff" stroke-width="0.6" opacity="0.8"/>
<circle cx="16.8" cy="74.2" r="2.4" fill="url(#rb)"/>
<circle cx="13" cy="90" r="3" fill="url(#rb)"/>
<circle cx="29.6" cy="91" r="3.8" fill="url(#rb)"/>
<circle cx="77.3" cy="74.7" r="2.4" fill="url(#rb)"/>
<circle cx="74.7" cy="90.5" r="3" fill="url(#rb)"/>
<circle cx="92.3" cy="91.4" r="3.8" fill="url(#rb)"/>
<circle cx="104.3" cy="45.5" r="2.2" fill="url(#rb)"/>
<circle cx="279.5" cy="60.6" r="2.6" fill="url(#rb)"/>
<circle cx="342.8" cy="58.9" r="3" fill="url(#rb)"/>
<circle cx="236" cy="42" r="1.4" fill="url(#rb)"/>
<circle cx="176.8" cy="41.8" r="1.2" fill="url(#rb)"/>
<path d="M352 99.5q4 -2 8 0M353 101.5q3 1 6 0" stroke="#c01818" stroke-width="0.9" fill="none"/>
<text x="42.3" y="34.6" font-size="7" font-weight="bold" text-anchor="middle" fill="#2020b0" opacity="0.75" filter="url(#sb2)">-28</text>
<text x="104.5" y="34.6" font-size="7" font-weight="bold" text-anchor="middle" fill="#2020b0" opacity="0.75" filter="url(#sb2)">-22</text>
<text x="167.8" y="34.8" font-size="7" font-weight="bold" text-anchor="middle" fill="#2020b0" opacity="0.75" filter="url(#sb2)">-16</text>
<text x="231" y="34.8" font-size="7" font-weight="bold" text-anchor="middle" fill="#2020b0" opacity="0.75" filter="url(#sb2)">-16</text>
<text x="294.2" y="34.6" font-size="7" font-weight="bold" text-anchor="middle" fill="#2020b0" opacity="0.75" filter="url(#sb2)">10</text>
<text x="356.6" y="34.6" font-size="7" font-weight="bold" text-anchor="middle" fill="#2020b0" opacity="0.75" filter="url(#sb2)">6</text>
<path d="M43.5 54.5Q32.25 62 24.49 67.17" stroke="#e24848" stroke-width="1.8" fill="none"/>
<path d="M21 69.5L23.05 65.01L25.94 69.33Z" fill="#e24848"/>
<path d="M53 54.5Q63.4 63.75 70.66 70.21" stroke="#e24848" stroke-width="1.8" fill="none"/>
<path d="M73.8 73L68.93 72.15L72.39 68.27Z" fill="#e24848"/>
<path d="M192.8 35.6Q184 36.2 180.07 39.37" stroke="#e24848" stroke-width="1.8" fill="none"/>
<path d="M176.8 42L178.44 37.34L181.7 41.39Z" fill="#e24848"/>
<path d="M218 35.6Q228 36.2 232.51 39.79" stroke="#e24848" stroke-width="1.8" fill="none"/>
<path d="M235.8 42.4L230.89 41.82L234.13 37.75Z" fill="#e24848"/>
<path d="M314 38.8Q300.9 48.2 291.21 55.15" stroke="#e24848" stroke-width="1.8" fill="none"/>
<path d="M287.8 57.6L289.7 53.04L292.73 57.26Z" fill="#e24848"/>
<path d="M317.8 38.8Q329.4 47.8 337.68 54.23" stroke="#e24848" stroke-width="1.8" fill="none"/>
<path d="M341 56.8L336.09 56.28L339.28 52.17Z" fill="#e24848"/>
<text x="8.1" y="49.8" font-size="10" font-weight="bold" fill="#e2e23a">Parahippocampus</text>
<text x="195.3" y="37.2" font-size="10" font-weight="bold" fill="#e2e23a">OFC</text>
<text x="306.6" y="36.1" font-size="10" font-weight="bold" fill="#e2e23a">Insula</text>
<g filter="url(#soft)" class="c">
<text x="6" y="10.6" font-size="12.6" font-weight="bold" fill="#000">A</text><text x="6" y="165.2" font-size="12.6" font-weight="bold" fill="#000">B</text><text x="6" y="284.5" font-size="12.6" font-weight="bold" fill="#000">C</text><text x="6" y="429.4" font-size="12.6" font-weight="bold" fill="#000">D</text>
<path d="M51.3 171.9V247.7H164.3" stroke="#222" stroke-width="1.1" fill="none"/>
<path d="M49.1 247.7H51.3" stroke="#222" stroke-width="1"/>
<text x="48.3" y="250" font-size="6.4" font-weight="normal" text-anchor="end" fill="#1a1a1a" stroke="#1a1a1a" stroke-width="0.12">0</text>
<path d="M49.1 222.43H51.3" stroke="#222" stroke-width="1"/>
<text x="48.3" y="224.73" font-size="6.4" font-weight="normal" text-anchor="end" fill="#1a1a1a" stroke="#1a1a1a" stroke-width="0.12">30</text>
<path d="M49.1 197.17H51.3" stroke="#222" stroke-width="1"/>
<text x="48.3" y="199.47" font-size="6.4" font-weight="normal" text-anchor="end" fill="#1a1a1a" stroke="#1a1a1a" stroke-width="0.12">60</text>
<path d="M49.1 171.9H51.3" stroke="#222" stroke-width="1"/>
<text x="48.3" y="174.2" font-size="6.4" font-weight="normal" text-anchor="end" fill="#1a1a1a" stroke="#1a1a1a" stroke-width="0.12">90</text>
<path d="M79.8 189.76V186.47M70.5 186.47H89.1" stroke="#2a2a2a" stroke-width="1.1"/>
<rect x="61.3" y="189.76" width="37" height="57.94" fill="#033354" stroke="#011a30" stroke-width="0.8"/>
<path d="M79.8 247.7v2" stroke="#222" stroke-width="1"/>
<path d="M136.6 184.62V179.82M127.3 179.82H145.9" stroke="#2a2a2a" stroke-width="1.1"/>
<rect x="118.1" y="184.62" width="37" height="63.08" fill="#860000" stroke="#5a0000" stroke-width="0.8"/>
<path d="M136.6 247.7v2" stroke="#222" stroke-width="1"/>
<circle cx="131.9" cy="175.8" r="1.45" fill="#111"/>
<circle cx="136.2" cy="175.8" r="1.45" fill="#111"/>
<circle cx="140.6" cy="175.8" r="1.45" fill="#111"/>
<text x="80.2" y="257.2" font-size="6.35" font-weight="normal" text-anchor="middle" fill="#222" >Normal weight</text>
<text x="136.5" y="257.2" font-size="6.35" font-weight="normal" text-anchor="middle" fill="#222" >Overweight/obesity</text>
<text x="108.2" y="162.5" font-size="7.2" font-weight="bold" text-anchor="middle" fill="#1a1a1a" >Insula (-26 24 -8)</text>
<text transform="translate(30.7,209.8) rotate(-90)" x="0" y="0" font-size="6.95" font-weight="bold" text-anchor="middle" fill="#1a1a1a" dominant-baseline="central">Normalized metabolism</text>
<path d="M223.3 171.8V247.8H335.5" stroke="#222" stroke-width="1.1" fill="none"/>
<path d="M221.1 247.8H223.3" stroke="#222" stroke-width="1"/>
<text x="220.3" y="250.1" font-size="6.4" font-weight="normal" text-anchor="end" fill="#1a1a1a" stroke="#1a1a1a" stroke-width="0.12">0</text>
<path d="M221.1 232.6H223.3" stroke="#222" stroke-width="1"/>
<text x="220.3" y="234.9" font-size="6.4" font-weight="normal" text-anchor="end" fill="#1a1a1a" stroke="#1a1a1a" stroke-width="0.12">20</text>
<path d="M221.1 217.4H223.3" stroke="#222" stroke-width="1"/>
<text x="220.3" y="219.7" font-size="6.4" font-weight="normal" text-anchor="end" fill="#1a1a1a" stroke="#1a1a1a" stroke-width="0.12">40</text>
<path d="M221.1 202.2H223.3" stroke="#222" stroke-width="1"/>
<text x="220.3" y="204.5" font-size="6.4" font-weight="normal" text-anchor="end" fill="#1a1a1a" stroke="#1a1a1a" stroke-width="0.12">60</text>
<path d="M221.1 187H223.3" stroke="#222" stroke-width="1"/>
<text x="220.3" y="189.3" font-size="6.4" font-weight="normal" text-anchor="end" fill="#1a1a1a" stroke="#1a1a1a" stroke-width="0.12">80</text>
<path d="M221.1 171.8H223.3" stroke="#222" stroke-width="1"/>
<text x="220.3" y="174.1" font-size="6.4" font-weight="normal" text-anchor="end" fill="#1a1a1a" stroke="#1a1a1a" stroke-width="0.12">100</text>
<path d="M251.8 188.6V183.5M242.5 183.5H261.1" stroke="#2a2a2a" stroke-width="1.1"/>
<rect x="233.3" y="188.6" width="37" height="59.2" fill="#033354" stroke="#011a30" stroke-width="0.8"/>
<path d="M251.8 247.8v2" stroke="#222" stroke-width="1"/>
<path d="M308.6 182.97V178.18M299.3 178.18H317.9" stroke="#2a2a2a" stroke-width="1.1"/>
<rect x="290.1" y="182.97" width="37" height="64.83" fill="#860000" stroke="#5a0000" stroke-width="0.8"/>
<path d="M308.6 247.8v2" stroke="#222" stroke-width="1"/>
<circle cx="306.2" cy="174.4" r="1.45" fill="#111"/>
<circle cx="310.5" cy="174.4" r="1.45" fill="#111"/>
<text x="252.2" y="257.2" font-size="6.35" font-weight="normal" text-anchor="middle" fill="#222" >Normal weight</text>
<text x="308.5" y="257.2" font-size="6.35" font-weight="normal" text-anchor="middle" fill="#222" >Overweight/obesity</text>
<text x="280.2" y="162.5" font-size="7.2" font-weight="bold" text-anchor="middle" fill="#1a1a1a" >OFC (16 62 -16)</text>
<text transform="translate(200.3,209.8) rotate(-90)" x="0" y="0" font-size="6.95" font-weight="bold" text-anchor="middle" fill="#1a1a1a" dominant-baseline="central">Normalized metabolism</text>
<path d="M388.1 171.9V247.7H500.5" stroke="#222" stroke-width="1.1" fill="none"/>
<path d="M385.9 247.7H388.1" stroke="#222" stroke-width="1"/>
<text x="385.1" y="250" font-size="6.4" font-weight="normal" text-anchor="end" fill="#1a1a1a" stroke="#1a1a1a" stroke-width="0.12">0</text>
<path d="M385.9 228.75H388.1" stroke="#222" stroke-width="1"/>
<text x="385.1" y="231.05" font-size="6.4" font-weight="normal" text-anchor="end" fill="#1a1a1a" stroke="#1a1a1a" stroke-width="0.12">20</text>
<path d="M385.9 209.8H388.1" stroke="#222" stroke-width="1"/>
<text x="385.1" y="212.1" font-size="6.4" font-weight="normal" text-anchor="end" fill="#1a1a1a" stroke="#1a1a1a" stroke-width="0.12">40</text>
<path d="M385.9 190.85H388.1" stroke="#222" stroke-width="1"/>
<text x="385.1" y="193.15" font-size="6.4" font-weight="normal" text-anchor="end" fill="#1a1a1a" stroke="#1a1a1a" stroke-width="0.12">60</text>
<path d="M385.9 171.9H388.1" stroke="#222" stroke-width="1"/>
<text x="385.1" y="174.2" font-size="6.4" font-weight="normal" text-anchor="end" fill="#1a1a1a" stroke="#1a1a1a" stroke-width="0.12">80</text>
<path d="M416.6 192.65V187.82M407.3 187.82H425.9" stroke="#2a2a2a" stroke-width="1.1"/>
<rect x="398.1" y="192.65" width="37" height="55.05" fill="#033354" stroke="#011a30" stroke-width="0.8"/>
<path d="M416.6 247.7v2" stroke="#222" stroke-width="1"/>
<path d="M473.4 187.91V184.03M464.1 184.03H482.7" stroke="#2a2a2a" stroke-width="1.1"/>
<rect x="454.9" y="187.91" width="37" height="59.79" fill="#860000" stroke="#5a0000" stroke-width="0.8"/>
<path d="M473.4 247.7v2" stroke="#222" stroke-width="1"/>
<circle cx="471.2" cy="179.6" r="1.45" fill="#111"/>
<circle cx="475.5" cy="179.6" r="1.45" fill="#111"/>
<text x="417" y="257.2" font-size="6.35" font-weight="normal" text-anchor="middle" fill="#222" >Normal weight</text>
<text x="473.3" y="257.2" font-size="6.35" font-weight="normal" text-anchor="middle" fill="#222" >Overweight/obesity</text>
<text x="445" y="162.5" font-size="7.2" font-weight="bold" text-anchor="middle" fill="#1a1a1a" >Parahippocampus (-26 -2 -34)</text>
<text transform="translate(368.4,209.8) rotate(-90)" x="0" y="0" font-size="6.95" font-weight="bold" text-anchor="middle" fill="#1a1a1a" dominant-baseline="central">Normalized metabolism</text>
<path d="M51.5 301.4V377H165.5" stroke="#222" stroke-width="1.1" fill="none"/>
<path d="M49.3 377H51.5" stroke="#222" stroke-width="1"/>
<text x="48.5" y="379.3" font-size="6.4" font-weight="normal" text-anchor="end" fill="#1a1a1a" stroke="#1a1a1a" stroke-width="0.12">60</text>
<path d="M49.3 361.88H51.5" stroke="#222" stroke-width="1"/>
<text x="48.5" y="364.18" font-size="6.4" font-weight="normal" text-anchor="end" fill="#1a1a1a" stroke="#1a1a1a" stroke-width="0.12">65</text>
<path d="M49.3 346.76H51.5" stroke="#222" stroke-width="1"/>
<text x="48.5" y="349.06" font-size="6.4" font-weight="normal" text-anchor="end" fill="#1a1a1a" stroke="#1a1a1a" stroke-width="0.12">70</text>
<path d="M49.3 331.64H51.5" stroke="#222" stroke-width="1"/>
<text x="48.5" y="333.94" font-size="6.4" font-weight="normal" text-anchor="end" fill="#1a1a1a" stroke="#1a1a1a" stroke-width="0.12">75</text>
<path d="M49.3 316.52H51.5" stroke="#222" stroke-width="1"/>
<text x="48.5" y="318.82" font-size="6.4" font-weight="normal" text-anchor="end" fill="#1a1a1a" stroke="#1a1a1a" stroke-width="0.12">80</text>
<path d="M49.3 301.4H51.5" stroke="#222" stroke-width="1"/>
<text x="48.5" y="303.7" font-size="6.4" font-weight="normal" text-anchor="end" fill="#1a1a1a" stroke="#1a1a1a" stroke-width="0.12">85</text>
<path d="M51.5 377v1.8" stroke="#222" stroke-width="1"/>
<text x="51.5" y="385.8" font-size="6.4" font-weight="normal" text-anchor="middle" fill="#1a1a1a" stroke="#1a1a1a" stroke-width="0.12">4</text>
<path d="M76.65 377v1.8" stroke="#222" stroke-width="1"/>
<text x="76.65" y="385.8" font-size="6.4" font-weight="normal" text-anchor="middle" fill="#1a1a1a" stroke="#1a1a1a" stroke-width="0.12">8</text>
<path d="M101.8 377v1.8" stroke="#222" stroke-width="1"/>
<text x="101.8" y="385.8" font-size="6.4" font-weight="normal" text-anchor="middle" fill="#1a1a1a" stroke="#1a1a1a" stroke-width="0.12">12</text>
<path d="M126.95 377v1.8" stroke="#222" stroke-width="1"/>
<text x="126.95" y="385.8" font-size="6.4" font-weight="normal" text-anchor="middle" fill="#1a1a1a" stroke="#1a1a1a" stroke-width="0.12">16</text>
<path d="M152.1 377v1.8" stroke="#222" stroke-width="1"/>
<text x="152.1" y="385.8" font-size="6.4" font-weight="normal" text-anchor="middle" fill="#1a1a1a" stroke="#1a1a1a" stroke-width="0.12">20</text>
<path d="M56.2 339.3L58.2 339.2L60.2 339.09L62.2 338.98L64.2 338.87L66.2 338.75L68.2 338.62L70.2 338.49L72.2 338.35L74.2 338.2L76.2 338.04L78.2 337.88L80.2 337.7L82.2 337.51L84.2 337.31L86.2 337.09L88.2 336.86L90.2 336.61L92.2 336.34L94.2 336.05L96.2 335.74L98.2 335.4L100.2 335.04L102.2 334.65L104.2 334.24L106.2 333.79L108.2 333.32L110.2 332.83L112.2 332.32L114.2 331.78L116.2 331.22L118.2 330.65L120.2 330.05L122.2 329.44L124.2 328.81L126.2 328.16L128.2 327.5L130.2 326.83L132.2 326.15L134.2 325.46L136.2 324.76L138.2 324.04L140.2 323.33L142.2 322.6L144.2 321.87L146.2 321.13L148.2 320.39L150.2 319.64L152.2 318.88L154.2 318.13" stroke="#a04848" stroke-width="1.3" stroke-dasharray="1.2 2.2" fill="none"/>
<path d="M56.2 362.3L58.2 361.51L60.2 360.72L62.2 359.93L64.2 359.15L66.2 358.37L68.2 357.6L70.2 356.84L72.2 356.08L74.2 355.33L76.2 354.59L78.2 353.86L80.2 353.14L82.2 352.43L84.2 351.74L86.2 351.06L88.2 350.39L90.2 349.75L92.2 349.12L94.2 348.51L96.2 347.93L98.2 347.37L100.2 346.84L102.2 346.33L104.2 345.85L106.2 345.39L108.2 344.97L110.2 344.56L112.2 344.18L114.2 343.82L116.2 343.48L118.2 343.16L120.2 342.86L122.2 342.58L124.2 342.31L126.2 342.06L128.2 341.82L130.2 341.59L132.2 341.38L134.2 341.18L136.2 340.98L138.2 340.8L140.2 340.62L142.2 340.45L144.2 340.28L146.2 340.13L148.2 339.97L150.2 339.82L152.2 339.68L154.2 339.54" stroke="#a04848" stroke-width="1.3" stroke-dasharray="1.2 2.2" fill="none"/>
<path d="M56.2 350.8L154.8 328.7" stroke="#8e1414" stroke-width="1.7" fill="none"/>
<circle cx="56.2" cy="349.3" r="2.05" fill="#0b1220"/>
<circle cx="65.4" cy="363.1" r="2.05" fill="#0b1220"/>
<circle cx="70.4" cy="333.4" r="2.05" fill="#0b1220"/>
<circle cx="70.8" cy="336.7" r="2.05" fill="#0b1220"/>
<circle cx="76.7" cy="337.7" r="2.05" fill="#0b1220"/>
<circle cx="74.3" cy="351.7" r="2.05" fill="#0b1220"/>
<circle cx="76.7" cy="365.3" r="2.05" fill="#0b1220"/>
<circle cx="79.5" cy="331.9" r="2.05" fill="#0b1220"/>
<circle cx="80.6" cy="325.4" r="2.05" fill="#0b1220"/>
<circle cx="81.9" cy="352" r="2.05" fill="#0b1220"/>
<circle cx="86.8" cy="345.4" r="2.05" fill="#0b1220"/>
<circle cx="93" cy="329.8" r="2.05" fill="#0b1220"/>
<circle cx="99.7" cy="333.4" r="2.05" fill="#0b1220"/>
<circle cx="100.8" cy="341.2" r="2.05" fill="#0b1220"/>
<circle cx="110.2" cy="342.8" r="2.05" fill="#0b1220"/>
<circle cx="109.8" cy="364.3" r="2.05" fill="#0b1220"/>
<circle cx="115.4" cy="322.6" r="2.05" fill="#0b1220"/>
<circle cx="122.5" cy="330" r="2.05" fill="#0b1220"/>
<circle cx="119.1" cy="347.8" r="2.05" fill="#0b1220"/>
<circle cx="117.6" cy="367.1" r="2.05" fill="#0b1220"/>
<circle cx="128" cy="318.1" r="2.05" fill="#0b1220"/>
<circle cx="130.2" cy="323.8" r="2.05" fill="#0b1220"/>
<circle cx="127.3" cy="356.1" r="2.05" fill="#0b1220"/>
<circle cx="126.8" cy="364.6" r="2.05" fill="#0b1220"/>
<circle cx="137.4" cy="312.6" r="2.05" fill="#0b1220"/>
<circle cx="143.6" cy="314.4" r="2.05" fill="#0b1220"/>
<circle cx="143.3" cy="318.1" r="2.05" fill="#0b1220"/>
<circle cx="140.2" cy="327.9" r="2.05" fill="#0b1220"/>
<circle cx="146.9" cy="330.9" r="2.05" fill="#0b1220"/>
<circle cx="154.8" cy="325" r="2.05" fill="#0b1220"/>
<text x="57" y="303.3" font-size="7.25" font-weight="bold" fill="#1a1a1a"><tspan font-style="italic">r</tspan> = 0.38</text>
<text x="57" y="311.2" font-size="7.25" font-weight="bold" fill="#1a1a1a"><tspan font-style="italic">P</tspan> = 0.03</text>
<text x="101.6" y="298.5" font-size="6.8" font-weight="bold" text-anchor="start" fill="#1a1a1a" >Insula</text>
<text x="108.7" y="395" font-size="6.95" font-weight="bold" text-anchor="middle" fill="#1a1a1a" >Salt intake (g/day)</text>
<text transform="translate(30.75,339.5) rotate(-90)" x="0" y="0" font-size="6.95" font-weight="bold" text-anchor="middle" fill="#1a1a1a" dominant-baseline="central">Normalized metabolism</text>
<path d="M223.2 301.4V377H335.3" stroke="#222" stroke-width="1.1" fill="none"/>
<path d="M221 377H223.2" stroke="#222" stroke-width="1"/>
<text x="220.2" y="379.3" font-size="6.4" font-weight="normal" text-anchor="end" fill="#1a1a1a" stroke="#1a1a1a" stroke-width="0.12">60</text>
<path d="M221 361.88H223.2" stroke="#222" stroke-width="1"/>
<text x="220.2" y="364.18" font-size="6.4" font-weight="normal" text-anchor="end" fill="#1a1a1a" stroke="#1a1a1a" stroke-width="0.12">70</text>
<path d="M221 346.76H223.2" stroke="#222" stroke-width="1"/>
<text x="220.2" y="349.06" font-size="6.4" font-weight="normal" text-anchor="end" fill="#1a1a1a" stroke="#1a1a1a" stroke-width="0.12">80</text>
<path d="M221 331.64H223.2" stroke="#222" stroke-width="1"/>
<text x="220.2" y="333.94" font-size="6.4" font-weight="normal" text-anchor="end" fill="#1a1a1a" stroke="#1a1a1a" stroke-width="0.12">90</text>
<path d="M221 316.52H223.2" stroke="#222" stroke-width="1"/>
<text x="220.2" y="318.82" font-size="6.4" font-weight="normal" text-anchor="end" fill="#1a1a1a" stroke="#1a1a1a" stroke-width="0.12">100</text>
<path d="M221 301.4H223.2" stroke="#222" stroke-width="1"/>
<text x="220.2" y="303.7" font-size="6.4" font-weight="normal" text-anchor="end" fill="#1a1a1a" stroke="#1a1a1a" stroke-width="0.12">110</text>
<path d="M223.2 377v1.8" stroke="#222" stroke-width="1"/>
<text x="223.2" y="385.8" font-size="6.4" font-weight="normal" text-anchor="middle" fill="#1a1a1a" stroke="#1a1a1a" stroke-width="0.12">4</text>
<path d="M248.35 377v1.8" stroke="#222" stroke-width="1"/>
<text x="248.35" y="385.8" font-size="6.4" font-weight="normal" text-anchor="middle" fill="#1a1a1a" stroke="#1a1a1a" stroke-width="0.12">8</text>
<path d="M273.5 377v1.8" stroke="#222" stroke-width="1"/>
<text x="273.5" y="385.8" font-size="6.4" font-weight="normal" text-anchor="middle" fill="#1a1a1a" stroke="#1a1a1a" stroke-width="0.12">12</text>
<path d="M298.65 377v1.8" stroke="#222" stroke-width="1"/>
<text x="298.65" y="385.8" font-size="6.4" font-weight="normal" text-anchor="middle" fill="#1a1a1a" stroke="#1a1a1a" stroke-width="0.12">16</text>
<path d="M323.8 377v1.8" stroke="#222" stroke-width="1"/>
<text x="323.8" y="385.8" font-size="6.4" font-weight="normal" text-anchor="middle" fill="#1a1a1a" stroke="#1a1a1a" stroke-width="0.12">20</text>
<path d="M228.1 344.75L230.1 344.63L232.1 344.51L234.1 344.39L236.1 344.27L238.1 344.14L240.1 344.01L242.1 343.87L244.1 343.74L246.1 343.59L248.1 343.45L250.1 343.29L252.1 343.13L254.1 342.97L256.1 342.8L258.1 342.62L260.1 342.43L262.1 342.23L264.1 342.02L266.1 341.8L268.1 341.56L270.1 341.31L272.1 341.05L274.1 340.77L276.1 340.48L278.1 340.18L280.1 339.85L282.1 339.51L284.1 339.16L286.1 338.78L288.1 338.4L290.1 338L292.1 337.59L294.1 337.17L296.1 336.73L298.1 336.29L300.1 335.84L302.1 335.38L304.1 334.92L306.1 334.45L308.1 333.97L310.1 333.49L312.1 333L314.1 332.51L316.1 332.02L318.1 331.52L320.1 331.02L322.1 330.51L324.1 330.01L326.1 329.5" stroke="#a04848" stroke-width="1.3" stroke-dasharray="1.2 2.2" fill="none"/>
<path d="M228.1 357.45L230.1 356.95L232.1 356.45L234.1 355.96L236.1 355.46L238.1 354.97L240.1 354.48L242.1 354L244.1 353.52L246.1 353.05L248.1 352.58L250.1 352.11L252.1 351.65L254.1 351.2L256.1 350.75L258.1 350.32L260.1 349.89L262.1 349.47L264.1 349.06L266.1 348.67L268.1 348.28L270.1 347.91L272.1 347.56L274.1 347.21L276.1 346.89L278.1 346.58L280.1 346.28L282.1 346.01L284.1 345.74L286.1 345.5L288.1 345.26L290.1 345.05L292.1 344.84L294.1 344.64L296.1 344.46L298.1 344.28L300.1 344.11L302.1 343.96L304.1 343.8L306.1 343.66L308.1 343.52L310.1 343.38L312.1 343.25L314.1 343.12L316.1 343L318.1 342.88L320.1 342.76L322.1 342.64L324.1 342.53L326.1 342.42" stroke="#a04848" stroke-width="1.3" stroke-dasharray="1.2 2.2" fill="none"/>
<path d="M228.1 351.1L326.5 335.9" stroke="#8e1414" stroke-width="1.7" fill="none"/>
<circle cx="228.1" cy="347.9" r="2.05" fill="#0b1220"/>
<circle cx="237.1" cy="349.4" r="2.05" fill="#0b1220"/>
<circle cx="242.5" cy="346.8" r="2.05" fill="#0b1220"/>
<circle cx="243.1" cy="359.2" r="2.05" fill="#0b1220"/>
<circle cx="246.3" cy="330.4" r="2.05" fill="#0b1220"/>
<circle cx="248.8" cy="339.6" r="2.05" fill="#0b1220"/>
<circle cx="248.8" cy="347.7" r="2.05" fill="#0b1220"/>
<circle cx="251.2" cy="360.6" r="2.05" fill="#0b1220"/>
<circle cx="252.5" cy="336.7" r="2.05" fill="#0b1220"/>
<circle cx="253.5" cy="343.7" r="2.05" fill="#0b1220"/>
<circle cx="258.7" cy="344.2" r="2.05" fill="#0b1220"/>
<circle cx="259" cy="363.6" r="2.05" fill="#0b1220"/>
<circle cx="264.8" cy="337.3" r="2.05" fill="#0b1220"/>
<circle cx="271.7" cy="350.6" r="2.05" fill="#0b1220"/>
<circle cx="272.5" cy="342.5" r="2.05" fill="#0b1220"/>
<circle cx="281.4" cy="349.3" r="2.05" fill="#0b1220"/>
<circle cx="281.2" cy="350.7" r="2.05" fill="#0b1220"/>
<circle cx="287" cy="330.1" r="2.05" fill="#0b1220"/>
<circle cx="289.5" cy="349.6" r="2.05" fill="#0b1220"/>
<circle cx="291.2" cy="342" r="2.05" fill="#0b1220"/>
<circle cx="294.4" cy="335" r="2.05" fill="#0b1220"/>
<circle cx="299.3" cy="331.8" r="2.05" fill="#0b1220"/>
<circle cx="299.3" cy="339.2" r="2.05" fill="#0b1220"/>
<circle cx="298.6" cy="341" r="2.05" fill="#0b1220"/>
<circle cx="302.1" cy="348.5" r="2.05" fill="#0b1220"/>
<circle cx="299.3" cy="354.8" r="2.05" fill="#0b1220"/>
<circle cx="309" cy="337.1" r="2.05" fill="#0b1220"/>
<circle cx="311.6" cy="337.4" r="2.05" fill="#0b1220"/>
<circle cx="315.3" cy="342" r="2.05" fill="#0b1220"/>
<circle cx="318.8" cy="337.8" r="2.05" fill="#0b1220"/>
<circle cx="326.5" cy="313.4" r="2.05" fill="#0b1220"/>
<text x="228.7" y="303.3" font-size="7.25" font-weight="bold" fill="#1a1a1a"><tspan font-style="italic">r</tspan> = 0.44</text>
<text x="228.7" y="311.2" font-size="7.25" font-weight="bold" fill="#1a1a1a"><tspan font-style="italic">P</tspan> = 0.01</text>
<text x="274.3" y="298.5" font-size="6.8" font-weight="bold" text-anchor="start" fill="#1a1a1a" >OFC</text>
<text x="280.4" y="395" font-size="6.95" font-weight="bold" text-anchor="middle" fill="#1a1a1a" >Salt intake (g/day)</text>
<text transform="translate(200,339.5) rotate(-90)" x="0" y="0" font-size="6.95" font-weight="bold" text-anchor="middle" fill="#1a1a1a" dominant-baseline="central">Normalized metabolism</text>
<path d="M388.1 301.4V377H500.5" stroke="#222" stroke-width="1.1" fill="none"/>
<path d="M385.9 366.2H388.1" stroke="#222" stroke-width="1"/>
<text x="385.1" y="368.5" font-size="6.4" font-weight="normal" text-anchor="end" fill="#1a1a1a" stroke="#1a1a1a" stroke-width="0.12">50</text>
<path d="M385.9 344.6H388.1" stroke="#222" stroke-width="1"/>
<text x="385.1" y="346.9" font-size="6.4" font-weight="normal" text-anchor="end" fill="#1a1a1a" stroke="#1a1a1a" stroke-width="0.12">60</text>
<path d="M385.9 323H388.1" stroke="#222" stroke-width="1"/>
<text x="385.1" y="325.3" font-size="6.4" font-weight="normal" text-anchor="end" fill="#1a1a1a" stroke="#1a1a1a" stroke-width="0.12">70</text>
<path d="M385.9 301.4H388.1" stroke="#222" stroke-width="1"/>
<text x="385.1" y="303.7" font-size="6.4" font-weight="normal" text-anchor="end" fill="#1a1a1a" stroke="#1a1a1a" stroke-width="0.12">80</text>
<path d="M388.1 377v1.8" stroke="#222" stroke-width="1"/>
<text x="388.1" y="385.8" font-size="6.4" font-weight="normal" text-anchor="middle" fill="#1a1a1a" stroke="#1a1a1a" stroke-width="0.12">4</text>
<path d="M413.3 377v1.8" stroke="#222" stroke-width="1"/>
<text x="413.3" y="385.8" font-size="6.4" font-weight="normal" text-anchor="middle" fill="#1a1a1a" stroke="#1a1a1a" stroke-width="0.12">8</text>
<path d="M438.5 377v1.8" stroke="#222" stroke-width="1"/>
<text x="438.5" y="385.8" font-size="6.4" font-weight="normal" text-anchor="middle" fill="#1a1a1a" stroke="#1a1a1a" stroke-width="0.12">12</text>
<path d="M463.7 377v1.8" stroke="#222" stroke-width="1"/>
<text x="463.7" y="385.8" font-size="6.4" font-weight="normal" text-anchor="middle" fill="#1a1a1a" stroke="#1a1a1a" stroke-width="0.12">16</text>
<path d="M488.9 377v1.8" stroke="#222" stroke-width="1"/>
<text x="488.9" y="385.8" font-size="6.4" font-weight="normal" text-anchor="middle" fill="#1a1a1a" stroke="#1a1a1a" stroke-width="0.12">20</text>
<path d="M393.2 342.7L395.2 342.64L397.2 342.57L399.2 342.5L401.2 342.43L403.2 342.36L405.2 342.28L407.2 342.2L409.2 342.11L411.2 342.02L413.2 341.93L415.2 341.82L417.2 341.72L419.2 341.6L421.2 341.48L423.2 341.35L425.2 341.21L427.2 341.06L429.2 340.9L431.2 340.72L433.2 340.54L435.2 340.34L437.2 340.12L439.2 339.9L441.2 339.65L443.2 339.39L445.2 339.12L447.2 338.82L449.2 338.51L451.2 338.19L453.2 337.84L455.2 337.48L457.2 337.11L459.2 336.73L461.2 336.33L463.2 335.93L465.2 335.51L467.2 335.09L469.2 334.66L471.2 334.22L473.2 333.78L475.2 333.33L477.2 332.87L479.2 332.42L481.2 331.95L483.2 331.49L485.2 331.02L487.2 330.55L489.2 330.07L491.2 329.6" stroke="#a04848" stroke-width="1.3" stroke-dasharray="1.2 2.2" fill="none"/>
<path d="M393.2 356.1L395.2 355.64L397.2 355.19L399.2 354.74L401.2 354.29L403.2 353.84L405.2 353.4L407.2 352.96L409.2 352.53L411.2 352.1L413.2 351.67L415.2 351.25L417.2 350.84L419.2 350.43L421.2 350.04L423.2 349.65L425.2 349.27L427.2 348.9L429.2 348.54L431.2 348.19L433.2 347.86L435.2 347.54L437.2 347.23L439.2 346.94L441.2 346.66L443.2 346.4L445.2 346.15L447.2 345.93L449.2 345.72L451.2 345.53L453.2 345.35L455.2 345.19L457.2 345.04L459.2 344.9L461.2 344.78L463.2 344.66L465.2 344.56L467.2 344.46L469.2 344.37L471.2 344.29L473.2 344.21L475.2 344.14L477.2 344.07L479.2 344.01L481.2 343.95L483.2 343.9L485.2 343.85L487.2 343.8L489.2 343.75L491.2 343.71" stroke="#a04848" stroke-width="1.3" stroke-dasharray="1.2 2.2" fill="none"/>
<path d="M393.2 349.4L491.6 336.6" stroke="#8e1414" stroke-width="1.7" fill="none"/>
<circle cx="393.2" cy="353.6" r="2.05" fill="#0b1220"/>
<circle cx="402.1" cy="357.9" r="2.05" fill="#0b1220"/>
<circle cx="407.7" cy="342.5" r="2.05" fill="#0b1220"/>
<circle cx="408.2" cy="355.8" r="2.05" fill="#0b1220"/>
<circle cx="411.3" cy="353" r="2.05" fill="#0b1220"/>
<circle cx="413.7" cy="350.6" r="2.05" fill="#0b1220"/>
<circle cx="414" cy="332.9" r="2.05" fill="#0b1220"/>
<circle cx="416.4" cy="337" r="2.05" fill="#0b1220"/>
<circle cx="417.4" cy="324.4" r="2.05" fill="#0b1220"/>
<circle cx="418.8" cy="349.4" r="2.05" fill="#0b1220"/>
<circle cx="423.6" cy="346.4" r="2.05" fill="#0b1220"/>
<circle cx="423.6" cy="367.5" r="2.05" fill="#0b1220"/>
<circle cx="429.7" cy="334.9" r="2.05" fill="#0b1220"/>
<circle cx="436.7" cy="350" r="2.05" fill="#0b1220"/>
<circle cx="437.9" cy="337.3" r="2.05" fill="#0b1220"/>
<circle cx="446.7" cy="335.7" r="2.05" fill="#0b1220"/>
<circle cx="446.7" cy="342.1" r="2.05" fill="#0b1220"/>
<circle cx="452.6" cy="337.2" r="2.05" fill="#0b1220"/>
<circle cx="456.1" cy="346.4" r="2.05" fill="#0b1220"/>
<circle cx="454.4" cy="353.5" r="2.05" fill="#0b1220"/>
<circle cx="459.6" cy="343.4" r="2.05" fill="#0b1220"/>
<circle cx="463.5" cy="339.4" r="2.05" fill="#0b1220"/>
<circle cx="464.5" cy="346.9" r="2.05" fill="#0b1220"/>
<circle cx="464.5" cy="358" r="2.05" fill="#0b1220"/>
<circle cx="465" cy="324.5" r="2.05" fill="#0b1220"/>
<circle cx="467.1" cy="333" r="2.05" fill="#0b1220"/>
<circle cx="474.2" cy="333" r="2.05" fill="#0b1220"/>
<circle cx="476.9" cy="334.2" r="2.05" fill="#0b1220"/>
<circle cx="480.5" cy="329" r="2.05" fill="#0b1220"/>
<circle cx="480.5" cy="341.6" r="2.05" fill="#0b1220"/>
<circle cx="483.6" cy="348.8" r="2.05" fill="#0b1220"/>
<circle cx="491.6" cy="334.2" r="2.05" fill="#0b1220"/>
<text x="393.6" y="303.3" font-size="7.25" font-weight="bold" fill="#1a1a1a"><tspan font-style="italic">r</tspan> = 0.37</text>
<text x="393.6" y="311.2" font-size="7.25" font-weight="bold" fill="#1a1a1a"><tspan font-style="italic">P</tspan> = 0.04</text>
<text x="422.3" y="298.5" font-size="6.8" font-weight="bold" text-anchor="start" fill="#1a1a1a" >Parahippocampus</text>
<text x="445.3" y="395" font-size="6.95" font-weight="bold" text-anchor="middle" fill="#1a1a1a" >Salt intake (g/day)</text>
<text transform="translate(368.2,339.5) rotate(-90)" x="0" y="0" font-size="6.95" font-weight="bold" text-anchor="middle" fill="#1a1a1a" dominant-baseline="central">Normalized metabolism</text>
<path d="M51.6 438.1V513.5H166" stroke="#222" stroke-width="1.1" fill="none"/>
<path d="M49.4 513.5H51.6" stroke="#222" stroke-width="1"/>
<text x="48.6" y="515.8" font-size="6.4" font-weight="normal" text-anchor="end" fill="#1a1a1a" stroke="#1a1a1a" stroke-width="0.12">60</text>
<path d="M49.4 498.42H51.6" stroke="#222" stroke-width="1"/>
<text x="48.6" y="500.72" font-size="6.4" font-weight="normal" text-anchor="end" fill="#1a1a1a" stroke="#1a1a1a" stroke-width="0.12">65</text>
<path d="M49.4 483.34H51.6" stroke="#222" stroke-width="1"/>
<text x="48.6" y="485.64" font-size="6.4" font-weight="normal" text-anchor="end" fill="#1a1a1a" stroke="#1a1a1a" stroke-width="0.12">70</text>
<path d="M49.4 468.26H51.6" stroke="#222" stroke-width="1"/>
<text x="48.6" y="470.56" font-size="6.4" font-weight="normal" text-anchor="end" fill="#1a1a1a" stroke="#1a1a1a" stroke-width="0.12">75</text>
<path d="M49.4 453.18H51.6" stroke="#222" stroke-width="1"/>
<text x="48.6" y="455.48" font-size="6.4" font-weight="normal" text-anchor="end" fill="#1a1a1a" stroke="#1a1a1a" stroke-width="0.12">80</text>
<path d="M49.4 438.1H51.6" stroke="#222" stroke-width="1"/>
<text x="48.6" y="440.4" font-size="6.4" font-weight="normal" text-anchor="end" fill="#1a1a1a" stroke="#1a1a1a" stroke-width="0.12">85</text>
<path d="M51.6 513.5v1.8" stroke="#222" stroke-width="1"/>
<text x="51.6" y="522.6" font-size="6.4" font-weight="normal" text-anchor="middle" fill="#1a1a1a" stroke="#1a1a1a" stroke-width="0.12">0</text>
<path d="M74.02 513.5v1.8" stroke="#222" stroke-width="1"/>
<text x="74.02" y="522.6" font-size="6.4" font-weight="normal" text-anchor="middle" fill="#1a1a1a" stroke="#1a1a1a" stroke-width="0.12">7</text>
<path d="M96.44 513.5v1.8" stroke="#222" stroke-width="1"/>
<text x="96.44" y="522.6" font-size="6.4" font-weight="normal" text-anchor="middle" fill="#1a1a1a" stroke="#1a1a1a" stroke-width="0.12">14</text>
<path d="M118.86 513.5v1.8" stroke="#222" stroke-width="1"/>
<text x="118.86" y="522.6" font-size="6.4" font-weight="normal" text-anchor="middle" fill="#1a1a1a" stroke="#1a1a1a" stroke-width="0.12">21</text>
<path d="M141.28 513.5v1.8" stroke="#222" stroke-width="1"/>
<text x="141.28" y="522.6" font-size="6.4" font-weight="normal" text-anchor="middle" fill="#1a1a1a" stroke="#1a1a1a" stroke-width="0.12">28</text>
<path d="M163.7 513.5v1.8" stroke="#222" stroke-width="1"/>
<text x="163.7" y="522.6" font-size="6.4" font-weight="normal" text-anchor="middle" fill="#1a1a1a" stroke="#1a1a1a" stroke-width="0.12">35</text>
<path d="M57.8 478.7L59.8 478.41L61.8 478.12L63.8 477.82L65.8 477.52L67.8 477.22L69.8 476.91L71.8 476.59L73.8 476.27L75.8 475.94L77.8 475.61L79.8 475.26L81.8 474.9L83.8 474.54L85.8 474.16L87.8 473.76L89.8 473.35L91.8 472.92L93.8 472.48L95.8 472.01L97.8 471.52L99.8 471.01L101.8 470.47L103.8 469.9L105.8 469.3L107.8 468.68L109.8 468L111.8 467.29L113.8 466.53L115.8 465.74L117.8 464.91L119.8 464.06L121.8 463.17L123.8 462.27L125.8 461.34L127.8 460.4L129.8 459.44L131.8 458.46L133.8 457.48L135.8 456.48L137.8 455.48L139.8 454.46L141.8 453.44L143.8 452.42L145.8 451.39L147.8 450.35L149.8 449.31L151.8 448.27L153.8 447.22" stroke="#a04848" stroke-width="1.3" stroke-dasharray="1.2 2.2" fill="none"/>
<path d="M57.8 499.5L59.8 498.56L61.8 497.61L63.8 496.68L65.8 495.74L67.8 494.82L69.8 493.89L71.8 492.97L73.8 492.06L75.8 491.16L77.8 490.26L79.8 489.38L81.8 488.5L83.8 487.64L85.8 486.78L87.8 485.94L89.8 485.12L91.8 484.31L93.8 483.53L95.8 482.76L97.8 482.02L99.8 481.3L101.8 480.61L103.8 479.94L105.8 479.31L107.8 478.7L109.8 478.14L111.8 477.62L113.8 477.14L115.8 476.7L117.8 476.3L119.8 475.92L121.8 475.57L123.8 475.24L125.8 474.94L127.8 474.65L129.8 474.38L131.8 474.12L133.8 473.87L135.8 473.63L137.8 473.4L139.8 473.18L141.8 472.97L143.8 472.76L145.8 472.56L147.8 472.36L149.8 472.17L151.8 471.98L153.8 471.79" stroke="#a04848" stroke-width="1.3" stroke-dasharray="1.2 2.2" fill="none"/>
<path d="M57.8 489.1L154.8 459.2" stroke="#8e1414" stroke-width="1.7" fill="none"/>
<circle cx="57.8" cy="468.7" r="2.05" fill="#0b1220"/>
<circle cx="59.4" cy="469.9" r="2.05" fill="#0b1220"/>
<circle cx="64.2" cy="484.8" r="2.05" fill="#0b1220"/>
<circle cx="67.5" cy="488.4" r="2.05" fill="#0b1220"/>
<circle cx="70.8" cy="499.5" r="2.05" fill="#0b1220"/>
<circle cx="77.2" cy="474.4" r="2.05" fill="#0b1220"/>
<circle cx="77.5" cy="482.6" r="2.05" fill="#0b1220"/>
<circle cx="77.8" cy="486" r="2.05" fill="#0b1220"/>
<circle cx="83.8" cy="473.2" r="2.05" fill="#0b1220"/>
<circle cx="84" cy="478.7" r="2.05" fill="#0b1220"/>
<circle cx="83.8" cy="482" r="2.05" fill="#0b1220"/>
<circle cx="85.3" cy="501.9" r="2.05" fill="#0b1220"/>
<circle cx="90.4" cy="479" r="2.05" fill="#0b1220"/>
<circle cx="90.4" cy="488.6" r="2.05" fill="#0b1220"/>
<circle cx="96.5" cy="459.4" r="2.05" fill="#0b1220"/>
<circle cx="96.5" cy="503.7" r="2.05" fill="#0b1220"/>
<circle cx="103.1" cy="465.1" r="2.05" fill="#0b1220"/>
<circle cx="103.1" cy="492.9" r="2.05" fill="#0b1220"/>
<circle cx="103.1" cy="501" r="2.05" fill="#0b1220"/>
<circle cx="108.7" cy="466.8" r="2.05" fill="#0b1220"/>
<circle cx="109.8" cy="469.5" r="2.05" fill="#0b1220"/>
<circle cx="109.5" cy="501.3" r="2.05" fill="#0b1220"/>
<circle cx="115.1" cy="450.7" r="2.05" fill="#0b1220"/>
<circle cx="116.2" cy="449.2" r="2.05" fill="#0b1220"/>
<circle cx="116.2" cy="462" r="2.05" fill="#0b1220"/>
<circle cx="119.6" cy="466.8" r="2.05" fill="#0b1220"/>
<circle cx="129.1" cy="454.9" r="2.05" fill="#0b1220"/>
<circle cx="129.1" cy="462" r="2.05" fill="#0b1220"/>
<circle cx="139.2" cy="460.5" r="2.05" fill="#0b1220"/>
<circle cx="148.4" cy="454.9" r="2.05" fill="#0b1220"/>
<circle cx="155.3" cy="467.7" r="2.05" fill="#0b1220"/>
<text x="57.1" y="440.2" font-size="7.25" font-weight="bold" fill="#1a1a1a"><tspan font-style="italic">r</tspan> = 0.47</text>
<text x="57.1" y="448.1" font-size="7.25" font-weight="bold" fill="#1a1a1a"><tspan font-style="italic">P</tspan> &lt; 0.01</text>
<text x="102" y="435.4" font-size="6.8" font-weight="bold" text-anchor="start" fill="#1a1a1a" >Insula</text>
<text x="108.8" y="531.5" font-size="7.2" font-weight="bold" text-anchor="middle" fill="#1a1a1a" >Salty preference score</text>
<text transform="translate(30.75,476.6) rotate(-90)" x="0" y="0" font-size="6.95" font-weight="bold" text-anchor="middle" fill="#1a1a1a" dominant-baseline="central">Normalized metabolism</text>
<path d="M223.2 438.1V513.5H337" stroke="#222" stroke-width="1.1" fill="none"/>
<path d="M221 513.5H223.2" stroke="#222" stroke-width="1"/>
<text x="220.2" y="515.8" font-size="6.4" font-weight="normal" text-anchor="end" fill="#1a1a1a" stroke="#1a1a1a" stroke-width="0.12">60</text>
<path d="M221 498.42H223.2" stroke="#222" stroke-width="1"/>
<text x="220.2" y="500.72" font-size="6.4" font-weight="normal" text-anchor="end" fill="#1a1a1a" stroke="#1a1a1a" stroke-width="0.12">70</text>
<path d="M221 483.34H223.2" stroke="#222" stroke-width="1"/>
<text x="220.2" y="485.64" font-size="6.4" font-weight="normal" text-anchor="end" fill="#1a1a1a" stroke="#1a1a1a" stroke-width="0.12">80</text>
<path d="M221 468.26H223.2" stroke="#222" stroke-width="1"/>
<text x="220.2" y="470.56" font-size="6.4" font-weight="normal" text-anchor="end" fill="#1a1a1a" stroke="#1a1a1a" stroke-width="0.12">90</text>
<path d="M221 453.18H223.2" stroke="#222" stroke-width="1"/>
<text x="220.2" y="455.48" font-size="6.4" font-weight="normal" text-anchor="end" fill="#1a1a1a" stroke="#1a1a1a" stroke-width="0.12">100</text>
<path d="M221 438.1H223.2" stroke="#222" stroke-width="1"/>
<text x="220.2" y="440.4" font-size="6.4" font-weight="normal" text-anchor="end" fill="#1a1a1a" stroke="#1a1a1a" stroke-width="0.12">110</text>
<path d="M223.2 513.5v1.8" stroke="#222" stroke-width="1"/>
<text x="223.2" y="522.6" font-size="6.4" font-weight="normal" text-anchor="middle" fill="#1a1a1a" stroke="#1a1a1a" stroke-width="0.12">0</text>
<path d="M245.6 513.5v1.8" stroke="#222" stroke-width="1"/>
<text x="245.6" y="522.6" font-size="6.4" font-weight="normal" text-anchor="middle" fill="#1a1a1a" stroke="#1a1a1a" stroke-width="0.12">7</text>
<path d="M268 513.5v1.8" stroke="#222" stroke-width="1"/>
<text x="268" y="522.6" font-size="6.4" font-weight="normal" text-anchor="middle" fill="#1a1a1a" stroke="#1a1a1a" stroke-width="0.12">14</text>
<path d="M290.4 513.5v1.8" stroke="#222" stroke-width="1"/>
<text x="290.4" y="522.6" font-size="6.4" font-weight="normal" text-anchor="middle" fill="#1a1a1a" stroke="#1a1a1a" stroke-width="0.12">21</text>
<path d="M312.8 513.5v1.8" stroke="#222" stroke-width="1"/>
<text x="312.8" y="522.6" font-size="6.4" font-weight="normal" text-anchor="middle" fill="#1a1a1a" stroke="#1a1a1a" stroke-width="0.12">28</text>
<path d="M335.2 513.5v1.8" stroke="#222" stroke-width="1"/>
<text x="335.2" y="522.6" font-size="6.4" font-weight="normal" text-anchor="middle" fill="#1a1a1a" stroke="#1a1a1a" stroke-width="0.12">35</text>
<path d="M229.8 478.8L231.8 478.75L233.8 478.69L235.8 478.63L237.8 478.57L239.8 478.51L241.8 478.45L243.8 478.38L245.8 478.31L247.8 478.23L249.8 478.15L251.8 478.06L253.8 477.97L255.8 477.87L257.8 477.77L259.8 477.65L261.8 477.52L263.8 477.39L265.8 477.23L267.8 477.07L269.8 476.88L271.8 476.68L273.8 476.46L275.8 476.21L277.8 475.95L279.8 475.66L281.8 475.33L283.8 474.96L285.8 474.56L287.8 474.14L289.8 473.69L291.8 473.22L293.8 472.73L295.8 472.22L297.8 471.7L299.8 471.17L301.8 470.64L303.8 470.09L305.8 469.54L307.8 468.98L309.8 468.42L311.8 467.85L313.8 467.28L315.8 466.71L317.8 466.13L319.8 465.55L321.8 464.97L323.8 464.39L325.8 463.8" stroke="#a04848" stroke-width="1.3" stroke-dasharray="1.2 2.2" fill="none"/>
<path d="M229.8 492.2L231.8 491.69L233.8 491.18L235.8 490.68L237.8 490.18L239.8 489.67L241.8 489.18L243.8 488.68L245.8 488.19L247.8 487.71L249.8 487.22L251.8 486.75L253.8 486.28L255.8 485.81L257.8 485.36L259.8 484.91L261.8 484.47L263.8 484.05L265.8 483.64L267.8 483.24L269.8 482.87L271.8 482.5L273.8 482.16L275.8 481.85L277.8 481.55L279.8 481.28L281.8 481.05L283.8 480.85L285.8 480.68L287.8 480.55L289.8 480.44L291.8 480.34L293.8 480.27L295.8 480.21L297.8 480.17L299.8 480.14L301.8 480.11L303.8 480.09L305.8 480.08L307.8 480.08L309.8 480.08L311.8 480.08L313.8 480.09L315.8 480.1L317.8 480.12L319.8 480.13L321.8 480.15L323.8 480.17L325.8 480.19" stroke="#a04848" stroke-width="1.3" stroke-dasharray="1.2 2.2" fill="none"/>
<path d="M229.8 485.5L326.5 471.9" stroke="#8e1414" stroke-width="1.7" fill="none"/>
<circle cx="229.8" cy="497.6" r="2.05" fill="#0b1220"/>
<circle cx="231.4" cy="483.7" r="2.05" fill="#0b1220"/>
<circle cx="231.4" cy="485" r="2.05" fill="#0b1220"/>
<circle cx="236.3" cy="479" r="2.05" fill="#0b1220"/>
<circle cx="239.4" cy="467.1" r="2.05" fill="#0b1220"/>
<circle cx="242.9" cy="485.6" r="2.05" fill="#0b1220"/>
<circle cx="249.2" cy="476.3" r="2.05" fill="#0b1220"/>
<circle cx="249.2" cy="481.3" r="2.05" fill="#0b1220"/>
<circle cx="249.2" cy="484.5" r="2.05" fill="#0b1220"/>
<circle cx="255.5" cy="479.3" r="2.05" fill="#0b1220"/>
<circle cx="256" cy="495.5" r="2.05" fill="#0b1220"/>
<circle cx="256" cy="500.3" r="2.05" fill="#0b1220"/>
<circle cx="257.6" cy="483.7" r="2.05" fill="#0b1220"/>
<circle cx="261.8" cy="480.2" r="2.05" fill="#0b1220"/>
<circle cx="262.3" cy="485" r="2.05" fill="#0b1220"/>
<circle cx="268.6" cy="466.8" r="2.05" fill="#0b1220"/>
<circle cx="268.6" cy="486.1" r="2.05" fill="#0b1220"/>
<circle cx="274.9" cy="468.6" r="2.05" fill="#0b1220"/>
<circle cx="274.9" cy="473.9" r="2.05" fill="#0b1220"/>
<circle cx="274.9" cy="487.1" r="2.05" fill="#0b1220"/>
<circle cx="274.9" cy="491.6" r="2.05" fill="#0b1220"/>
<circle cx="280.5" cy="473.9" r="2.05" fill="#0b1220"/>
<circle cx="281.4" cy="477.7" r="2.05" fill="#0b1220"/>
<circle cx="281.4" cy="487.4" r="2.05" fill="#0b1220"/>
<circle cx="286.5" cy="479.3" r="2.05" fill="#0b1220"/>
<circle cx="287.8" cy="473.5" r="2.05" fill="#0b1220"/>
<circle cx="290.9" cy="472.1" r="2.05" fill="#0b1220"/>
<circle cx="292" cy="471.8" r="2.05" fill="#0b1220"/>
<circle cx="301" cy="450" r="2.05" fill="#0b1220"/>
<circle cx="301" cy="476.3" r="2.05" fill="#0b1220"/>
<circle cx="311.1" cy="485.3" r="2.05" fill="#0b1220"/>
<circle cx="320.2" cy="478.3" r="2.05" fill="#0b1220"/>
<circle cx="326.9" cy="474.6" r="2.05" fill="#0b1220"/>
<text x="228.7" y="440.2" font-size="7.25" font-weight="bold" fill="#1a1a1a"><tspan font-style="italic">r</tspan> = 0.37</text>
<text x="228.7" y="448.1" font-size="7.25" font-weight="bold" fill="#1a1a1a"><tspan font-style="italic">P</tspan> = 0.04</text>
<text x="274.8" y="435.4" font-size="6.8" font-weight="bold" text-anchor="start" fill="#1a1a1a" >OFC</text>
<text x="280.4" y="531.5" font-size="7.2" font-weight="bold" text-anchor="middle" fill="#1a1a1a" >Salty preference score</text>
<text transform="translate(200,476.6) rotate(-90)" x="0" y="0" font-size="6.95" font-weight="bold" text-anchor="middle" fill="#1a1a1a" dominant-baseline="central">Normalized metabolism</text>
<path d="M388.3 438.1V513.5H503" stroke="#222" stroke-width="1.1" fill="none"/>
<path d="M386.1 502.73H388.3" stroke="#222" stroke-width="1"/>
<text x="385.3" y="505.03" font-size="6.4" font-weight="normal" text-anchor="end" fill="#1a1a1a" stroke="#1a1a1a" stroke-width="0.12">50</text>
<path d="M386.1 481.19H388.3" stroke="#222" stroke-width="1"/>
<text x="385.3" y="483.49" font-size="6.4" font-weight="normal" text-anchor="end" fill="#1a1a1a" stroke="#1a1a1a" stroke-width="0.12">60</text>
<path d="M386.1 459.64H388.3" stroke="#222" stroke-width="1"/>
<text x="385.3" y="461.94" font-size="6.4" font-weight="normal" text-anchor="end" fill="#1a1a1a" stroke="#1a1a1a" stroke-width="0.12">70</text>
<path d="M386.1 438.1H388.3" stroke="#222" stroke-width="1"/>
<text x="385.3" y="440.4" font-size="6.4" font-weight="normal" text-anchor="end" fill="#1a1a1a" stroke="#1a1a1a" stroke-width="0.12">80</text>
<path d="M388.3 513.5v1.8" stroke="#222" stroke-width="1"/>
<text x="388.3" y="522.6" font-size="6.4" font-weight="normal" text-anchor="middle" fill="#1a1a1a" stroke="#1a1a1a" stroke-width="0.12">0</text>
<path d="M410.95 513.5v1.8" stroke="#222" stroke-width="1"/>
<text x="410.95" y="522.6" font-size="6.4" font-weight="normal" text-anchor="middle" fill="#1a1a1a" stroke="#1a1a1a" stroke-width="0.12">7</text>
<path d="M433.6 513.5v1.8" stroke="#222" stroke-width="1"/>
<text x="433.6" y="522.6" font-size="6.4" font-weight="normal" text-anchor="middle" fill="#1a1a1a" stroke="#1a1a1a" stroke-width="0.12">14</text>
<path d="M456.25 513.5v1.8" stroke="#222" stroke-width="1"/>
<text x="456.25" y="522.6" font-size="6.4" font-weight="normal" text-anchor="middle" fill="#1a1a1a" stroke="#1a1a1a" stroke-width="0.12">21</text>
<path d="M478.9 513.5v1.8" stroke="#222" stroke-width="1"/>
<text x="478.9" y="522.6" font-size="6.4" font-weight="normal" text-anchor="middle" fill="#1a1a1a" stroke="#1a1a1a" stroke-width="0.12">28</text>
<path d="M501.55 513.5v1.8" stroke="#222" stroke-width="1"/>
<text x="501.55" y="522.6" font-size="6.4" font-weight="normal" text-anchor="middle" fill="#1a1a1a" stroke="#1a1a1a" stroke-width="0.12">35</text>
<path d="M394.9 480.3L396.9 480.16L398.9 480.01L400.9 479.87L402.9 479.72L404.9 479.57L406.9 479.41L408.9 479.25L410.9 479.09L412.9 478.92L414.9 478.75L416.9 478.57L418.9 478.39L420.9 478.2L422.9 478L424.9 477.8L426.9 477.58L428.9 477.35L430.9 477.12L432.9 476.87L434.9 476.6L436.9 476.32L438.9 476.03L440.9 475.71L442.9 475.39L444.9 475.03L446.9 474.65L448.9 474.23L450.9 473.78L452.9 473.3L454.9 472.8L456.9 472.28L458.9 471.74L460.9 471.18L462.9 470.61L464.9 470.03L466.9 469.44L468.9 468.84L470.9 468.23L472.9 467.61L474.9 467L476.9 466.37L478.9 465.75L480.9 465.11L482.9 464.48L484.9 463.84L486.9 463.21L488.9 462.56L490.9 461.92" stroke="#a04848" stroke-width="1.3" stroke-dasharray="1.2 2.2" fill="none"/>
<path d="M394.9 492.9L396.9 492.36L398.9 491.82L400.9 491.28L402.9 490.74L404.9 490.21L406.9 489.68L408.9 489.16L410.9 488.63L412.9 488.12L414.9 487.6L416.9 487.1L418.9 486.6L420.9 486.1L422.9 485.61L424.9 485.14L426.9 484.67L428.9 484.21L430.9 483.76L432.9 483.33L434.9 482.91L436.9 482.5L438.9 482.11L440.9 481.74L442.9 481.39L444.9 481.05L446.9 480.75L448.9 480.49L450.9 480.25L452.9 480.04L454.9 479.86L456.9 479.7L458.9 479.56L460.9 479.43L462.9 479.32L464.9 479.21L466.9 479.12L468.9 479.04L470.9 478.96L472.9 478.89L474.9 478.82L476.9 478.76L478.9 478.7L480.9 478.65L482.9 478.6L484.9 478.55L486.9 478.51L488.9 478.46L490.9 478.42" stroke="#a04848" stroke-width="1.3" stroke-dasharray="1.2 2.2" fill="none"/>
<path d="M394.9 486.6L491.9 470" stroke="#8e1414" stroke-width="1.7" fill="none"/>
<circle cx="394.9" cy="473.5" r="2.05" fill="#0b1220"/>
<circle cx="396.5" cy="479" r="2.05" fill="#0b1220"/>
<circle cx="401.3" cy="482.8" r="2.05" fill="#0b1220"/>
<circle cx="404.6" cy="489.6" r="2.05" fill="#0b1220"/>
<circle cx="407.7" cy="494.7" r="2.05" fill="#0b1220"/>
<circle cx="414.2" cy="469.6" r="2.05" fill="#0b1220"/>
<circle cx="414.2" cy="482.8" r="2.05" fill="#0b1220"/>
<circle cx="414.2" cy="490.4" r="2.05" fill="#0b1220"/>
<circle cx="420.6" cy="473.9" r="2.05" fill="#0b1220"/>
<circle cx="420.6" cy="492.3" r="2.05" fill="#0b1220"/>
<circle cx="420.6" cy="504.3" r="2.05" fill="#0b1220"/>
<circle cx="422.4" cy="486.8" r="2.05" fill="#0b1220"/>
<circle cx="427" cy="472.3" r="2.05" fill="#0b1220"/>
<circle cx="427" cy="485.3" r="2.05" fill="#0b1220"/>
<circle cx="433.5" cy="473.9" r="2.05" fill="#0b1220"/>
<circle cx="433.5" cy="490.4" r="2.05" fill="#0b1220"/>
<circle cx="439.9" cy="471.7" r="2.05" fill="#0b1220"/>
<circle cx="439.9" cy="478.4" r="2.05" fill="#0b1220"/>
<circle cx="439.9" cy="483.2" r="2.05" fill="#0b1220"/>
<circle cx="439.9" cy="494.4" r="2.05" fill="#0b1220"/>
<circle cx="445.3" cy="471.4" r="2.05" fill="#0b1220"/>
<circle cx="446.3" cy="476" r="2.05" fill="#0b1220"/>
<circle cx="446.7" cy="486.3" r="2.05" fill="#0b1220"/>
<circle cx="451.9" cy="477.9" r="2.05" fill="#0b1220"/>
<circle cx="453.3" cy="460.9" r="2.05" fill="#0b1220"/>
<circle cx="453.3" cy="470" r="2.05" fill="#0b1220"/>
<circle cx="456.5" cy="480.2" r="2.05" fill="#0b1220"/>
<circle cx="465.8" cy="461.2" r="2.05" fill="#0b1220"/>
<circle cx="465.8" cy="470.7" r="2.05" fill="#0b1220"/>
<circle cx="476.5" cy="469.6" r="2.05" fill="#0b1220"/>
<circle cx="485.3" cy="465.8" r="2.05" fill="#0b1220"/>
<circle cx="491.9" cy="485.3" r="2.05" fill="#0b1220"/>
<text x="393.8" y="440.2" font-size="7.25" font-weight="bold" fill="#1a1a1a"><tspan font-style="italic">r</tspan> = 0.42</text>
<text x="393.8" y="448.1" font-size="7.25" font-weight="bold" fill="#1a1a1a"><tspan font-style="italic">P</tspan> = 0.02</text>
<text x="422.3" y="435.4" font-size="6.8" font-weight="bold" text-anchor="start" fill="#1a1a1a" >Parahippocampus</text>
<text x="445.5" y="531.5" font-size="7.2" font-weight="bold" text-anchor="middle" fill="#1a1a1a" >Salty preference score</text>
<text transform="translate(368.2,476.6) rotate(-90)" x="0" y="0" font-size="6.95" font-weight="bold" text-anchor="middle" fill="#1a1a1a" dominant-baseline="central">Normalized metabolism</text>
</g>
</svg>
</body></html>
